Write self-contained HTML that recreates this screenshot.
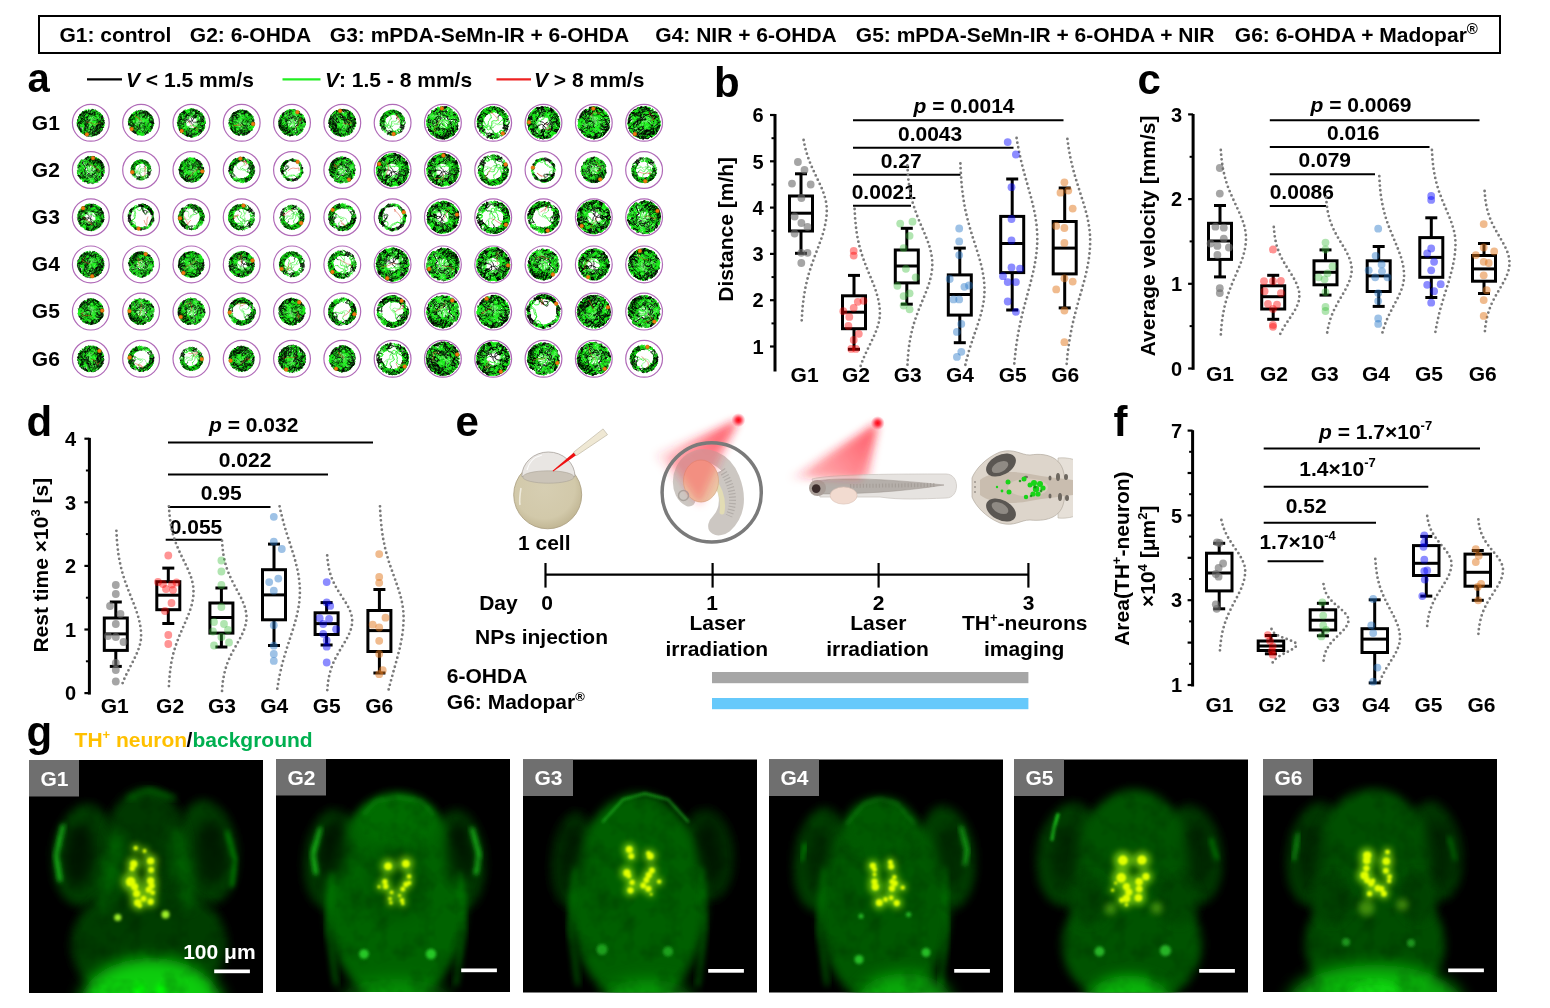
<!DOCTYPE html>
<html><head><meta charset="utf-8"><title>Figure</title>
<style>
html,body{margin:0;padding:0;background:#fff;}
body{width:1550px;height:1008px;overflow:hidden;}
svg{display:block;will-change:transform;font-family:"Liberation Sans",sans-serif;font-weight:bold;font-size:21px;}
</style></head><body>
<svg width="1550" height="1008" viewBox="0 0 1550 1008">
<rect x="39" y="16" width="1461" height="37" fill="none" stroke="#000" stroke-width="2"/>
<text x="59.4" y="42">G1: control</text>
<text x="189.8" y="42">G2: 6-OHDA</text>
<text x="329.8" y="42">G3: mPDA-SeMn-IR + 6-OHDA</text>
<text x="655.3" y="42">G4: NIR + 6-OHDA</text>
<text x="855.8" y="42">G5: mPDA-SeMn-IR + 6-OHDA + NIR</text>
<text x="1234.8" y="42">G6: 6-OHDA + Madopar<tspan font-size="15" dy="-8">&#174;</tspan></text>
<text x="27.4" y="92.3" font-size="40">a</text>
<line x1="87" y1="79.3" x2="122" y2="79.3" stroke="#000" stroke-width="2.2"/>
<text x="126" y="87"><tspan font-style="italic">V</tspan> &lt; 1.5 mm/s</text>
<line x1="282.5" y1="79.3" x2="320.5" y2="79.3" stroke="#22ee22" stroke-width="2.2"/>
<text x="325" y="87"><tspan font-style="italic">V</tspan>: 1.5 - 8 mm/s</text>
<line x1="496.5" y1="79.3" x2="531" y2="79.3" stroke="#ee2222" stroke-width="2.2"/>
<text x="534" y="87"><tspan font-style="italic">V</tspan> &gt; 8 mm/s</text>
<text x="31.8" y="129.5">G1</text>
<text x="31.8" y="176.7">G2</text>
<text x="31.8" y="223.9">G3</text>
<text x="31.8" y="271.1">G4</text>
<text x="31.8" y="318.3">G5</text>
<text x="31.8" y="365.5">G6</text>
<defs>
<g id="tF1" fill="none" stroke-linecap="round" stroke-linejoin="round" stroke-width="1.5" transform="scale(0.5)">
<path d="M10 5l2-2l3-2l1-3M16 -2l2-2l3-1l3 2l2 1l3 2l1 3l2 2M-11 7l1-3l0-3l1-3l3-2l1-3M0 -8l0 3l1 3l2 2l2 2M5 2l2 2l1 3l3 0l3 1l3-1l3 0l3 0l1-3l-2-3M-5 -14l0-3l1-3l1-3l1-2l-1-3l0-3l0 3l1 3l-3 2M6 5l2 3l1 2l2 2l3 0l1 3M-2 18l3 1l3-1l1-3M5 15l2-2l3-1l2-1l2-3M-9 -6l2 1l3 2l0 3l-3 1l-2 2l-3 0M-12 8l3 2l0 3l1 2l1 3" stroke="#7cf87c"/>
<path d="M-19 6l2-3l1-3l1-3l0-3l-2-2l-3-1l-2-3l-2-1M-22 -10l2 2l3 2l3 1l2 1l2 3l0 3l-1 3M-11 5l2 2l2 3l3 0l2 1l3-2l2-2l1-3l2-2l1 2M7 4l2 2l1 3l2 2l3 1l2 3l2 2M20 -7l-3 0l-3 0l-3 1l-3 0l-1-3l0-3l-2-2l0-3l-2-3M3 -20l-3 0l-2-3l-2-2M-4 -25l-2-1l-2-2l-2-3l3 0l1 3l2 2l1 3l-1 3M-4 -20l-2 2l-2 3l-3 0l-2 1l-3 0l-3-2l-2-1l-3 1M-24 -16l-1 3l-2 3l-2 1l-3 0l3 0l3 1l1-3l2-2M-5 -7l-1-3l2-2l0-3l2-2l3-1l2-2l1-3l3-2M17 -15l-3 2l-3 0l-2-2l-3-1l-2 1l-3 2l-2 2l1 3M22 1l-2-2l-2 2l-3 1l-1 3l-1 3l-3 2l-1 2M9 12l-2 2l-2 3l-3 1l0 3l-2 3l1 3l0 3M1 30l-2 2l-3 1l-3 0l-2-2l-1-3l-1-3l1-3l2-2M-8 20l1-3l1-3l3 1l2 2l3 0l3 1l2-1M7 17l3 1l2 2l2 2l2 2l2 3M14 -22l3 1l3 1l3-1l2-2M25 -23l-2-2l1 3l0 3l3 1l-2 1l-3 1l-3-1l-3 0M16 -17l-3 0l-2 2l-3-1l-3-1l-2 1l-1 3l-2 1l-3 2M-3 -10l-2 2l-3 0l-3 1l-2 3l-2-1M-16 -8l2 1l2 3l2 2l2 2M-8 17l-3 2l-3 0l-2 2l-3-1l-1-3M-20 -3l2-2l1-3l2-2l2-2l2-2l3 0l3 0M-5 -23l-3 0l-3 0l-3 0l-1-2l-3-2l-2 2l-3 1l2-2l0 3M-21 -23l0 3l0 3l1 3l2 1l3 1M-15 -12l3 1l3 0l2-2M-1 -13l2 2l1 3l1 3l0 3l2 2M-9 23l-3 1l-1 3l-3 1l-3 0l3 0l3 0M-13 28l3 0l3 0l3 0l3 1l3 0l2 1l3 0l3 0M1 10l-1-3l-2-2l0-3l1-3M-1 -1l1-3l2-2l2 2l1 3l1 3l0 3M15 15l1 3l1 2l1 3l1 3M19 26l-1 3l-2-3l-2-2M-2 2l-3 0l0 3l1 3l1 3l3 2l2 2l1 2l0 3M3 20l-3 0l-3 1l-2 1l-3-2l-3-1l-2 2l0 3M-19 24l2-2l2-3l2-2l3-1M-10 16l3 1l3-1l2 2M20 2l1-3l3-2l3 0M27 -3l3 0l2 2l-1-3l-1-3l-1-3M-9 -19l-3 2l-3 0l-3 1l-1 3M-19 -13l2 2l2 2l3 1l3 2M-12 3l-2 2l-3 2l-2 2l-3-1l-3 1M-25 9l-2-2l-2-1l-3-2M-32 4l0 3l1-3l1-3l-1-3l-2-2l3 1l2 1l2 3l1 3M-25 4l-1 2l-2 3l-2 2l2-1M-28 10l3 1l-2 3l-1 2l-2-3M-30 13l3 1l2 2l0 3l-2-2l-1-3l-1-3l1-3M-20 -13l2 3l0 3l0 3l-1 3M-19 -1l3 1l2 2l1 3l1 3M10 18l3 1l3-1l2-2l0-3l1-3l2-2l0-3l3-2l2-1M26 2l2-3l0-3l0-3l-2-2l-2-2l-2-2l0-3" stroke="#19f019"/>
<path d="M-24 -13l-3-1l-3-2l2-2l0 2l1 3l2 2l3 1M19 17l2 2l1 3l3 1l-3-2l-3 0l-2-1l-3-2M14 18l-1-3l-2-2l-1-2l-1-3l1-3M32 5l0 3l0-3l-1-2l-2-3l-2-2l-2-2l-3-2l-2-1M29 11l-3 1l-1 2l-2 3M23 17l-2 1l-3 0l-3 1l-3 1l-2 2l-3-1l-3 1l-3-1l-1-3M0 18l-3-1l-3 0l-2-2l-2-3l-1-2l0-3M7 -25l2-2l3-1l2 2l3 1l3 0l2 2M22 -23l2 2l-1-3l-2-2l2 2l1 3l-2 2l-2 2l-3 2M18 27l2-2l1-3l-2-2l-3-2M-15 -5l-3-1l-2-2l-1-3l0-3l-2-2M-23 -16l-3 1l-3 0l-2 2l2-2l3 2l1 2l3 2l3 0l3 1M-8 0l3 1l3 2l0 3l1 3l-2 2l-1 3l-1 3l-3 0M-20 17l0-3l-1-2l-1-3l0-3l0-3l1-3l1-3M-7 -13l1-3l3 1l2 2M-2 24l-2-2l-3 0l-2 1M10 30l3 0l-3 0l-2-1l-3-1l-3-1l-3-1M-1 26l-1-2l0-3l1-3l1-3l2-2l-1-3M14 24l-2-2l0-3l-1-3l-1-3l-1-2l-2-2M7 9l-2-2l-3-1l-3-1l-1-3M-13 24l0 3l-2 2l-2-3l-2-2M14 8l3-2l1-2l2-2M1 -22l-3 0l-2 2l-2 2l-3-1M-28 8l2-1l2-2l0-3M-24 2l1-3l0-3l0-3l0-3l-3-2l-2-1l2-1M-26 -14l2-3l2-2l0-3l1-3l-1 3l1 3l1 3l0 3M-7 18l2 2l3 0l3-1l3-1l3 0l3 0" stroke="#000"/>
<path d="M-12 -3l-1 2l-3 2l-2 2l-3-1M13 -4l2 2l3 1l3 1l2-2l0-3l1-3l3-1l3 1l2 2M-14 -4l0-3l-1-3l3 0l2-2M-10 -12l1-3l-3-1l-3-2l-2-1l-3 1M5 16l-3 1l-2 1l-3 1l-3 1l-3 1l-2-2l0-3l-2-3M-13 13l-2-2l-1-2l-2-3l0-3l-1-3M-2 17l-2-2l-3-1l-1-3l0-3l-1-2l-3-2M-12 4l-3 0l-2 1l0 3l1 3l-2 2l-2 3M18 2l-3-1l0-3l-2-3l2-2l2-2l0-3l-3-1l-3-2l0-3" stroke="#7cf87c"/>
<path d="M-21 2l-3-1l-1-3l-1-2l-3-2l-1-3l1-2l2-3l3-1M-24 -15l-1-3l-1-3l-2 3l-1 3l-1 2M-30 -13l-1 3l-1 3l2-2l1-3l2-2M-27 -14l3-1l3 0l1 3l2 1l3-1l2-2l1-3M-12 -17l0-3l1-3l1-3l3-1l1-3l2-2l-2 1l-1 3M-7 -28l0 3l2 3l-3 0l-3-1l-2-2l-2-2M-18 -16l2 0l3 2l-1 3l2 3M-12 -8l2 0l3 2l1 3l2 2l3 0l3-1l2-2l1-3M32 -6l1 3l0-3l-1-3l-3-1l-2-2M17 -24l-3 0l-1 3l-2 2l-1 3M10 -16l-2 1l-3 1l-3-1l-2-2l-3 1M16 18l-3 0l-2 1l-3 1l-3 2l-3 0l-3 0l-3 0M-4 22l-3-2l-3 0l-2-2l-2-1M-14 17l-3-1l-3 0l-3-1M-23 15l-1-3l0-3l1-3l2-2l2-2l3-1l2-2l0-3M-20 -18l-2 2l-2 2l-3 0l-3 2l-2 2l1-3l3 0l3 0M-25 -13l3-1l1-3l1-3l2 0l3 1l2 2M-18 -7l-2-2l0-3l0-3l-2-2l0-3l-1-3l-1 3l-1 2M-23 -17l1-3l-1-3l3 0l3 0l0 3l-2 2l-3 1M-23 -10l0 3l0 3l-2 2M-25 -2l-3 0l-2 2l-1 3l0 3l0 3l2-2l3 0l3-2l2-1M5 0l0 3l3 1l2 1l3-1l3 0l2 3l0 3l-2 3M16 13l-2 1l-3 1l-3 1l-3 0M-19 0l-2-2l-1-3l-1-3l1-3l3-2l0-3l2-2M-17 -18l2-3l2-1l3 1l2-2l3 1l3 1l2 2M0 -19l1 3l0 3l-2 3l-2 2l-3 0l-3 1M-16 1l-3 1l-3-2l-2-1l-2-3l-1-2l-3-1M-12 13l0-3l1-3l1-2l0-3l-1-3l-1-3l-2-2l-1-3M-20 -17l-2-2l0-3l1-3l1 3l1 3l3 0M-16 -19l2-2l2-2l-1-3l-1-3l-2 3l-1 3M-17 -23l-2-1l-3-1l0 3M29 -10l-2-1l-3-2l-2-2l-1-2l-2 2l-3-1l-2 3l-1 3l0 3M-20 16l-2 2l-2 2l3-1l2 2l1 2l1 3l1 3l1-2M-15 27l3-1l3 0l3 0l2-3l0-3l1-2M-3 18l1-3l2-2l3-1l3 0l3 1l3 0M24 19l-1-2l3-2l3 1l-3 2l-1 2l2-2M27 18l2-2l1-3l2-2l-3-1l-3-1l-2-2l-3 0l-2-3l-1-2M11 -18l-2-2l-1-3l0-3l-3-2M5 -28l-2-2l-2-2l3-1l3 2l2 2l3 1l2 1M22 -16l3-2l2-2l-2 2l0 3l-2 3l-1 2l-2 3l-1 3l-1 3M1 -1l-2-3l-1-2l-1-3l2-2l1-3l2-3l1-3l0-2l3-1M9 -15l-3 1l-3 1l-3 1M-11 -21l0-3l2-1l3-1l3-2l3 0l2-1M2 -29l3-1l3 1l1 3l3 1l3 1l3-1M18 -25l2 2l3-2l-3-2l-1 3l1 3l2 2l2 2l3 0l-1-2M13 -16l1 2l-2 3l-3 1l-3 0l-2-3M-13 -22l-2 2l-3 1l-3 0l-3 1l-3-1l2-1l1-3l-1 3" stroke="#19f019"/>
<path d="M-23 -13l2 2l1 3l3 2l2 1l3 2M-15 -27l-3 2l-2 2l0 3l-1 3l3 1M5 -7l2-2l3 0l2 2l1 3M27 -12l-2-3l-2-2l-1-2l-1-3l-1-3l-2-2l-1 3M-13 -17l0 3l-1 2l-1 3l-3 2M-25 -18l0 3l2 2l1 3l-3 0l-2 2l-3 0l-1 3l-3 2l3-2M-31 -5l2-2l2-2l1-3l2-2l1-3M-22 -17l-3 2l0 3l2 2M-21 4l3-2l3 1l0 3l2 2l0 3M-9 -7l-3 0l-2 2l-1 3l-1 3M-30 -7l-2 2l-1 3l3 0M-30 -2l2 1l1 3l2 2l2 3l1 2l2 3l0 3M-20 15l-1 3l1 2l3-1M-17 19l3 0l1-3l1-3M-15 -9l-2-3l0-3l-3-2M13 -7l-3 1l-3 1l-2 2l-1 2l-1 3l3 2l2 2l2 2l1 3M11 11l1 3l0 3l-3 1l-3 2l-3-1l-3-1l-2-1M12 13l2 2l2 2l3 0l3 1l2 1M18 -1l-2 2l-3 1l-1 2l-2 2l-3-1l-2-2l-2-2l-2-2M6 -23l3-2l3 0l3 0l3 0M18 -25l2-1l-2 1l-1 3l-1 3l-2 1l-3 1l-2 2M0 -12l-3-1l-3-2l-2-1l-3-2l0-3M26 -19l-2-3l-2-2l-1-2l-3-1l-2 3l0 3l-1 2l-2 3M4 -13l0-3l-2-1l-2-2M0 -19l-3-1l-1-3l1-3M-3 -26l1-3l0-3l-2-1l-3 1l-1 3l-2 2l-1 3l-2 2" stroke="#000"/>
<path d="M-11 9l-1 3l-3 1l-3 1l-3 1l-3-1l-2 2l0 3M-3 5l0-3l-2-2l-2-2l0-3M5 -17l0 3l-2 3l1 3l0 3M2 -8l-2-2l2-2l1-3l2-2l2-3" stroke="#7cf87c"/>
<path d="M-20 -8l-2 1l-2 3l2 2l2 2l1 3l3 1l2 3M-9 16l3 1l2 2l-1 3l-1 3l-1 3l-1 3M-8 31l3-1l3-2l1-2l2-3l1-3M2 20l1-3l2-2l2-1l3 2M12 29l3 0l0-3l-1-3l-2-3l-3-1M9 19l-2-2l-1-3l-1-3l-1-2l-2-3l-2-2l-1-3l-1-2M-13 5l2-3l0-3l3 0M16 -20l2-3l0-3l2 2l2 3l1 3l3 2l2 0l2 3M-13 11l0 3l0 3l-1 3l0 3l1 3l2 2M-11 28l3 1l2 2l2-2l-1-3l-1-3l3-1l2-2l3 1l1 3M3 24l1 3l-2 2l-3 1l-1 2M-4 22l-2-2l-1-3l-1-3l0-3M-8 11l1-3l2-2l3 0l2 2l2 1l3 1M5 10l3-1l3 2l1 2l2 3M14 16l2 1l2 2l3 1l3 1l-2 2l-1 3l-3-2l-2-2l0-3M25 7l2-2l1-3l3 0M31 2l-3-1l-2-1l-3-1l-3 2l-1 3M4 9l0 3l0 3l-1 3l-3 2l-1 2M-1 22l-3 0l-3 1l-3 2l-2 1l-3 1M-7 -5l3-2l2 1l2 3l-1 3l-1 2M-4 -15l3 1l2 2l0 3l0 3l-3-1l0-3l-1-3l-1-3l-1-2M-5 -18l1-3l0-3l0-3l-1-3l1-3M-4 -33l-3 1l-3 2l-2 2l-1 3l-2 2M-27 -16l-1 2l-1 3l2 2l3-1M-24 -10l2-1l3-2l3-1l1-2l3-2l1-3l1-3M-10 -24l0-3l-1-2l1-3l-3 0l3 1l3 1M9 -20l-3 1l-3-1l-2-2l-3-1l0-3l-1-3l1-3M-13 -14l-3 1l-2-1l-3 0l-2 2l-3 1l-3 1l-3-2M-32 -12l3 1l3 1l3-1l2-2l2-2M-6 -31l3 1l3 1l1 3l0 3l1 2l-1 3l-2 2M4 -5l0 3l-1 2l-1 3l-2 3l-2 2M-2 8l-2 2l-2 2l-1 3l1 3l2 2l-1 3l1 3M12 23l1-3l2-2l1-3l0-3l-2-2l-3 1l-3-1l-1 3M7 13l-1 3l-3 1l0 3l1 3l3 1l3 1l3 0l2 1M18 19l-1-3l-3-1l-2-1M13 23l1 3l3 0l3 0l1-3l2-3l-1-2l2-3l-2-2l0-3M22 10l-2-3l-2-1l-3-3l-1-2l-2-2l-3-2l-2-2l-3-1l-2-2M12 -26l3-1l3-1l-2-2l-2 3l-3 0l-3-2l-3 1M-3 -23l-3 0l-3-1l-3 1l-3 0l-1-3l-2-3l3 2M-25 -20l-1 3l-2 2l-3 1l-1 3l2 2l-1 3l0 3l0 3l1 3M-30 3l1 2l-1 3l0 3l2 2l3 0l1 2M-19 22l2-1l3-1l2-2l3 0l3 1l2-3M0 -1l3-1l3-1l3 1l0 3l1 3M10 4l-2 2l-1 3l-2 2l0 3l1 3l1 3l1 2M19 24l1 3l1-3l1-3l-2-2l-1-3M19 16l-2-2l-3 0l-3 1l-3 0l-1-3l1-3M8 9l0-3l-3-1l-3 0l-3-1l-2 2l-3 1l-2 2l-3 2M-11 11l-2 0l-3 1l-3 0l-3-1l-3-1M-25 10l-2-3l-2-2l-2 2l2 2l3 1l3 0l2-2M-21 8l0-3l0-3l0-3l0-3l-1-3M-22 -7l-1-3l-2-2l-3 1l-1 2l0 3l-2 3" stroke="#19f019"/>
<path d="M-3 -16l-3 0l-3 2l-2 2l-1 3l-2 2l-3 0l-3-1M-14 7l1 2l0 3l2 3l2 1M10 16l1 3l2 2l1 3l-2 3l-2 2l0 3l2-3M-2 -1l-3-2l-3 1l-1 3l1 3l-1 3l-2 2M-26 19l2 2l3 0l2 0l2-2l-2-3l0-3l0-3M-19 10l2-2l3-1l1-2M-8 -1l1-3l3-1l2-2M-2 -7l3-1l2-3l3 1l2-2l3-2l2-1l1-3l2-2M30 -13l0 3l0 3l3 2l-2 2l-3 0l-3 1M-2 32l2 2l3-1l-1-3l1-3l-1-3l-3-2l-3 0M16 19l2-2l2-2l-1-3l0-3l3-1l3-1M19 4l-2 2l-2-1l-3 0l-3 2l-2 2l-3 0M-15 27l-3 1l3 0l3-1l2-2M-10 25l2-2l1-3l3 1l3-1l3-1l-1-3M1 16l-1-2l-1-3l-1-3l-1-3M-22 -22l3 1l2-1l0-3l-3 0M-20 -25l3 0l3 0l2 3l3 0M-9 -22l2 2l1 3l2 2M-15 -23l-2 2l-3-1l-3 2l-2 2l-2 2M-7 -30l2-2l3 2l1 3l3 0l3 1l1-3M6 -29l3-1l3 0l-1 3l0 3l0 3l-2 1M-2 -32l-2 2l-1 3l0 3l-1 3l0 3l-2 2l-2 2l-3 0M-19 -15l2-3l0-3l1-3l3 1l2-1l1-3l1-3l3-1M14 -27l3 0l3 1l-2-1l-3-1l-3 2l-2 2l-1 3l-2 3l-2 1M-4 26l2 2l3 1l1 3l3 0l2-2l2 1l1-3l0-3l2-2M15 26l3 1l-1-3l0-3l1-2M12 14l-3 2l0 3l2 1l2 3M7 -20l1-3l2-2l2-1M5 -28l-1 3l-2 2l-3 2l-2-2M-24 15l1 3l1 3l0 3l3-2M-4 16l1-3l3-2l2 2l2 2l3 1l3-1l3-1M13 14l0-3l-1-3l-1-3l-2-1l-3-1l-3 1l-3-2l0-3M8 22l3 0l3 0l3 0l2 2" stroke="#000"/>
<path d="M14 -3l-3-1l-1-3l-2-2l-2-1l-3-2l-3-1l-3 0M-3 -13l-2-1l-1-3l-3 0l-3-1l0-3l2-3M6 12l1 2l2 3l1 3l-2 2l-3-1l-3-1l-1-2l1-3l-1-3M-8 10l-3-1l-3 0l-1-3l0-3l2-3M-15 10l2 3l3 0l3-1M-7 12l2-1l2-3l2-1l2 2l0 3l-1 3l-2 3l-1 2l0 3M-10 -11l1 3l-1 2l-3 2l-3 1l-3-1M10 -1l2-2l3 2l1-3l0-3l1-3l2-2M4 -1l-3-1l-2-3l-3-1l-1-2l-3-2l-3 1l-3-1l-2 1l-3 0M13 -9l2 3l0 3l-2 2l1 3l-1 3l2 2l-2 3l-2 1M-8 -2l-3-2l-2-2l-3-1l-2-2l-1-3l-3-1l-3 0" stroke="#7cf87c"/>
<path d="M25 -2l-3 0l-3 1l-3 0l-2-2M-10 -24l1-2l1-3l0-3l1 3l2 2M-5 -27l-3 2l-3 1l-2 2l-1 3l-3 1M-17 -18l0 3l2 3l2 2l0 3l0 3l2 1M-11 -3l1 3l0 3l0 3l1 3l1 3l3 0l2 2l1 3l2 2M0 19l2 2l2 3l3 0l2-2l3-1l2 2l2 2l2 3M11 22l0-3l1-2l3-2l3 1l2 1l3 2l2 2l-3 1l-3 1M19 23l-2 3l-2 2l-3 1l-3 0l-2 2M3 9l-3 0l0-3l0-2M0 4l2 1l2 3l2 1l3 2l-1 3l0 3l-1 3M7 20l-2 3l-1 3l0 2l0 3l-3-1l-1-3l-3-1M-3 26l-2 2l-3 1l-2 2M-20 -14l0 3l2 2l0 3l0 3l0 3l2 2l2 2l0 3l-1 3M13 23l3-1l3 1l2-1l2-2l2-2l2-3l-2-3M25 12l1-3l1-3l-1-2l-1-3l-3-1l-2 1l-3 2l-1 2l-2 3M10 20l1 3l3 1l2 1l3 1l1-3M17 26l1-3l-2-2l-2-2l1-3l0-3l-1-3l-3 1l-2 2l-2 3M-1 -16l-3 1l-3-2l-2 3l-1 3M-19 -4l-3-1l-2-2l-2-2M-19 -14l3-1l0-3l-1-3l-2-2l-2-2l2 2l3 0l3 1M-13 -22l2 1l3 1l3 0l3 0l2-2l2-2l1-3M16 -27l-3-1l-1-3l-2 2l-1 3l1 3l0 3M10 -20l0 3l2 2l3 1l3 0l2 3l3 0l3 0l3 0M28 -5l0 3l2 2l1 3l0 3l-1 2l-1 3M29 11l1 3l2-2l-1-3M31 -1l-2 2l-3 1l-3 0l-3 2l0 3M20 7l0 3l0 3l-1 3l-1 2M-15 -27l3-1l2-2l3 0l3 1l2 2l3 0l3 0M4 -27l3 2l2 1l3-1l3 0l3 0l3 1l-3 0l-3 1l-1 2M14 -21l1 3l0 3l0 3l2 3l1 2l3 1l3 1l1 3l1 3M32 10l0-3l-1-2l2-3l-3 2l-2 2M20 -12l1 2l-2 2l-2 3l-3 0l-3 2l-2 2l-3 1l-2-1M-19 -9l-2-2l-2-3l-2-2l0-3l0-3l2 2l0 3l-2 3M-25 1l3-1l2-1l2-3l0-3l1-2l0-3l0-3M-17 -15l-1-3l1-3l-1-3l1-3l1-3l2 3l3 0l3 1l3 1M-5 -25l2 2l2 2l3-1l1 3l2 2l2 2l1 3l3 2l2 1M11 11l-3 0l-3 0l-3-1l-3 1l-2-3l-2-2l0-3l-2-2l-1-3M-25 -13l-2 2l-3 1l-2 2l3 1l3 1l0 3l3 0l3-1l3-1M-17 -5l1-3l0-3l-1-2M-17 -13l-1-3l1-3l1-3l-1-3l3 0l3 0l3 0M-8 -25l3-1l3-1l2-2l3 0l3-1l2-2" stroke="#19f019"/>
<path d="M18 28l-3-1l-1-3l-3-2M7 31l1-3l2-2l0-3l1-3l0-3l0-3l-3-1l-2-2l-3-2M-2 2l2 3l1 3l2 2l3 2M1 12l-3 0l-3-1l-3-1M-13 0l0-3l0-3l0-3l0-3l2-2l-1-2l-3 0l-3 0l-2 2M-3 23l3 2l1 3l3 1l3 0l2-2l2-2l2-2M14 8l-1 3l-3 1l-2 2l0 3l2 3M20 23l2-2l3 0l-2-2l-3-1l-1 3l0 3l-2 2l-2 3l2-3M-26 -9l-1-3l0-3l0-3M-27 -18l1 3l-2-1l0-3l1 3l2 2l3 0l3 0M3 -27l3-1l1-3l3-1l2 2l1 3l3 2l3 1l3-1M22 -25l2 2l-1 3l-3 1l-2-3l-2-2l0-3M29 -11l3 1l-2 3l-2 2M31 9l-3-2l-2-2l-1-3M25 2l-1-2l0-3l3-1l3 0l3 1l-2 2M26 1l3 1l0 3l1 3l2 2l-1 3l1-3M28 6l-1 3l-2 2l-1 3l-2 3l1 3l3 0l-3-2l-1-2l-3 1M19 17l-2-1l-3 0l-2-2l-2-3l0-3l0-3l-1-3l1-3M19 -12l2-3l1-2l2-3l2-1l-2-1l-3 1l-1 3l1 3l-1 3M-25 -14l0 3l2 2l0 3l1 3l0 3M-31 -3l2 2l1 3l3-1M8 -32l-2-1l-3 2l-2-1l-3 1l-3 2l-2-2l2-1l3-1M-2 -33l2 3l-1 2l-2 2l-3 0M-6 -26l-3 0l-3 0l-3-1l-3 1l2 1l3 0l3-1M-10 -26l3-1l3 0l2-2l0-3" stroke="#000"/>
<path d="M-2 9l2-2l2-2l2-2l1-3l3-2l2-2l1-3l3-1l2-2M16 -10l1-2l3-1l2-3l0-3l-3 1l0-3l-2-3M-2 -10l-2 3l-3 0l-3 0M-10 -7l-3-1l-1-3l-3-1l-1 2l-2 3M-8 -3l-1 3l-3 0l-3 2M-10 2l1 2l3 1l3 0l2-2l3-2l1-3l1-3M5 -15l-1-3l0-3l0-3l0-3l2-1l3-2l2 2l1 3M-16 -5l-1 3l-1 3l0 3l1 3l0 2l-2 2l-2 3M4 -18l-2-2l-3-2l0-2l-2-3l-1-3l0-3l1 3" stroke="#7cf87c"/>
<path d="M-10 31l-1-3l0-3l-1-3l-2-2l-1-3l0-3M-13 3l0-3l1-3l2-2l3 1M-7 -4l0 3l0 3l0 3l-1 2l-2 2l-2 3M-9 24l2 2l-1 3l0 3l0-3l-1-3l0-3M-9 23l-2-2l-2-2l-1-3l-2-3l-1-3M-17 10l1-2l-1-3l-2-3M-5 20l1-3l-1-3l1-3l2-2M-20 -7l3 1l3-2l1-2l-2-3M-15 -13l1-3l2-3l1-2l2-3l2-2l1-2M-1 13l-2-2l-3-1l-1-3M-15 2l-3 1l-2 2l-3-1M4 -5l1-2l1-3l1-3l-2-2M12 -25l1 3l-2 2l-1 2l-1 3l2 3M11 -12l2 2l2 2l0 3l-2 3l-1 3l-1 3l-1 2l0 3l1 3M11 12l3 1l2 2l3-1l3 0l2 3l3 0l3-2l-2-2l-3-1M25 12l-2-3l-3 0l-2-3M18 6l0-3l3-2l2-1l1-3l3-1l3-1M18 18l-3 2l-3 1l-2 2l-2 2l-3 1l-3 1M0 23l2-2l2-3l2-2l2-1l3-1l3 1l3 0l3 1M27 9l-1-3l-1-3l0-3M25 0l1-2l0-3l0-3l1-3l2-2l-1-3M30 -6l-3 0l-2-1l-2-3l1-2l0-3l-2-3l-2-1l-3-1l-2 2M15 -18l-3 1l-2 2l-1 3l2 3l2 2l2 2l1 3M16 -2l3 2l2 1l3 1l2-3M26 -1l3-1l3 0l1-2l-1-3l-1-3l-2-2l-2-2l-2-2M6 -23l-3 1l-1-3l-2-3l-2-1l-3 0l-3-1l-3 1l-3 1M-26 -17l3-1l3-1l2 1l3 2l0 3l0 3l1 3l3 1M-20 9l-3 0l-3 1l-3 1l1 3l2 3M-25 1l1-3l2-1l3 0l3-1M-16 -4l3-2l2-2l2-2l1-3l-2-3l2-2l3-1M-5 -19l1-3l1-2l2-2M-1 -26l1-3l1-3l3-2l1 3l0 3l3 2l3 0l2 1l3 2M31 -12l-3-1l-2-2l-2-2l-1-3l-2-2l-2-2M-5 -21l-3 0l-3 0l-1 3l1 3l2 1l3 1M-6 -13l3 1l3 1l3 1l2-2l3 0M8 -20l-3 0l-3-1l-3-1l-3 0l-1-3l-2-2l0-3M-7 -30l-1-3l3 2l3 1l3 0l1-3M-13 23l0 3l3 2l1 2l2 3l3 0l2-2l3 0M14 24l1 2l-2 3l1-3l1-3l3-2l2-1l3-2l2-2l3-2M28 14l3 0l-3 0l-3-1l-2-2M23 11l-3-1l-3 1l-3-1l-2-2l-1-3M11 5l0-3l0-3l-1-3l0-3l-2-2l-2-1l-2-2l0-3l0-3M-3 -30l1 3l-1 2l-2 2l-2 2l-2 3l-3-1M-12 -19l-1-3l1-3l-2-2M-26 -21l-2 3l3-1l3 1l3-2" stroke="#19f019"/>
<path d="M-15 14l1-3l2-2l0-3l-1-3M-12 12l-2 2l0 3l1 3l1 2l3 2M-19 2l-3 1l-2 2l-2 3l1 3l1 2l-2 3l-1 2l3-1M-24 17l2 3l1 3l3 0l1-3l3 0l3 1l3-1l3 0M17 -24l-3 0l-3-1l0 3l-3 2l-3 1l-2 2l-2 2l-1 3l-2 2M7 16l-3 0l-2-2l-3-1M-7 7l2-2l1-3l2-2l2-3l-2-2l-3 1l-3 1M-23 4l-2 2l-3 1l-3 0l-2-1l3-1M-30 5l3-1l1-2l-1-3l0-3l-2-2l-3 0M-32 -6l2-1l3-1l3 1l3 2M-21 -5l2 1l3 0l3 1l3 2l0 3M30 -5l3-1l-1-3l-2-2l-3-2l0-3l1-2l-2 1l-3-1M2 27l-2 1l-3 0l-2-2l2-2l3-1M20 16l3 1l2 2l3-2l0-2l-1-3l0-3M28 -16l2 2l1 3l1 3l-2 2M25 -16l-2-3l0-3l-1-3l-3 0l-3 0l-3 1l-2 2l-3 2l-2-3M-14 -28l-1 2l-3 1l-3 1l-2 2l-2 2l-1 3l-2 2l2-2M-22 0l-1 3l0 3l1 3l0 3l0 3l1 2l-1 3M-22 20l1 3l2 3l2-3l0-3l1-3l1-3l0-3l-2-2l-3 0M-26 17l0 2l-2-1l0-3l1-3l-2-3l2-2l0-3l2-3M16 -23l3 0l2 2l3 2l2 2M26 -17l2 2l0 3l3 0M19 -24l-1-3l-3 1l-3-1l-3 0l-3 1l-3 2l-2 2l-3 1l-3 0M8 -12l2-3l0-3l-2-2M-2 -32l-1 3l-2 2l-3 1l-3 0M-11 -26l-2 2l-2 2l-1 3l2 3l0 3l1 3l-1 3l-2 2M-21 14l-3 0l-3 1l-3 0l0-3l-2-3M-32 9l2 0l3-1l3 1l2 2l2 3l3 1l2 2l1 3l1 3M1 31l3 2l0-3l3-2l3-1l1-3l3 0M-14 -27l-3 1l-2-2l2 2l0 3l-3 1l-3 0l-3 1" stroke="#000"/>
<path d="M3 -3l-2 2l-3-2l-3-1l-3-1l-3 0l-2 2l-2 2l-2 3l-2 2M9 -15l0-3l0-3l2-2l3 0l2-3l0-3l2 2l1 3l1 3M7 -17l-3-2l0-3l-1-2l-2-2l-1-3M-11 -6l2 2l3 0l2-2l3 1l3 0l3 1l3 1l2 2l0 3M1 -1l-2-2l1-2l1-3l1-3l2-2l3 0M2 14l0 3l-3 2l-2 2l-2 2l-3-2l-1-3l-2-2l-2-3l-1-3M-18 3l2-2l3-1l2-2l3 1l3 1l3 1l1 2l-1 3M-2 6l1 3l1 3l-2 3l-1 2l-3 1" stroke="#7cf87c"/>
<path d="M-5 -22l-1 2l-1 3l2 3l2 2l2 2M-1 -10l2 2l3 1l3 0l3-1l2 1l3 2l2 2l3 2l2 2M22 1l0 3l-2 2l1 3l-1 3l-1 2l-1 3l-3 0l-3 0M12 17l-1-3l0-3l-1-3l0-3l1-3l1-3l-3-1l-3-1l-3 0M-19 4l-2 2l-1 3l1 3l0 3l1 2l1 3M-19 20l2 2l3 1l3 2l3-1l1 3M-7 27l1 3l1 2l2 2l2-3l-1-3l-2-2l-3-1l-3 2l-1 2M-11 29l-2-3l-2-1l1-3l1-3l1-3l1-3M0 2l3 1l3 1l3 0l2-2M11 2l2-3l0-3l-1-3l-1-3l-2-2l0-3M20 -21l1 2M0 -29l1-3l-2 2l-1 3l-2 2l-2 2M-6 -23l-3 1l-2 2l-3 2l-3 0l-1 2M-18 -16l-1 3l1 3l3 2l0 3l-2 1l-3 2M-14 -24l3 2l0 3l-3 1l-1 3M-27 -14l-2-1l3 0l3 0l2-1M12 -21l-2 2l-3-1l-3 1l-1-2M3 -21l-3 0l-3-1l-2 3M-5 -19l-1 3l-3 0l-1 3M-10 -13l-1 3M17 -10l-3 1l-1 3l-2 1l-2 3l-1 3l1 3l3 0M12 4l3-1l3 0l3 0l2 2l2 3l-3 2M22 10l-2 1l-3-1l-3 1l-2 2l0 3l0 3l0 3M12 22l-1 3l-3 2l-3 0l-2 1l-3 2l-3 1M-3 31l-2 1l-3-2l-1-2l-3-2l-3-1l-1-3l-1-3l1-2M-5 5l2 1l2 3l-2 2l2 3l3 0M-20 -3l1-3l2-1l3-1l3-1l3-1l2 2M-1 -17l-2 2l-3 1l-3 0l-3 1l-2 3l-1 2l-3 1l-1 3M-23 3l-1 2l0 3l2 3l2 2l0 3l0 3M-17 17l1-2l0-3l0-3l-1-3l-3-1l-2 2l-3 2M-21 10l2-2l3-1l1-3l3-2M-12 2l3 1l2-1l3 1l3-2l2 1l2 2l0 3l0 3l-2 3M10 31l3-1l1-3l3-1l3 0l2-2M26 -13l-3 1l-2 1l-3 1l-3-2l-3-1M12 -13l-1-2l-2-3l-2-2l-2-2M-19 -20l2-2l2-2l0-3l1-2l2 1l3 2l2 1M-7 -25l2 3l2 1l2 2l3 1l2 2M4 -16l3 2l1 2l3 0l3 0l3 2l0 3l-2 3l3 1l3 1M27 -7l3-1l3 2l-1 2l1 3M13 14l-2 2l-2 2l-2 2l-2 2l-3 2M2 24l-3 1l-1 3l-3 1l-1 3l3 1l-2-3l-3-1l-3 1M-11 30l-3-1l-2-1l1 2l1-3l0-3l0-3l-1-2l-2-3l0-3M-6 18l-2 2l-2-3l-3 0l-2 2l0 3l-2 1M-17 23l-2 2l2-1l2-2l3-2l3 1l2 1" stroke="#19f019"/>
<path d="M-6 -28l1-3l0 3l0 3l0 3M-11 13l1-2l3-2l0-3l2-3l2-1l3 0M23 -18l-1 3l-2 3l-1 3l-2 1l-3 0l-1-3l-1-3M12 -14l3-2l1-2l3-2l0-2l0-3l-2 2l0 3M17 -20l0 3l-3 1l-2 2l-3-1l-2-2M-20 -2l-3 1l-3 0l-2-1l-3-2l-2-2M-33 -6l1-3l1-3l3-2l2-1l1-3l0-3l3-2l2-2M-20 -25l2-2l2 2l2 1M-15 -15l-3 0l-3 1l-3-1l-3 1M-21 -16l3-1l3-1l3 0l3-2l2-2l3-1l2-1l3-1M1 -25l3-1l3 1l3 1l3 0l2-2M15 -26l3 0l-3 0l-2 2l-1 3M10 2l-2 2l-3-1l-2-2l-2-2M7 -13l3 1l3-1l2-1l3-2M18 -16l-1-3l3-1l2-2l3 1l-1 2l-3 2l0 3l-2 2l-2 2M-16 17l3-2l3-1l3 0l1 2l1-2l-1-3l0-3l1-3M-14 10l0-3l-2-2l-1-3l-2-2l-1-3M2 -33l1 3l0 3l0 3M3 -24l0 3l-2 2l-2 2M-19 -4l0 3l-1 3l-3 1M-20 19l-3 1l-1 3l1-2l3-2l3-2M-25 9l-3 0l-2 1l3 0l3 0l3 0M1 13l2 3l1 2l0 3l0 3l2 3l3 1l1 3M22 24l0-3l2-2l1-3M25 16l2-2l2-3l0-2l3-2l-1 2l0 3l-1-2l-1-3M29 7l1-3l2-2l1-3M33 -1l-2-3l-2-2l-3-1l-1-2l1-3l3 0l-3-1M21 -2l3 1l1 3l-1 2l2 3l2 2l3-1l-3-1l-3-1M25 6l-2-2l0-3l1-3l1-3l2-2M33 -1l0 3l0 3l-3 0l-3 0M27 5l-3 1l-3-1l-2 2l-2 2l-2 3l-2 2M-17 13l-2-2l-1-3l-1-3l3-2" stroke="#000"/>
</g>
<g id="tF2" fill="none" stroke-linecap="round" stroke-linejoin="round" stroke-width="1.5" transform="scale(0.5)">
<path d="M-15 -10l-1 3l1 3l2 2l1 3M-2 9l0-3l-1-3l2-3M-8 4l-1 2l3 2l3 0l1-3l2-2M0 3l3 0l2-2l3 1l3-2l1-3l3 1l3-1l3-1l3 1M-7 0l-3-1l-2-2l-3 0l-3 1l-3 0l-3 0M-2 10l3 0l1-3l1-3l-1-3l-2-2l-2-1l-3-1M-5 -3l-3 0l-3-1l-3 0l-2 3M-3 4l0 3l-2 2l-2 2l-2 2l-2 2l-3 0l-3-1l-3 1l-3 1M12 -4l2-3l1-2l2-2l2-2l2-3l1-3M0 18l0-3l2-2l0-3l1-3l1-3l2-2l3-1l2-2l2-2M17 6l0-3l0-3l2-2l3-1l2 3l2 2M-14 6l3-1l3-1l2-1l3 0l1-3l3 2M1 2l3 0l0 3l1 2l0 3M7 14l-1 2l-1 3l-1 3l-2 1l-3 1l-3 1l-3 1M-14 -8l3 0l3 2l2 1l3 2l2 2l-2 2l-1 3l0 3M-4 7l0 3l3 1l3 0l2-2l2-1l3 0l3 0" stroke="#7cf87c"/>
<path d="M14 -10l1-3l3-2l2-1l3-2l2-1l0-3l-2 1M23 -21l-3-2l-2-1l-2-3l-3-1l-2 2l-2 1M9 -25l-2 2l-3 1l-3 1M1 -21l-3 1l-3-1l-2 2l-3 2l-1 2l-2 3l-2 2M-5 23l1 2l2 3l3 1l1 3l3-1l3-1l2-1l2 2M12 31l-1-2l-1-3l-1-3l2-2M11 21l2-3l3 1l1 2M17 21l1 3l1 3l-3 2l-3-1M-1 0l-2-3l-1-2l1-3l1-3M-2 -11l-1-3l1-3l-2-3l-3 0l-2 2l-3 0l-3 0l-2 2l-2 3M19 -19l-2-3l1-3l0-3l-2-1M11 -20l1 3l0 3l-2 2l-2 3l-1 2l-2 3l-3 1l-2 2M0 -1l-2 2l-3 2l-3 1M24 -3l1 3l1 3l0 3l-3 2l-2 2l-3 1l-2 2l-3 1l-2 2M-26 -7l3-2l1-2l1-3l-1-3l0-3l1-2l3-2M-7 -27l3-1l3-1l3 0l3 0l2 2l-1 3M5 -8l0-3l0-3l-3-1M2 -15l-2-2l-3 0l-3 0l-3 2l-3 1l-3 0l-2-1M-17 -15l-3-1l-3-2l-2-1M-25 -19l1 2l-2 3l-3 0l3-1l3 1l3-1M-20 -15l2 3l3 1l0 3l-1 2M-16 -6l-1 3l-2 2l-2 3l0 3l-3 1l-2 2l-3 1M-16 -1l0 3l2 1l3 1l3 0l3-2l2 2M-23 16l-2 1l-3 0l3 0l1 3l0 3l-2-2l3 1l2 1l3-1M8 12l2-2l0-3l2-3l-1-2l0-3l1-3M-4 31l0 3l0-3l0-3l2-3l2-2l1-3l-1-2M13 -3l3 1l2 2l1 3l-1 3l1 3l-2 2M17 11l-2 2l-3 0l-2 2l-3 2l-1 3l-2 2l-1 3l0 3l0 3M3 31l1 3l-3-1l-2-2l-1-3l2-2l2-2M2 24l3-2l2-2l2-2M9 18l1-3l1-3l2-2l2-2l2-2M31 2l-2 2l-2 2l-2 3l-1 2l1 3l2 2M27 16l-3 0l-3-2l-2-1l-3 0M16 13l-3 1l0 3l1 3M12 28l-3-1l-2-2l-2-2l-2-3l-2-1l-2-2M-1 17l-3-1l-2-2l-3-1l-3-2l-1-2l-1-3M5 10l3 0l3 1l3 0l3-1M17 10l3 2l3 1l0 3l0 3l-2 2l-1 3l0 3M9 -14l3 0l3-2l2-1l3-2l2-3l-1-3l-2-1l-3-1M14 -17l-1 2l-1 3l-2 2l-1 3l0 3l-2 3l1 3l-2 3M6 5l1 3l1 3l-1 3M-17 25l-1-3l-1-3l-3 0l-3-1l-3-2l-2-2l2-2l2-2M-26 10l-2-2l0-3l-1-3M12 8l1-3l-1-3l-3-1M9 1l2-2l-1-3l0-3l0-3l2-3" stroke="#19f019"/>
<path d="M21 -1l-2 2l-2-1l-3-1l-3-1l-1-3l2-2l2-3M-12 1l1 2l1 3l1 3l0 3l0 3l1 2l2 3l1 3M13 28l-2 1l-2 3l0-3l2-3M11 26l0-3l1-3l2-1l3-1l2 3l3 0l3 1M25 22l-3 1l-3 0l-3 1l-2 2l-3 1l-3 0l-2-2l-3 0M3 25l-3 0l-3 1l0-3l-1-3M-4 20l0-3l1-3l1-2l0-3M16 -29l-3-2l-1 3l-2 2l0 3l1 3M11 16l-3 0l-2-3l0-2l-1-3l-2-3l-2-2l-2-2l-3-1l-3 0M-24 -2l-3 1l-3 0l-3 0M-33 -1l-1-3l2-2l3-1l3 0M-18 -24l2-2l3 0l3-1l3 0M6 -24l1 3l3 1l3 1M13 -19l2 1l3 2l2 2l0 3l2 2l2 2l3 2M27 -5l1 2l1 3l1 3l1 3l2 2l-3-1l-2-2M28 5l2-3l2-2l0 3M-29 9l-3 1l2 2l2 3l2 2l3 0l3-2l3 1l3-2M-14 14l3 2l2-2l2-2l2-2l3 0M-18 22l3-1l3 1l3 0M-9 22l3 0l1-3l3 0l3-2l3-1l2-1l2-3M22 -19l2 1l3 0l-2-1l-3 0l-3 2l-2 2l-3 1l-3 1M26 2l3-1l2-3l1-2l0 3l-1 3M14 20l1 3l1 3l2 2l-3-1l-3 1M1 -15l3 1l3 1l2-1M16 -27l-3-1l-2-2l3-1l-3-1l-1 3l1 3l1 3l1 3l1 3M-7 26l-3 1l-2 1l-3 2l0-3l-2-2M-29 2l-1-3l0-3l0-3l2-2l3 0l3-1l3 0l2 1l3 1M12 -13l1-2l0-3l2-3l2-2l-2-3l-2-2l-3-1l-1-3M9 -32l3 1l0 3l2 2l2 2l3 0l3 0l-1 3l0 3l-1 3" stroke="#000"/>
<path d="M8 -5l3 0l3 0l2 1l3-2l3 1l2 1l3 1M6 -1l-2 3l-1 3l-1 2M12 15l-3-2l-3-1l-2-2M4 10l-1-3l-1-2l-2-3l-3 0l-2 2l-3 0M0 8l1-3l1-3l-2-2l-3-2l-1-3l0-3M-4 -8l-2-2l-2-2l-3 0l0 3l-1 2l1 3l3 1l2 1l2 3M-4 1l2 2l0 3l0 3l3-1l2 2l3 0l2 3M4 -2l2-2l3 0l2-2l2-3l3-1l3-1l2 2l0 3" stroke="#7cf87c"/>
<path d="M-19 -13l1 3l1 2l3 2l1 3M-13 -3l2 1l3 1l3 2l3 0l2-1l3-2l2-2l3-1M27 -3l1 3l1 3l3 2l-3-2l0-3M14 13l2-2l2-3l2-2l3 1M23 7l2 2l-1 3l1 3l3 1M28 16l0 3l-3 1l-2-2l-3 0l-3-1l-3-1l-2-1M-8 4l-3-1l-2-2l-3-1l-3 2l-3-1M-18 20l2 2l2 2l3 0l2-1l2-3l2-2l2-2M-3 16l2-3l1-2l-1-3l-3-1M-4 7l-2 2l-3 0l-3 1l-2 1l-2 3l0 3M32 3l-1 3l-2-1l-3-1l-3 1M18 8l-3-1l-3-1l-2-1l-3 0l-3 1l-1-2l-3 1l-3 1l-2 3M-18 1l-1-3l-3-1l0-3l1-3l0-3l3-1l0-3l1-3M-17 -19l-3-1l-3-1l-3-1l1 3l1 3M-24 -16l-1 2l-1 3l-2 3M-19 -4l3 1l3 2l2 1l3 0l3-1l3 1l3 0M1 0l3-1l3 0l3 0l3-1l3 0l3 1M11 17l-3-1l-2-2l-3-2l-2-1l-1-3M3 2l1 3l0 3l0 3l-1 3l-2 2l-2 2M-1 19l3 0l2 2l3 0l0-3l0-3l2-1l2-3l3-1l3-1M17 9l3 1l2 1l3 1l2-2l3-1l1-3l2-2l0-3l-1-3M26 -14l-2-2l-3 0l-3 0M18 -16l-1-2l-2-3l1-3M16 -24l-2-3l-1-3l-3 0l-2 2l-2 3l-1 2l-1 3M4 -20l1 3l2 2l2 3l-1 3l-1 3l0 3M7 -3l-2 2l0 3l1 3l0 3l1 3l1 2l0 3l-1 3l-3-1M16 24l3-1l2-2l2-2l3 0l3-2l-3 2M20 27l1-3l3-1l-3 0M21 23l-3 0l-2 2l-1 2M15 27l-3 1l-1 3l-3 1l3 0l-3 0l3 0l0-3l0-3l-2-2M-20 19l-3 0l-3-1l-3 0l3 0l3-1l1-3l3 0l3 1l3 1M-7 29l-3-2l-2-2l-2-1l-2 2l-1 3l0-3l-1-3l1-3M-26 -3l1-2l0-3l1-3l0-3l0-3M-24 -17l-1-3l2 2l0 3l0 3l-2 3M-33 2l2-2l3-1l2-2M-26 -3l2-3l3 0l2-2M-8 -10l3 1l3-2l2 1l1 3l0 3l3 2M20 -15l-3 1l-3 1l-1-3l-1-3l1-3l2-3l0-3l-3 2l-3 1M-18 -20l-2 3l-1 3l1 3l-1 3l-2 2M-23 -6l-3 1l0 3l0 3l0 3l0 3l-2 3l-1 2M0 21l2 2l3 2l2 0l3 2M10 27l2 2l-3-1l-2-1l-3-2l-3 1M1 26l-3-2l-3 0l-3 1l-2 1l-2 2l-3 1l-2-2l-1-3l1-3M-17 21l2-2l2-2l1-3M-12 14l-1-2l-3-2l0-3l1-2l3-2l3 0M-9 3l3 0l3 2l3 0l2-2l2-2M4 1l1-3l-1-2l-3-3M1 -7l-3 1l-3 0l-2-2l-1-3l-3 0M-11 -11l-2-2l-2-3l3-1l3 0l3-2l2-2M-9 -29l-1-3l3 1l3-1l3-1l2-1" stroke="#19f019"/>
<path d="M29 0l-1-3l-1-3l-3 0l-3-1M21 -7l-3 0l-3 0l-3 1l-3 1l-2 2l-1 2M2 7l1 3l2 2l2 2l3 1l3 1l1-3M-22 1l-2 2l-3 1l-3 1l-3 0l3-1l2 2l2 2l0 3l1 3M-25 14l2 2l2 2l3 2M23 5l1 3l-3 1l-3-1M-5 9l-3 0l-3 0l-3-1l-2-2l-1-3l-1-2M-28 -8l-1 3l-1 2l-3 1l2-2M-31 -4l3 0l3 1l3 0l3-1M19 -1l3 0l2 1l0 3l0 3l0 3l-2 2l0 3l1 2l0 3M23 19l-1 3l-2-1l-3 1l-2-3l-1-3l-3 1M11 -13l-3-1l-3 1l-2 1l-1 3l1 3l0 3l1 3l-1 2M-1 18l-2 3l-2 2l-1 3M-6 26l-2 2l-2 2l2 3l-1-3l0-3l1-3l2-2l2-2l3-1M32 -2l0-3l-3-2l-1 3M28 -4l-3-1l-1-3l1-3l1-3M4 18l-1 2l-2 3l1 3l3 2M5 28l2-2l3-1l3-1l3 0M9 24l-3-1l-3 0l-2-1l-3-1l-3-1M-5 20l-3 1l-3-1l-3-1l-3 0l-3 0M-13 16l1 2l1 3l1 3l1 3l1 3l2 1l-1-2M-17 20l-2-2l-3-2l-2-2l-2-2l-3-1l-2-1l-1-3M-32 7l2-3l0-3l1-2l3-2M-25 -9l-3 0l-3 1l1 3l1 3l-2 2l-2 2M-19 -8l3-1l2-2l3 0l3 1M9 -25l-1 3l-3 0l-3-1M2 -23l-2-2l-3-1l-3 0l-3 0l-3-2l-2 2M-14 -26l-3 2l1 3l-2 1M-29 12l0 3l3 2l3 1l2 2l2 2M-19 22l3 1l2 1l3 1l3-1l3-2l2-1l3 0M-4 -21l1-3l0-3l-3-2l-3 0" stroke="#000"/>
<path d="M-2 1l2 2l-1 3l-3 1l-2 2l-3 0l-3-1l-1-3l-1-3M10 9l3-2l2-1l3-2l2-1M17 3l-1 3l1 3l3-1M4 7l-2-1l-3-2l-3-1l-2-2l-1-3l-2-2l-3-1l-3 1M-4 2l3-1l1-3l1-3l0-3l-2-2l3-2M12 -4l3-1l3 1l2 1l3 2l3-1l2-1l3-2l2-2M-12 13l3 1l3 0l2-2l3-1l2-2l1-3M6 -8l1-3l0-3l-1-3M6 -17l-1-3l-1-2l-2-3l-1-3l3 1" stroke="#7cf87c"/>
<path d="M-16 17l-3 1l-1 3l2 2l3-1l3 0l2 2M-22 -17l1 3l0 3l2 2l0 3l0 3M-19 -3l0 3l-2 3l-3 0l-3 1l-2-1M-29 3l-3-2l-1-2l2-2l3-1l1-3l2-3l0-3l1-2l2-3M-22 -18l3 0l2 1l3 2l3 1l2 2l1 2l2 3M-6 -7l1 3l1 2l2 3M-14 2l-3-2l-2 2l-3 2M-22 4l-2 2l-2 2l-3-2l-2-2l1 3l3 0l2-1l1-3l2-3M-13 18l-3 1l-3 1l-3 1l-3 0M-25 21l-1-2l-3-2l-1-3l3 0l3 0l3 0l3-1l2-2M-15 -12l1-2l2-3l1-2l2-3l3-1l3 0M16 -19l3 0l3 0l2-1l3 1l-2-2l-2-2M23 -23l-2-2l-3 0l-3 1l-3 0l-3 0l-3 0l-3 2M3 -22l-2-1l-3 2l-2 1l-3 1l-3 0l-3-1M-13 -20l-3 0l-3 1l-1 3l-1 2l-1 3l2 2M-20 -9l-2 3l0 3l-2 2l-3 1M-12 -13l1 3l1 2l2 2l3 0l3 0M21 16l-3-1l-3 0l-3 0l-2 2M10 17l-3-1l0-3l-3-2M4 11l-1-3l-2-1l0-3l2-2l3 0M24 12l3-1l2-1l3-1M15 10l1-2l2-2l3-2l3-1l3-1l2 1M16 24l0 3l-2 3l3-1l2-2l-3-1l-3 0l-2 2l-3 1M8 29l-2 0l-2-3l2-3l2-2l0-3M8 18l1-3l0-3l1-3M25 6l-2-1l-3-1l-3-1M20 8l3 1l3-2l0-3l0-3l0-3l0-3l-3-1l-1-3M21 -6l0 3l-2 3l-1 3l0 3l0 3l-1 2M-15 -4l-2 2l-1 3l2 2l3 2l2 1M-11 6l1 3l-1 3l1 3l-1 3l-3-1l-2 2M-16 19l-1 3l-2 3l-1 3l2-3l3-1M-15 24l1-3l-1-3l1-3l-3-2l-1-3l-3 2M-14 2l2 1l3 1l3 0l2-2M-9 -21l2 3l2 2l2 2l3 2M0 -12l2 2l-1 3l-2 2l-2 1l-2-3l2-2l3-1M0 -10l2 2l2 2l2 2l3 0l3 0M1 -34l-2 1l-3 0l-3 1l-3 2l-2 2l0 3l-3 1l-3 1l-3 1M-21 -22l-3 1l-1 2l-1 3l0 3l2 3l-1 3l-1 3l-2 2l-1 3M-29 1l-1 2l-1 3l-2 3l1-3M-32 6l2-3l1-3l1-2l3-2l3 0l3 1M-19 -3l2 1l0 3l0 3l-2 3l-3 1l-3-1l-2-2M-27 5l1-3l0-3l1-3M-25 -4l2-2l3-1l2 2l0 3l-2 2M-20 0l-2 3l1 2l3 2l2 2l3 2l1 2M2 6l1-3l1-3l1-2l1-3l0-3M7 -17l3-1l3-2l2-1l2-2M10 -31l-3 0l-3 1l-3 0l-3-1l-3 0l3 1M-2 -30l2 2l0 3l-3 2l-2 1l-3 1M-8 -21l-3 2l-2 2l-1 2l-3 2l-3-1" stroke="#19f019"/>
<path d="M-10 24l3 2l2 1l3-1l2-2l2-2l3-1M5 21l3 1l2 2l2 1l3 2l3 1l-3-2l-3 0l-2-2l-2-2M8 22l-2-2l1-3l0-3M7 14l1-3l-1-3l-2-2l-2-2l-3-1l-1-3l-1-3l-2-1M-4 -4l-2-3l-1-3l1-3l-1-2l-2-3l-3-1l-2 2l-3 0l-3-1M-20 -18l-3 1l-3-2l1-3l-2 3l3 0l2 2M8 13l2 2l2 3l2 1l3 0l3 2l0 3l-2 2l-1 3M17 29l-2-1l-3 0l-3 1M9 29l-3-2l-3-1l-3 0l-3 0l-1-3l-1-3l-2-2l-3-1l-3 1M-16 11l1-2l1-3l0-3l-1-3l2-3l-1-3l-1-3l0-3M-3 -23l3 0l2 2l1 3l-1 3M2 -15l0 3l3 0l3-1l3 0l3-2l-1-3l3-1M-27 0l-3 1l-3 1l3-2l1-3l2-2M-27 -5l2-2l2-2l3-1l2-3l3-1l3 1M26 19l-2 2l-1 2l1-2l2-2l3-2l-3 0l-3 1l-2-2M6 2l2 2l3 2l2 2l2 1l3 1l3 1l3 1M32 9l-1 2l-2 3l0 2M29 16l-2-1l-3 0l-3 0l-3 0l-3-2l0-3M29 3l2 3l2 2l-3 1M30 9l-3-2l-3 0l-2 3l-1 2l0 3M21 15l0 3l3 2l-1 3l2-2l-1-2M24 19l-2-3l-2 2l-3 1l0 3l-1 2M20 3l3 0l3 1l2 2l3 2l-3 0l-3-2M17 11l-3 2l-3-1l-3 0l-2-2l-2-3M-21 12l-3 0l-1-3l0-3l0-3l2-2l3-1l3 1l3 1M2 -12l0-3l0-3l2-3l-1-2l-2-3l-2-1M-1 -27l-3-1l-3 0l-3 2l0 3l1 2M4 -27l1 3l-2 2l-3 0l-2 3l1 2l3 2l3 0l2-2M17 -23l-1-3l3-2l-3 1l-3 1l-2-2l-1-3" stroke="#000"/>
<path d="M2 2l-2 1l-2 2l-3 0l-3 1M-8 6l-3-1l-3 1l-3-1l-2 1l-3-1l-3 1l0-3l3-1l3-1M5 -11l-1-2l2-3l1-2l1-3l2-2l3-1l1-3M-2 -6l3 2l0 2l0 3l0 3l-1 3M0 7l-2 3l-2 1l-2 3l-2 2l-3 2l-2 1l-1-3l-3-2l-2-2M-17 -5l-1-3l-3-2l0-3l3-1l2-2M-17 -8l-2 2l-1 2l-3 2l-3-1M-9 -12l-2 2l-3 1l-2 1l-3 1l-3 0l-3-1M-8 11l2 2l2 1l1 3l1 3l-1 3l-1 2l-3 2M10 -14l0 3l2 2l2 1l2 3l2 2l0 3M18 0l0 3l-1 3l1 3l1 3l-1 3l-3 1l-3-2l-3 0l-2-2M7 12l-3 0l-3 0l-3-1l-3-1M-12 2l-3 1l-3-1l-1-3l-3-2l-1-2l-3-2" stroke="#7cf87c"/>
<path d="M-22 0l-1-2l1-3l-1-3l-3-2l-2-1l-3-1l0 3l1 2M-30 -7l0 3l0 3l2 1l3 0l1-3l-2-3M6 -22l3 0l3 1l3 1l2 3l1 2l0 3l1 3l-2 3M-19 1l2 1l3 0l3 0l3-2l2 1l2 3l3 1l2 1M11 16l3 0l1-2l-1-3l1-2l1-3l0-3l2-3l-1-2M14 -27l1-2l1 2l1 3l-1 3l0 3l-2 3l-1 3l-3 0l-2 2M4 -28l3 0l2 2l3-1l1-2l-3 1l-3 1l-2-2l-3-2M2 -31l-2-2l-3 2l-1 2l-3 1l-3 1l-3 1M-7 -17l2-2l3 1l3 0l0-3l1-3l-1-3M-23 13l2 2l3 1l3 0l3 1l2 2l3 1l3 1M22 -9l-3-2l-2-2l-2-2l-3-1l-3-1l-3 0l-3 0l-2-2M1 -19l-3 1l-2 2l-3 2l-2 2M-25 -8l-1-3l1-3l1-3l2-2l1-2M-22 -16l-2 2l-1 3l0 3l1 2l3 2M-23 -10l0-2l3 0l3 0l3-1l3 0l3-1l2-3M25 4l-3 1l-2 2l-3 0M17 7l-2 2l2 3l3 0l2 0l2 3M24 15l3 1l-2-2l0-3l-1-2M24 9l-3-2l-1-3l1-3l-2-2M-5 10l-2-2l1-3l-1-3l2-3l-1-3l-3-1l-2-1l-1-3M-19 -7l-1 3l-2 2l-3 2l-2-1l-3-1M-26 1l1 3l1 3l3 0l3 1l2 1l3 2l2 2M-11 13l3 0l3 1l3-2l1-2M-1 10l-1-3l-2-2l-2-2l-3 0l-3-1M-20 -14l-3 0l-1 3l-3 1l-2-1l-2-3l3-1l1-2M-23 -10l-2 3l-1 2l-1 3M-30 15l1 2l2-2l3-1l1-3l1-3M-22 8l-1-3l-1-3l0-3l1-2l-1-3l-1-3M-25 -9l1-3l-1-3l2-3l2-2l1-3M-15 -11l-2 3l-3 1l-2 2l-3 1l-2 2l-3 1l-1 3l0 2M-31 4l1 3l0 3l2 3M-33 2l3-1l2-2l3-1l2-2l2-2l2-2M-19 -8l0-3l2-2l2-2l3-1l3 0M-9 -16l2 1l3 1l3 1l3 2l1 3l-2 2l-3 1l-2 2l-3 1M-7 -2l-3 1l-3 0l-3 2l-1 2l-1 3M-18 6l1 3l0 3l-1 3" stroke="#19f019"/>
<path d="M-26 -6l-2-2l-2-2l3 0l2-2l2-3l2-2l2-2M-19 -19l3-2l2-2l3-1l1 3M-10 -21l2 2l3 1l2 2l3 0l1-2l3-2l2-2M17 -6l-1 2l-3 1l-3 1l-3 0l-2 2l-3 2M1 6l2 2l3 1l3 1l1 3l1 3M17 -2l-2-3l-2-1l-2-3l-3 0l-3-2M-19 12l-2-2l-1-3l2-2l3-2l2-1l1-3l-3-1l0-3M-16 -16l3 0l3-1l2 1l3-2l0-3l1-3l3-1l2-3l3 0M-13 -26l-3 1l-2 2l0 3l2 2l3-1l3 0l3 2M1 -27l-1-2l-3-1l-2 2l-2 2l-3 1M-10 -25l-2 2l-1 3l-2 2l-2 3l2 2l1 3l-3 2M-26 -3l-3 1l-3 1l1 2l2 3l1 3l1 3l1 2l3 1M-4 21l3 0l3 1l3 1l3 0M-21 -21l2-3l0-3l0 3l-2 2l-1 3l0 3M-21 -4l0 3l2 1l0 3l0 3l2 3l3 0l3 0l3 2M-7 27l-2 2l-2 2l3 0l2-2l3 0l3-1l1-3l1-3M2 22l3-1l3 0l3 1l2 2M13 24l3 0l3 0l3 0l3-1l-3-1M22 22l-3 0l-3 0l-3 0l-3-1l-3 0M7 21l-2 0l-3 0l-3-1l-3 0l-3 2l-2 2l-3 1l-2 1l-3-1M-17 25l-3 0l0-3l-2-3l-2-2l-2-2l-3-1M-29 14l-2-1l1-3l2-2M-28 8l2-2l2-2l2-3l1-2l1-3l-1-3l-2-3M33 -7l1 3l-2 2l-3-1l-1 3l0 3l-3 1M19 -1l-2-2l0-3l-1-3l-1-3l-1-3l-2-2l-2 3M-12 -9l-2-2l-3-1l-1 3l-1 2M-30 -2l-3-1l3 0l3 2l1 2M-26 -7l-3 1l-3-2l3 1l3 1l2-3l3 0l1-3l-1-3M-21 -15l-3 2l-3 0l-2 2l-1 3l2 2l2 3l1 2M-27 -17l1-3l2 2l1 2l0 3l0 3M-27 -2l-2 2l-3 2l0 3l2 2l1 2l1 3l-2 3M-20 -23l-2-2l3 1l3 2l-1 3l1 2l1 3l0 3M-28 13l3 1l2-2l2-3l3 0l2-2l0-3l-2-1l-3 0l-3 0M-24 3l-3 1l-3-1l-3-1" stroke="#000"/>
<path d="M-9 -13l1 2l-1 3l-2 2l-3 1l-3 0l-2-3l2-3l1-2M-3 -10l3 0l3 1l2 2l0 3l0 3l-2 2l-2 2l-3 0l-2-2M15 -2l1-3l2-2l2-2l2-2l3-1l3-1l1-3M-2 5l0 3l-1 2l-1 3l1 3l3 2l2 1l3 0l3-2M-6 -17l-1-2l-1-3l-1-3l2-2l2-2l3-1l3-2l2 1l3 0M5 -13l3-1l3 0l3 1l2 2l2 2M14 11l-1 3l-1 2l-3 2l-2 2l-2 2l-2 3l-2 2l-3-1M6 14l0-3l-1-3l3-2l3 1l3 1l1 3l2 2l3 1l2 2M3 -5l-3 0l-3 0l-3 0l-3-2" stroke="#7cf87c"/>
<path d="M8 -10l-3 2l0 3l-3 1l-2 3l-3 0l-2-2l-1-3M-6 -6l-1-3l-2-2l-2-2l-1-3l-2-2M-14 -18l-2-3l-2-2l-1-3l1-2l3-1l3 0l1-3l-1 3l-3 2M-15 -27l1 3l2 2l1 3l1 3l1 3M-16 -13l-2-3l-2-2l-3-2M-25 -22l2 2l3 1l3 0l3 1l1 2l3-1l2 3l2 2l3 2M-4 1l-3 0l-3 2l0 3l2 2l2 2l3 2M-3 12l0 2l1 3l-1 3l-3-1M-6 19l-3 0l-3-2l-1-3l0-3l-3-1l-3-1l-3-1M-22 8l-3 0l0 3l-1 3l0 3l3 0l3-1l3-1l3 1M8 23l0-3l0-3l1-2l1-3l1-3l2-2l1-3l1-3l0-3M30 -10l-1-3l-2-3l-3-1l-2 2l-2 3l-1 2l-1 3l-1 3M17 -4l-2 2l-3 1l-3 1l-2-3l-3 1l-3 2l-2 2l-1 3M8 31l0-3l-2-2l-2-2l1-3l0-3l-2-2l-2-2l-1-3l1-3M6 -31l2 2l0 3l-1 3l-2 2l-2 2M-13 5l2 2l-2 3l1 3l1 3l0 3l0 3l0 3l0 3l3 2M-21 13l1-3l1-2l2-3l0-3l0-3l2-2l3-1l0-3M6 -15l-2 2l0 3l2 3l1 3l-3 1l-3 2l0 3l-2 2l-3 2M-19 6l-3-2l-2-2l-2-2l-3 0l-2-2l-1-3l-1-3l2-3l1-2M-15 -13l3-1l3-1l3 1l2-1l3 1l3 1l3 0M18 -9l2 3l0 3l0 3l0 3l0 3M20 6l-1 2l-3 1l-2 2M-2 26l-2 2l-3 0l-3-2l0-3l2-3l1-3M20 3l1-2l2-2l2-3l1-3l3-1l3 0l-1-3l-1-3M30 -14l-2-2l-2-3l-2-1l-1-3M-12 -31l-3 1l2 2l-1 3M-18 15l0 3l1 2l1 3l0 3l2 2M-14 28l3 2l2 2l2-2l3 0M-4 30l2-2l2-3l-1-3l1-2l2-2l3-2l1-2M23 18l-1-3l-3 0l-2-1l-2-3l-1-3l3-2l1-2M18 4l0-3l-2-2l-3 0l-3 0l-3 0l-2-2l-2-2M-9 -7l-1-2l1-3l0-3l0-3M-4 -27l3-1l3 1l3-2l3 0l3 0l2-1l-3-1l-2-1M-2 -10l3-1l2-2l3 0l3 0l2-3M11 -16l2-2l1-3l0-3l1-3l1-2l1 3l-1 2" stroke="#19f019"/>
<path d="M-23 -20l-2-2l3-2l-3 2M-14 16l2 2l0 3l1 3M-11 24l-3 1l-2 2l2 3M-14 30l3-2l1-3l-2-2l-1-3l2-2l0-3l-3-1M-14 14l-2-2l-1-2l0-3l-2-3l-3-1l-2-3M29 -16l-2-2l-2-3l1 3l1 3l3 1l1 3l1 3l-2-2M8 17l2-2l1-3l-2-2l-1-3l0-3l1-3l3 0M12 1l2-2l2-1l3 1l3 0l3 2l3 0l2 2l2 2l0 3M32 8l0 3l-3 1l-3 0l-3 0l-3-1M20 11l-3-1l-2 2l-1 3l-3 2l0 3l-1 2l-1 3l-1 3l0 3M1 8l2-2l2-2l2-2l2-3M9 -1l2-1l1-3l2-3l1-2l0-3l1-3l-2-3l-3-1M3 -19l-3 2l-2 1l-2 2l-3 1l-3 1l-3 2l-1 2M-14 -8l-3 1l-2 2l1 3l0 3l2 2l3 2M-8 30l0 3l3-1l2-2l2-2l1-3l1-3l-2-2l-3 0M-4 20l-3-1l-3 0l-2 1M-12 20l-3 0l-3 0l-3 2l-1 2l-2-2l-2-2l2-2l3-2l0-3M-12 -7l-2-2l0-3l-1-3l2-3l2-2l2-2M-9 -22l3-1l3 2l1 2l3 2l3 1l2 1M-4 6l-3 0l-3-1l-3 0l-3 1l-3 0M-25 -1l3 2l2 1l3-2M-17 0l1-3l-1-3l-3-1l-2-2l-2-2M-24 -11l-3-2l-2-1l2 1l3-1l3-1l3 1l3 1M-7 17l3-1l3 1l2-2l3 0l3-1l3 0l3-1l3-1l3-1M19 11l0-2l2-3l-1-3M23 -23l-3 0l-3 0l-3-1l-3-1l-2-1l-3-2M6 -28l-3 1l-2 2l-3-1l-2-2l-3 0l-2-3l-3 0M-14 -25l0 3l-1 3l-3 2l-2 2l-1 2l-3 1l-2-2M22 16l3 0l2 2l2-3l-1-3l-2-2l-1-3l-3-1l-2 2M20 8l-2 3l2 2l1 3l2 2l2 2l-2-2M-9 -18l0-3l1-3l2-3l2 0M8 -32l-3-1l-3 0l-3 1l-3 1l-3 0M-7 -31l-2 2l-2 3l-2 0l-3-1l-3-1M-19 -28l1 3l3 2l0 3l1 3l2 2l2 2l2 2l3 1l3 0" stroke="#000"/>
<path d="M-12 -12l3 0l2-2l2-3l2-2l1-3l3 1l2 2l3 1M1 -2l3 1l0 3l-3 1l-2 2M-1 5l-3 0l-2 3l-2 2l-3-2l-3 0l-3 1l-2 1l-2 3M12 4l2 2l2 2l0 3" stroke="#7cf87c"/>
<path d="M-25 -14l0-3l0-3l2 0l2-2M-17 1l3 2l1 3l-1 3l-1 3l-2 0M-17 12l-2-2l0-3l-1-3l2-2l1-3l-2-2l-3-1l-3 0M6 -18l3 0l2-2l2-2l1-3l2-2M16 16l-3 0l-3 1l-3 1l-1 3l-1 3l-2 2l-1 3M15 2l-2 3l3 2l2 1M18 8l2 3l2 1l3-1l2-2M27 9l2-2l3-2l0-3l1-3l-2-1l-3 1l-3 0M25 -1l-3 2l-1 2l0 3l-3 2l-1 3M17 11l-2 2l-3-2l-2-1l-3 1l-3 1l-2 2M2 14l-1 3l0 3l3 1l2-2l3 0l3-1l1-3l3-2M16 13l2-2l2-2l0-3l1-3l-1-3l-1-3l-1-2l-1-3l0-3M17 -11l1-3l3-1l1-3l-1-3l-2-1l-3-1l-3-1l-3-1l-3 0M-3 -8l-3 0l-2 1l-3 0l-3 1l-2 3M-16 -3l1 3l1 2l3 2l2-1l3-1l1-3l2-2l0-3M-2 -23l-3 2l-1 2l-2 2M-30 -13l2 2l-3 2l-2 1l2-2l2-2l3-1l2-2l2-2M-26 -7l1-3l0-3l1-3l0-3l1-2l3-1l3 0l3 0l3-2M-11 -24l1-3l3 0l3 1l3 0l2 1l3 2l3 0M15 -26l2-2l-3 0l-2 2l1 3l3 0l2 2l3-1l3-2l2 3M17 19l-2 2l-2 3l-3-1l-2-1l-3 2l-3 1l-3 1M-1 26l-3-1l-1 2l-2 3l-2 0l-3 0l-3 0l3-1l3 0l3 0M-22 -10l2 3l2 2l2 2l3 0l3-2M-10 -5l2 1l3 1l3 0l3 1M-21 13l0 3l0 3l0 3l-2 2l3 0l3 0l2-3l0-3l2-2M-13 16l2-2l3 1l3 1l1 3M6 23l1-2l3 0l2-3l3-1l2-1l3 1l3 0M23 17l3-1l3 2l-2-3l-1-2l0-3l0-3l-2-2M30 -9l-1 3l0 3l2 2l3 2M16 -24l0 3l1 3l0 3l0 3l1 3l-1 3M17 -6l1 3l2 3l0 3M20 3l1 3l2 2l2 2l3 0l3-1M31 9l0-3l3-1l-1-3l1-3l-3-1l-3-1l-2-2M26 -5l-3 2l-3 0l-3 1l-2 1l-3 2l0 3M16 11l2 2l1 3l3 1l3 2M25 19l2-2l-3 1l-3-1M21 17l-3 0l-2-1l-2-2M14 14l-2-3l1-3l0-3l0-3l2-2l2-3l2-2l2-2l3 0M24 -7l2-2l3 0l3 1l-3 1l-1 2l0 3l-1 3M27 1l-1 3l1 3l0 3l2 2l-2 2l-2 2M25 16l-3 1l0 3l-2 2l-3 1M14 -15l-3-1l-3 0l-3 1l-2 2l-3-2l-3 1" stroke="#19f019"/>
<path d="M-24 0l-1-3l2-2l-1-3l-1-3l0-3M-21 -22l2-3l1-3l2-1l2 2l1 3l1 3l-1 3M-13 -18l2 2l-1 3l-3 1l-2 2l0 3l-2 3l0 3l2 2M-25 -4l-3 0l-3-1l3-1l3-2l3 1M-22 -7l2-1l3-1l3-1l2-2M16 -27l3-1l-2 3l1 2M18 -23l0 3l-1 3l-1 3l-3 2l-3 0l-2 2l-1 2l-1 3M6 -5l2 3l0 3l2 2l2 2M12 5l2 2l2 3l3 1l2 1l3 2l1 2l0 3M25 19l0 3l-1-2l-3-2l-2-1l-3-1M2 29l0 3l1-3l2-2M11 -20l-2 2l-1 3l2 3l0 3l1 2l2 2l3 1l-1 3l0 3M7 -25l-3 1l0 2l-1 3l-1 3l-1 3l-1 3l-3 2M-3 -6l-1-3l-1-3l0-3M-5 -15l2-3l0-2l0-3l1-3l1-3l-1-3M-2 -32l-3 1l-3 0l2 2l2 1l2 2l0 3M-22 -17l1-3l3-2l2-2l1-3l1-3l2 0M-12 -30l3 1l3 2l0 2l-1 3l-1 3l-1 3M-9 -16l0 3l-2 1l-2 3l-2 2l-3 1l-3 1l-3 0l-2-2M7 -23l3 0l2-1l3-2M26 -21l-2 2l2 3l2 2l1 3l0 3l-1 3l0 3l-2 3M26 1l-2-2l-2 3l-2 1l-2 2l-3 2l-1 3l1 3l0 3l2 3M-6 29l2 2l2-2l1-3l1-3M0 23l3 0M-26 -14l-3-1l-2 2l3-1M-28 -14l3 0l2 2l1 2M-4 19l1 3l3 0l3 1l3 0M24 5l-3-1l-3 0l-3 1l-2 2l2 2l3 0l3-2M21 7l2-2l2-2l2-1l3 0M30 2l3-2l0-3l-1-3l-2-2l-2-2l-3-1l0-3M25 -14l1-3l-1-3l2 2l-1 3M26 -15l0 3l3 0l1 3M34 1l-3 2l-3 1l-2 0l-2 3l-1 2l-2 3M21 12l-3 0l-2 3l-1 2l-1 3M17 23l-3 1l-1 3l-1 2l-3-1l-2-1l-3-2l-3-1l1-3l1-2M3 19l3-2l1-3l0-3l1-2l2-2l2-3l0-3M12 1l1-3l1-3l-2-2l3-2l2-2l0-3l-3-1" stroke="#000"/>
</g>
<g id="tR1" fill="none" stroke-linecap="round" stroke-linejoin="round" stroke-width="1.5" transform="scale(0.5)">
<path d="M13 -11l-3 1l3-1l2 2l0 3l2 3l1 2l2 3M11 -11l0-3l-2-2l-1-3l0-3l2-2M-15 0l1-3l1-3l1-2l0-3M-6 -5l2 2l3 1l3 1l2 2l3 0l3 2M-14 -6l0-3l-2-3l-1-3l-2-2l-3-1l-2 1l-3-2M8 -9l3 1l2 1l3 2l0 3l-3 2l-3 1l-2 1M16 -2l-3 1l0-3l-2-2l0-3M15 -11l0 3l1 3l1 3l3 1l2 2l3 1l2-2l3-1l3 0" stroke="#7cf87c"/>
<path d="M-9 17l3-2l3-1l3 1l1 3l3-1l3-1l2 3l3 0M27 4l0-3l-3-1l-2-3l-2-2l-2-2l-1-3l1-3l3-1l2-2M20 2l2 2l2 2l2 2l3 2l1 2l-3 0M15 27l1 2l0-3l-1-2l1-3l-1-3l0-3l0-3M15 12l0-3l-2-3l2-2l1-3l0-3l1-3l-1-3l-3-2l-2-1M10 -24l2-3l1-2l2 2l2 2l3 2l3-1l-3 0l-3 1l-3 1M-22 -18l-2 2l0 3l0 3M-24 -10l-1 2l2 3l1 2l-1 3l1 3M-12 -11l-1-3l0-3l-3-2l-2-2M18 19l-2 2l0 3l1 3l-2 3l-2 1l-2-2l0-3l0-3l3 0M23 3l2-2l2-2l3 0l3 2l-1 3l-1 2l-1 3M30 9l0 3l-2 3l-1 3M-23 -6l2 2l3-1l3-2M-3 -23l-2 2l-1 3l-2 2l-3 0l-3 0l-3 0l-3 0M-20 -16l-2 2l-2 2l1 3l1 3M-22 -6l1 3l3 1l2 1l2-2l0-3M-27 -19l2 3l0 3l3 1l3-1M-19 -13l3 1l3 1l2 2l1-3l1-3l1-3M8 -10l0-3l0-3l1-3l3-1l2 3l0 3M21 -20l3-2l0 3l0 3l-2 3l1 2l3 1l3 2l3 0M11 -16l-3-1l-1-3l-3-1l-3-1l-3 1l-2-1l-3-2l0-3M-2 -20l-1 3l-3 1l-3 2l-1 2l1 3l2 2l3 0l3-2M20 9l2-1l3-2l2-2l0-3l0-3l-1-2l1-3l2-2l3-1M0 -28l-2-1l-2-3l-3-1l3 1l3 1l3 1l1 2l2 3M5 -25l2 2l2 2l2 2l1 3l2 3l1 2M20 10l0-3l1-3l3-1l2-2l2-2l3 0l3 1l-3 0l-3 0M28 0l-3 2l1 3l2 1l3 2l-1-3l-1-3" stroke="#19f019"/>
<path d="M12 19l3-1l3 0l3-1l1-3l1-3l1-2l1-3l2-2M23 -16l3-1l3 0l-3 1l-2 2l-3 1l-3-1l-3 1l-2 2M27 12l-2 1l-3 0l-3 1l-2 2l-2 2l-1 3l-3 2l1 3l3 1M-22 3l3 2l3 1l3 1l2 1l0-3l-3-2l-1-3M-18 -21l-2-2l-2-2l-2 3l2 2l3 1l2 2M-17 -17l2 2l3 1l3 1l3 1l3-1l3 1l-3 0l-3 0M-6 -12l-3 1l-2 2l2 3l3 1M10 3l2 1l3 1l2 2l1 3l-1 3l2 3l-1 3M14 23l3-2l2-2l2-3l0-2l2-3l-2-3l0-3l2-2M27 18l0-3l0-3l1-3l1-3l-2-2M-15 16l2 2l3-1l2-2l3-2M-5 13l0 3l-2 2l-3-1l-2-2M-12 15l-3-2l-2-1l-3 1l-3 0l-3-1l-2-2M-28 10l-2-3l-2-2l1-3l2-2l1-3l2-2l3-1M-15 -7l1-2l1-3l1-3l2-2l1-3l0-3l1-3l3 0l2 3M-8 -18l0-3l-1-3l-2-2l-2-3l-1 3l-3 1l0 3M-17 -22l0 3l-2 3l-2 2l-2 2M-23 -12l-1 3l0 3l0 3l0 3l-2 2M-26 2l-2 2l-3 1l0-3l3-2M25 21l-3 0l-3-1l-3 1l-3 0l-2-2l0-3l1-3l2-2M14 11l0-3l0-3l-1-3l1-3l0-3l-2-2l-2-2l-2-2M14 -14l-1 2l-3 1l-3 0M7 -11l1-3l2-2l3-1l3-1l3-2l2 0M32 -8l-3 1l-3 2l-3 0l-2-1l-3-1l-2-3l0-3l-3-2l-2-1M-7 -27l2-2l1-3l3-1l3-1l-1 3l-1 3l0 3l-1 3l-1 2M-1 -9l2-2l1-3l3-1l1 3l2 3M24 23l2-3l-3 0l-2-2l-2-2l-1-3l-1-3l3-1M32 -10l-1 2l-2 3l-3 1l-3 2l-2-2l-3-1l-2 3M11 -9l-3-2l-3-1l2-2l1-3l-1-3l0-3l-1-2l-3-2l-3-1M33 -1l-2 2l-1 2l-1 3l-1 3M28 9l0 3l3 2l-2 2l-3-1l-3-1l-2-2l-1-2" stroke="#000"/>
<path d="M13 -6l1-2l3 0l2 3l3 1l3 1l2 2l1 2M-8 13l-2 2l-3 2l-2 2l0 3l1 3l3 0l2-2l2-2l3 0M-12 -6l-3-1l-2-2l-3 1l-3 1l-3 0l-2 2M8 2l-3 1l-3 1l-2 2l-3 1l-2-2l-3 0M-10 13l3 0l3-1l-3 0l-2 3l-1 2l-3 2l-2-3l-2-2M-5 16l2 1l3 1l3 1l2 2l0 3l1 3l2 2l3 1l3 0" stroke="#7cf87c"/>
<path d="M14 -22l1 3l0 3l-1 3l1 3M15 -10l0 3l0 3l1 3l2 2M18 1l1 3l2 3l0 3l0 3l-1 2M20 15l-1 3l-3 1l-3 0l-2-2l-3-1l-3-1l-2-3l-3 0M-24 9l2-2l2-2l2-2l2-3l1-3M-28 -17l0 3l0 3l-2 3l2 2l0 3M-23 4l2-1l2-2l3 0l2 3l3 0l3 1l2 2l2 2M-4 9l2 2l3 2l3-1l3-1l3 0l3 0l2-1l3-2l3-1M5 -8l-3 2l-3 1l-2 2M-3 -3l-2 2l-2 2l-1 3l1 3l-3 1l-2 2l-2 2l-1 3l1 2M-14 17l0 3l2 3l1 2l-2 3l-1 3l2-2l3 0M2 27l2-1l2-3l0-3l0-3l1-3l2-2l-1-3l3 1M11 10l0 3l0 3l0 3l-2 1l-3 2l-3 1l-3 0l-2 2M-2 25l-3 1l-2 1l-3 0M-32 -5l2-3l3 1l2 2l2 2M-23 -3l2 3l1 2l2 3l3 0l3 0l2 3l2 2l0 3M-10 27l0-3l2-2l3-1l-1-3l-2-3l-1-2l-1-3M-28 -5l-1 2l-1 3l-2 3l2 1l3 1l0 3l1 2l-2 2l-2 3M-30 15l3 0l3 0l3 1l3-1l2 3l0 3l-1 3l-1 2l-2-1M-20 25l-2-3l0-3l1-3l2-2l1-3M-18 11l-3-2l-2-2l-2-2M-25 5l-3-2l-3 0l-3-1M-34 2l2 3l-2-3l2-2l2-2l3 0M-8 5l-3-1l-2 2l-3 0l-3 1l-3 0l-2 1l-2 3l2 3l3 1M-21 15l1-3l1-3l3-1l3 0l2 2l2 2M-9 12l2 2l2 2l3 2l1 3l2 2l1 2l2 3l1 2l3 2M-8 29l-3 0l-3 0l-1-3l0-3l-1-2l0-3l2-3l1-2l3 0M-19 0l-3 1l-3 1l0 3l1 3l2 1l3 0l3 1M14 30l3-1l-3 0l-3 1l-3-2l-3 1l-2 2l2-2M17 9l-2 2l-2 2l-3 1l-1-3M9 11l-2-2l2-3l2-2l3-1l2 2l2 2l2 2M28 -1l-1-3l-1-3l1-3l3 0l-3 0l0 3l-1 3l-2 2l-2 3M20 9l3 2l0 3l1 3l0 3l0 3l1-3l-2-2l-3-1l-3 0M17 17l-2 1l-3-1l-3 0l-3-2l-2-2l-2-2l-2-2l-3 0M-2 29l-3-1l1-3l-2-3M-6 22l0-3l2-2l2-2l2-2l1-3M1 10l2-2l2-2l3-2l2-2l3 0l2-3l2-1l-1-3" stroke="#19f019"/>
<path d="M0 12l-3 1l-3-1l-1-3l1-3l-1-2l-2-2l-3-1M-12 1l-3 1l-2 2l-2 2l-3 2l-2 2M-24 10l-1 3l-3 0l-2 3l2-3l2-2l2-2M-15 -3l3-1l-2-2l-3-2l-3 1l-3 1l-2-2l-2-2l-2-2l-1-3M-30 -15l-1 2l-1 3l3-1l1-3l0-3M-28 -3l1 3l-2 2l-1 3l-3 1l2 2l3 0l2-2l3-2M27 4l0-3l-1-3l-3-2l-3-1l-2-2l-3-1l-2 2M28 1l2 3l0 3l2 2l1-3l0-3M33 3l-3 0l-3 1l-3 0l-2-2l-3 0l-2-2M17 0l-3-2l-1-2l-1-3l-2-3l-3 1l-2 1M-9 29l3 1l3 0l2-2l3-1M-10 27l-3 0l-3-1l-3 1l3 0l3-1l2 2l3 1l2 2l3 0M-28 0l1-3l-2-2l-3 0M-4 21l1 3l0 3l-1 3l-2 2l-2-2l-2-3M-10 10l-1-3l1-2l-1-3l1-3l0-3l-2-2M8 32l-2-2l-2-2l-3 0l-3 0l-3 0l-3 1M-17 14l-2-2l-2-2l1-3l1-3l3-1l3-1l-3-1l-3-1M-16 10l3 2l3 1l2 1l3 2M29 2l-3 0l-3 1l-2 3l-3 0l-1 3M20 9l3 1l3-1l3 0l2 2l-3-1l-1-3l0-3l2-2l-1-3M22 1l0 3l-1 2l-1 3M-3 9l-3 1l-2 2l-2 2l-2 2l3 2l3 0l0 3l1 3l-2 3M-7 27l1 3l-1 2l3 0l3 0l2 2l-2-3l-1-2" stroke="#000"/>
<path d="M8 -14l-2 3l-3 1l-3 0l-3 1l-1 3l-1 3l0 3l-1 3l-1 2M-7 5l-3 1l-3 0l-2 2M16 -5l-1-3l0-3l1-2l2-3l2-2l3 0l3 0M-11 -5l-3 1l-2 2l-2 2l-3 2l-1 3M7 17l3-1l3 0l2 0l3-2l3 0l2-1l3-1l1-3l1-3" stroke="#7cf87c"/>
<path d="M21 7l1-2l0-3l-1-3l-2-2M19 -3l1-3l0-3l-1-3l-1-3l-2-2l-2-2l-3-1l-3-1M-1 -22l-1 2l-1 3l-3-1l-3 0l-3 0M-12 -18l-1 3l-2 2l-1 3l-2 2l-2 2l-2 3l-3 2l-2-2M-30 -16l2 3l0 3l-1 3l-2 2l1 3l1 3l2 2l2 2M-25 5l2 2l0 3l-1 3l1 3l1 3l-1 3l0 3M-24 21l-1-3l0-3l2-2M-23 13l3-2l2-1l3 0l3 2l1-3l0-3M-11 6l-2-2l-2-3l0-3l1-3l0-3l0-3l0-3l0-3M-10 28l-3 1l-2-2l-2-2M-17 25l-3 1l2-2l3-2l3 0l1 2l2 2M-9 26l3 2l3 1l1 3l-1-3M-27 4l-1-2l-1-3l-2-2l0-3l-2-3l3-1l3 0l2-2M-25 -12l3 1l3 0l3-2M2 -33l2 2l3 2l3 0M18 -26l3 2l3 1l-1 3l-1 3l2 2l2 3l2 1l3 0l0 3M-27 -2l3-1l3 0l3 0l3-2l3-1l2 3l2 2l3-1l1 2M5 1l2-2l2-2l2-2l-1-3l-3-1l-3-1l-2-2M2 -12l-3 0l-2-2l-2-2l-2-2l-1-3l-3-2l0-3l1-3M3 -32l3 0l2 3l2 2l3 0l2-2l-1 3l0 3l1 3M17 -12l3-2l3-1l3 0M15 -13l-2 2l-3 0l-3 1l3-1l3 0M13 -11l2 2l1 3l0 3l0 3l0 3l1 3l1 3l3 0l2 2M5 29l1-3l2-2l3 1l2 1l3 2M24 11l1-3l0-3l-1-2l1-3l2-2l3-2l1-2M31 -6l2 2l0 3l1 2l-3-1l-2-2l-3 0M26 -2l-3-1l-2-1l-2-3l-1-3M18 -10l0-3l-1-2l-1-3l-3-1l-3 0l-2 2l0 3M-15 8l-2 2l-3 1l-2 2M-26 16l2-2l-1-3l0-3l-3-2l0-3l-1-3l-1-3M-30 -16l2-3l0 3l-1 3l-1 3l1 3l-1 3l-2 2l-1 3M-33 1l1 2l2 2l3-1l2-3l0-3l0-3l2-1l2-2l2-3M26 -18l1 3l2 3l-1 3l2 2M30 -7l2 2l0-3l-1-3l-3 0l-3 0l-2-1l-3-2M10 -17l-2-3l1-3l-1-3l-2-2l-2-2l1-3M-8 -26l0 3l-3 2l-1 3l-1 3l1 2l2 2l0 3l-1 3M-22 5l-1 2l-2 3l0 3l1 3l3 2l2 1M-19 19l3-1l3 1l3 1l3 0M-7 20l3 1l2 2l3-1l2-1l1-3l3-1M28 6l-2-2l-3 0l-1-3l-1-3l3-1" stroke="#19f019"/>
<path d="M8 -21l-1-3l0-3l-2-2l1-3l-3-1l0 3l-1 2l-2 3l-1 3M-27 -3l-2-2l-1-3l2-3l0-3l-2-2M-23 25l2 1l3 1l3 0l3 2l0 3M-12 32l0-3l-2-2l-3-2l-2-1l-3-1l-2-2M-3 31l3 1l3 0l-1-3l-1-3M1 26l-2-1l-3-2l-3 1l-1 3l-2 1M-3 29l-2-2l-2-2l-3-2l-3 1l-3 0l-3-1l-3 0M-22 23l-2-2l-1-3l-2-2l-1-3l0-3l1-3l0-3M-16 -13l1-2l0-3l0-3l1-3M-14 -24l0-3l1-3l3 2l3 0l2-2l1-3l3 0l3 0M10 -29l2 1l3 1l3 1M31 -8l0 3l-2 2l-1 3l-3 1l-3-1l-3-1l-2 2M17 1l-3 0l-2 2l-1 3l1-2l2-3M-4 0l3 2l3 0l3-1M-10 -29l-2-2l3-1l3 0l3 1l3-1l3 0M15 -20l2 3l2 2l2 2l0 3M21 -10l-3 1l-3 0l-3 0l-3 1l3-2l3-1l2-1M26 -15l3 0l-3 0l-3 0l-3-1l-3 1l-2 2M23 11l1 3l3 2l-3 2l-2 2l-3 0l-2-2l-2-2l0-3l-2-3M16 28l3 0l2-3l1-2l1-3l1-3l1-3l-1-3M-22 13l-3 0l-3 2l0 3l2-2M-30 -3l1-3l-3-2l2-2l-1-3l1-3M20 -14l-3 1l-3 0l-2-2l-2-2M5 -33l-2 2l-3 1l-2 2l-3 1l-3 1M24 -3l3 1l1 2l3 0l2 2l-3 0l-3 0l-3 0l-2 2" stroke="#000"/>
<path d="M6 -14l3 0l3 0l3 1l2 2l0 3l-1 3M-2 3l-2 2l-2 2l-2 2M-8 9l1 3l1 3l1 3l1 3l1 3M6 17l-1-3l1-3l1-2l1-3l3-2l2 0l3-2M14 1l0-3l0-3l1-3M1 14l3 0l2 2l2 2l3 1l3-1M13 -6l-3 0l-3 1l-2 2M5 -3l-3 0l-3 0l-3 1l-3 0l-3 1l-3 0l-3 0l-2-2M-18 -3l-2-2l-3-1l-2-2l-3-2l-2-1M12 -8l3 0l3 1l3 0l2-2l3 0l3 1l3 1l-2 2M18 2l3 0l3-1l2-1l3-1l3-1l-3-1M14 -9l-2 2l3 1l1 3l3 1l3 1l2-1l3-1l3 0l2-2M6 -12l2 2l2 2l2-1l3-2l0-3l1-3l1-2l1-3l2-2" stroke="#7cf87c"/>
<path d="M-14 -17l2-2l1-3l0-3M16 -5l-2 2l-3 1l-2-1l-3 2l-3 1l-2 2l-3 1M-3 24l-2 2l1 3l3 1l3 0l3-2l2-2M7 26l0-3l-1-3l0-3M16 2l3 1l2 1l1 2l1 3l1 3l0 3M24 15l1 3l3 1l-3 0M15 -8l-1-3l-2-2l0-3l3-2l3-1l3 0l3 0l2 2l3 1M15 -25l2-2l2 1l2 3l1 2M22 -21l3 0l0 3l-1 3l-2 2M22 -13l-1 3l-1 3l-1 3l-1 2l-1 3l-1 3l-2 2l-2 2l-3 2M9 10l-2 1l-3 1l3 1l1 3l1 3M9 19l1 3l-1 3l1 2l3 2l3 1M16 30l1-3l-1-3l-3 0l-3 0l-3 0l-1-3l-1-3l-1-3l-3-1M14 18l3 0l3 1l2 2l2 2l-2 2l0-3l0-3M22 19l1-3l1-3l-1-3l1-2l0-3l-2-3M22 2l-2-2l-3-1l-3-1M14 -2l-1-2l-2-3l0-3l-1-2M13 10l-1-3l1-2l3 0l2 2l3 1M21 8l2 2l3-1l2-2l3-1l0-3l-1-3l-2-2M24 -11l-3 2l-3 0l-2 2l-3 1M-26 -5l1 3l0 3l-1 3l0 3l2 2l3-1M-21 8l1-3l1-3l1-3l-2-2l0-3l2-2l1-3M-17 -11l0-3l-1-3l-2-2M-27 -20l0 3l2 2l1 3l-2 2l-1 3l2 2l3 1M-22 -4l3 0l3-1l3 0l2-2l-3 1l-3 0l0 3M-9 -25l1-2l-2-3l2-2M-8 -32l3 2l2 2l3 2l2 2l1 2l0 3l0 3l3 2l2 1M4 -20l3-3l-2-2l-1 3l-1 3l2 2l1 3l2 3l2 2l2 1M32 -5l-1 2l1 3l-1 3M22 4l-2 2l2 2l2 2M24 10l1 3l-1 3l-2 2l-1 3l-3 1M18 22l-3 0l-2-2l0-3l2-3l0-2l0-3l1-3l2-2M24 -5l2-3l2-2l1-2M29 -12l1-3l-2 2l-1 3l-1 3l2 2l1 3l3 2l1 2M33 2l-2 0l-3 0l-3-1l-3-2l-2-2l-1-3l-1-3l-2-2l2-3M18 -14l1-3l1-2l0-3l1-3M21 -18l1 3l-1 2l1 3" stroke="#19f019"/>
<path d="M-11 -25l1-3l1-3l-3 2l-2 2M-14 -27l-2-2l3 1l3 0l3-1l3 0l2 2l2 2l-1 3l-1 3M-2 -19l-2 3l1 2l1-2l3-1l3 1l2 2M25 19l-3-1l-2-1l-3-1M17 16l-2-2l-3 0l-3 0l-1-3l-2 2l-3-1l3-1l3-1l3 0M29 -16l-3 0l-3-1l-3-2l-2-1l-3 0l-1-2l1-3M28 -2l-1-3l1-2l0-3l-1-3l2-3l2 3l-2 3l-3-1l-2 0M-30 -11l3 0l1 3l0 3M-20 -19l-1-3l-3 0l-3 2M-17 -3l-2 2l-3-1l-2-2l-3-1l-3-1l-3-1l3-2l2-2M-19 -11l2-1l2-2l1-3l3-2l1-3l1-3M8 -13l0 3l-2-2l0-3l-2-2l0-3M30 -5l-2 2l-2 2l-3 2l-2 1l-3-1l-3-1l-3 0l3 1l3 1M29 -3l-3 0l-3-1l-2-2l-3-1l-1-3l-3-2l0 3M31 3l1 3l0 3l-1 3l-2 2l0 3l-2 3M18 4l0-3l-2-3l-3 1l3-1l3-1l2-2l3 0M21 -25l0 3l-1 3l-1 2l-2 3l-3-1l-3 0l-2 2l-3 1M20 -24l-1-3l-1 3l2 2l3 2l3 1l-1-3l-2 1l-2 3M22 -10l-1 3l-3 1l-3 1l-2-2l-2-2l1-3l3-1l0-3" stroke="#000"/>
<path d="M14 0l1-3l1-3l3-1l2-1l3 0l3 0l3 2l2-3l-1-2M3 14l0 3l1 3l2 3l1 2l1 3l3 1M3 14l-3 2l-3 1l-3 0l-3-1l0-3l-2-3M-15 7l-2 2l0 3l-3 2l0 3l-3 2l-2 2l2 1l3 2M9 -16l3-1l2-2l0-3l0-3M15 2l0 3l3 1l2 1l3 1l3 1l3 1l2 3" stroke="#7cf87c"/>
<path d="M-24 7l-3-2l-3 1l-1 3l1 3l0 3l3 0M-27 15l2 2l3 2l2 1l1 3l2 3l1 2l2 2l3 2l3 0M-8 32l3 0l2 1l3-2l2-2l3 0l3 0M17 -23l3-1l3 0l-2-2M10 -12l-3 0l-3 0l-3-2l-2-2l-3-1l-2-2l0-3l1-3l0-2M-5 -27l-1-3l1-3l3 0l3 1l3 1l3 1l1 3l2 2l1 3M11 -22l1 2l3 1l3 2l3 0l2 2M23 -15l3 0l3 0l-2 2l-3 2l-3 0l-2 2l0 3l2 3l1 2M22 -1l3 2l3-1l2-2l3-1l-3 0M24 6l-3 0l-3 0l-2 2l-1 3l-1 3l1 3M15 17l-2 3l0 3l-1 3l-2-2M10 24l-2-3l0-3l0-3l-3 0l-2-3l1 3l0 3M4 18l-2 3l0 3l-2 1l-3-1l-3-1l-3-1l-2-2M-11 20l-3 1l-3-1l-2 2l-1 3M-20 25l2 2l2 2l2 1M-14 30l-2-1l-2-2l1-3l3-1l2-2M-28 -11l2-2l3 1l-1 3l-1 3l-3 2l-3 0l-3 0l3-1M-31 -5l3 1l3 0l3 0l3 1l1 3l2 2M-11 10l-1 3l-3 2l-2 1l-3 2l-3 0l-2-3l-1-3M-29 8l3 0l3 0l2-2l3 0l3 1M-20 24l3-1l2-1l2-3l0-3l-3-1l-1-2l-3-1l-2-3l0-3M19 18l-2-1l-1-3l1-3l1-3l-2-2l-3-2l2-2M15 2l0-3l0-3l2-3l-1-3l-3 0l-1 2M12 -8l0-2l-2-3l1-3l2-2l2-2l3 0l2 1l2 3l1 3M23 -13l-1 3l-1 2l1 3l-2 2l-2 2l0 3l3 1l3 0M18 10l-1-3l1-3l2-2l2-2l1-3l2-2l3-1l0-3M28 -9l0-3l0-3l-2-2M19 10l1 3l1 3l0 3l-2 2l1 3l-1 3l-3-1M14 -25l1-3l-3 2l-2 2M10 -24l-2 2l0 3l-3 2l-2 2l-2 2l-2 2M-1 -11l-2 3l-1 2l-2 2l1 3l0 3M-5 2l0 3l3 2l0 3l2-1l3-1l3 0l3 0l3-1M12 7l2-2l1-3l1-3l3-1l3 0l3-1l2-1l1-3l0-3M28 -10l1-3l0 3l1 3l-2 3l0 3l0 3l3 2l2 1M31 13l-2 2l-2 2l-3 1l-3 0l-2 1l-2 3l-2 2" stroke="#19f019"/>
<path d="M12 10l1 3l-1 3l-3 1l-2 2l-3 2l-3 0l-3 1l-2-2l0-3M-4 17l0-3l-1-3l-3 0l-3 2l-2-2l-2-2M-15 9l-1-3l-3 0l-2 1l-3 0M8 29l3-1l0-3l2-2l3-2l3 0M19 21l3-1l3 1l-2-3l2-2l1-3M26 13l1-3l0-3l0-3l-2-2l-3 1l-3 1l-3 0l-3-1l1-3M31 -11l0-3l-2-3l-3 1M26 -16l-3 0l-3 1l-2-2l0-3l-1-3M21 -26l-3 0l-2-1l-2-2l0 3l1 2l0 3M30 -3l-3 0l-1 3l-2 3l0 3M-12 21l3-1l2 1l3 0l3-1l2-2l0-3l3 2l2-1l3 1M-16 2l1 3l3 1l2 3l2 1l3 1l3 2l3 0l2 1M11 29l-1 3l0-3l-1-3l1-3l-1-3M9 20l1-3l-1-3l-1-2l-3 1l-2 1M-26 12l-2-2l-1-3l-2-2l2 3M-22 6l-1-3l0-3l-1-3l1-3l1-2l1-3l1-3l3-2M27 20l-2-2l-3-1l-3 1M24 3l3-1l3-1l3 0l-1 3l-2 2l-1 3l-1 3M28 12l0 3l-2-3l-2-1l-3-2l-3 1M26 -17l0-3l-2 2l0 3l1 3l1 3M26 -9l-1 3l-2 2l-1 3l-2 2l-1 3l-1 3l1 3M16 26l-3 0l-2 2l-1 3l-3 2l-3-1l-3 0l-2 1M15 -16l2-3l1-3l2-1l2-3l-3-1l-3 1l-3 1M13 -25l-2 2l-2 1l-3 1l-3 1l-1 3l-1 3l3-1l3-2l2 1M33 5l-1-3l-1-3l2-2l-3-1M30 -4l-3-1l-2-2l-2-2l-3 1l-2 2l-2 3l0 3l-1 2" stroke="#000"/>
<path d="M1 8l-3-2l-2-1l-1-3l2-3l1-2M-2 -3l2-3l0-3l0-2l-1-3l1-3l3-1l2-2l3-1M-18 0l2 2l-2 3l1 3l-1 3l1 3l2 1M15 -2l-1 2l1 3l2 2l0 3l-1 3l0 3l-2 2l-3-1l-2-2" stroke="#7cf87c"/>
<path d="M15 -21l0 3l1 3l2 2l2 2M28 9l-3 2l-2 1l-3 2l-2 2l-3 1l-2 2l-2 3l-3 1M8 23l-3 0l0-3l-2-2l0-3l2-3l1-2l-3-1l-2-1M8 -21l2-2l3 1l3 1l3 1l0 3l-2 3l0 3l-1 3M6 27l2-2l3-1l2-3M13 21l2-2l1-3l0-3l-1-3M9 17l2 2l0 3l2 2l2 2l3 1l-1-3l-1-2l-3-2M12 3l2-2l2-2l2-3l3-1l2-2l3-1l3 0M27 -2l-2 3l-1 2l0 3l0 3l-3-1l0-3l0-3l0-3l-1-3M22 -15l3-2l2-2l-2-2l-3 1l-3-1l-3-1l-1 3l0 3M14 -9l-2 2l1-2l3 1l3-1l2-3l-1-2M16 -15l-3 2l1 3l-1 3l-1 2l-2 2l-3 1M7 -2l-3 0l-3 1l0 3l0 3M-17 -16l2-2l-2-3l-3 0l-3 1l-2-1l2-2l2-2M-21 -25l3 1l3 1l1 2l3 2l0 3l-3 2M-14 -14l-3 0l-2-2l-2-2l-2-2l-1-3l-3 2l3 2l3 1M-21 -18l2 1l3 2l3 0l3-1l3 1l2-2l0-3M-5 -20l0-3l2-3l1-3l3-1l2-2l2-2l-2 2l-3 2l-3 1M-3 -29l-3 0l0 3l-2 2l-3 2l-1 2l0 3l2 3M-25 -5l-3 1l-1-3l0-3M-15 15l3 2l3 0l3-1l2-2l3-1M-1 33l-3 1l-3-1l1-3M-6 30l1-3l1-2l2-3l2-2l2-2l3-1l3 0l2 2l3 1M13 20l1 3l3 1l2-2l2-2M30 5l0-3l0-3l0-3l1-3l1-2l-1 3l0 3M20 1l-2-2l1-3l-1-3l-3 0l-3 0l1 3l3 0M29 -9l1-2l-1-3l-3-2M12 -20l-3-1l-3-1l-3 1l-2-1l-3 0l-3 1l-3 0M-8 -21l-3-1l-2-2l-3 0l-3-1l2-2l2-2l3-1l2-2M-10 -32l-3 1l0 3l0 3l-1 3M-14 -22l-3 0l-2 2l-1 3l1 3M15 24l-3-1l1-3l-3-2l-2-1M12 11l3-2l3 0l3 0l3 0l2 0M32 3l-1-3l0-3l-1-3M30 -6l0-3l0-3l0-3l-3 0l-3 2l-1 2l-3 2l0 3M20 -6l-1 3l0 3l1 3M20 3l1 2l-1 3l0 3l1 3l1 3l3 0l2-1M22 10l0-3l-1-3l0-3l1-3l-1-3M15 5l1 2l3 1l1 3l1 3l3 1l3 0l2-2l-2-2M21 4l-1-3l-2-2l-2-2l-3-1l2 2M9 13l-3 0" stroke="#19f019"/>
<path d="M20 -11l3 1l2 3l2 2l2 2l0 3l0 3l0 3l-1 3M16 -8l1 3l2 2l3 1l2 1l3 1l2 2l0 3l1 3l2 2M32 10l-2 2l-3 1l-2 2l-2 2l-2 3l-1 3l-1 2l-3 0M16 25l-3-2l-2 3l-2 2l-2 2l-1 3l1-3l-1-3M13 20l-2-2l-1-3l0-3l1-3l0-3l1-3M29 -8l2 2l-1 3l-3 1M20 -4l0-3l0-3l1-3l1-2M15 -16l-1 2l3 0l1-2l3-1l3 0l3 2l2-1l1 3M30 -13l-3 1l-1 2l-3 0l-3 0l-3 0l-3 1M20 -14l0-3l-3-1l-1 3M1 5l1 3l3 1M-10 -14l0 3l-2 1l-2 3l0 3l-3-1l-3 0l-2-1l-3 1M-29 -10l1-3l-2-3l1 3l0 3l0 3l1 3M-28 -4l2 2l2 3l3-1l3 0M-1 13l2-1M21 20l0-3l2-3l3 0l3 0l1-3l1-3l-1-3M31 -3l2 1l-2 3l-2 1l-3-1l-3 0l-3 0M16 -4l3-2l3 1l2-1l3 0l2-3M26 -16l-3 0l-3 0l-3-1l-2-1l-3-2M-19 -14l-2 2l-3-1M8 17l0-3l-2-3l3 0l3 0M26 9l3 0l3-1l2-3l-2-2M27 16l-1-2l-3-1l-1-3M21 -5l-3 0l-3 1l-1 3l0 3l1 3M27 11l-2-3l-1-2l-3-2" stroke="#000"/>
</g>
<g id="tR2" fill="none" stroke-linecap="round" stroke-linejoin="round" stroke-width="1.5" transform="scale(0.5)">
<path d="M-8 -15l-2-2l-3 1l-2 1l-3 2l-1 3l-1 3M-4 13l3 2l2 1l2 3l3 1l3 1l2 2l1 3M-4 -17l-2 3l-2 2l3-1l3-1l2-2M0 -16l1-3l1-2l-1-3l1-3l2-2l3-1l2 2l3 1M7 12l0 3l3 2l1 3M8 11l3 0l3 0l3 1l2-2l3 0M14 -10l-3 0l0-3l-3-1l-1-2l-1-3l2-2l3-2" stroke="#7cf87c"/>
<path d="M19 -27l-3-1l-2-1l-3 1l-3-2l-3-1M15 -28l-2-1l-3 1l-2-2l-2 2M-20 -7l-2 2l-2 2l0 3l0 3l2 2l3 2l3 0M-16 7l2 1l3 1l2 2l1 3l2 2l-1 3l0 3l-1 3M-8 25l-1 3l2 2l2 2l3 2l-1-3l-1-3l1-3l-2-2M-5 23l-3-1l-3-1l-2-2l1-3l0-3l0-3l3 1l2 2l3 0M1 -20l3 1l2 1l1 3l3 2l3 1M13 -12l2-2l3 1l3 2M27 5l-1 3l-3 1l-3 0l-3 0l-2-2l0-3l1-3M11 -13l0-3l-1-3l0-3l-2-2l-1-3M7 -27l-2-2l-3-2l-2-2l1 3l2 2l2 3l3 0l3-1M5 -27l-3 1l-2 2l-2 3l0 3l-2 1M12 -27l2 1l3 2l3 1l2 1M5 22l1-2l2-3l3-1l2 1M23 14l2 1l3 2l-3 0l-2 3l2 2M25 22l-2 2l-2-3l1-3l3-2l2-2l-1-3M20 -8l-3-2l1-3l1-3l1-3l2-2l1-3l-2-2l-3-1M18 -27l-2-2l-2-2l-3 0l-3 1l-2 2l-3 1l-2-2l-1-3M0 -32l-3-1l-3 1l-3-1l-2 2l-2 2M-13 -29l-3 2l-2 2l0 3l-3 2M-28 -12l1 3l0 3l-2 3l-2 2l-3 0M12 -27l2-2l-1 3l1 3l0 3l-3 2l-1 3l-1 2l1 3l1 3M11 -7l3 1l2 3l-1 2l-2 3l-2 2l-1 3l-2 2l-1 3M11 20l3 2l1 2l3 2l-3-2l-2-1l-2-2l-1-3M10 18l2-3l-2-3l-2-1M22 10l3-1l2-2l1-3l-2-2l-2-3l-2 2M15 5l3 0l2 1l3-1l3 2l3 0l3 1l-1-3l-2-3l-2-1M11 -23l3-1l1-3l0-3l-2 2l-3 1M-10 -28l-2-3l0 3l-2 3M6 28l1-3l2-3l2-2l-1-3l1-3l1-2l3-1l3 2M18 13l2-2l3 1l-1 3l-2 2l-2 1l-3 2M8 28l-3 0l-2 0l-3 1l-1 3l1-3l-3-1l-2-2M-5 26l-3 1l-3 0l-2 3l-2-3l-1-3M-16 24l-1-2l0-3l3-2M-14 17l1-2l-3-1l-3 0l-1 3l1 3l-1 3l-1 2M6 20l1-2l0-3l-1 3l-1 2l-2 3l-1 2M-8 29l-3-1l-3 1l-3-1l-2-2l-3 0" stroke="#19f019"/>
<path d="M23 -19l-2-3l-2-2l-3 0l-3 0l-1 2l-2 3l-1 3l-2 1M7 -15l1-3l1-2l0-3l2-3l2-2l3 1l3 0M5 -31l-2-2l2 2l3 0l3 0l1 2l3 1l3 1l-3-1M6 -28l-2 3l-1 2l0 3l-2 3l-3 1l-3 1l-3 0M21 -11l2 1l3 2l2 2l1 3l1 3l3 1l-1 3l-3-1l-2 2M16 1l0-3l-2-3l-1-2l0-3l-2-3M11 -26l1-3l-3-2l-2 2l-2 2M22 -22l-2 2l-3 1l-1 3l-1 3l-1 3l2 2M16 -8l1 3l0 3l2 2l2 2l1 3l1 3l2 2l2 2l1 3M28 15l-3 1l-3 0l-3 0l-2 1l-3 0l-3-2M13 17l3-2l0-3l1-3l2-2l2-2l3 0l1-3l3-1l3 0M31 1l-1 3l-3 0l-3 1l1 3l-1 3l-1 3M26 11l-2-1l-3 0l-3 0l-3-2l-1-3l1-3l0-3l1-3l-2-2M14 -6l-2-2l2-3l3-1l3-1l3 0l2 1l1 3l-3 1l-3 0M-21 -20l-2 1l-3 2l-1 3l-1 2M-34 -1l3 0l3 0l3 2l1 2l3 1l2 3l0 3l-2 2l-3 2M22 1l-2 2l-3 0l-2 2M27 1l-3 0l-3-1l0-3l-1-3l-1-3l-2-1l-3 0M10 -27l-3 1l-3 0l-3 1l-3 1l-2-2l-3-1l-3-1M-14 -25l-1 3l-3 0l-2-1l-3-2l1 3l1 3l-1 3l-2 2l-3 1M-12 24l2-1l2 2l3 1l2 2l3 2l2 1l2 2l1-2l1-3M15 20l0 3l-1 3l-3 2l-3 0M-21 25l-2-2l3 0l3 2l2-1l3-1l3 0l3 0l3 0l3 2M0 25l3 0l3-1l3 1l2 2l2-1l3-2l2 2l3 1M21 27l-3 0l-3-1l-2-2l-2-2l-3 0l-2-2M2 25l-2 3l-3 1l-3 1l-2-1" stroke="#000"/>
<path d="M13 10l2 1l3 2l2 1l3-1l0-3l0-3l2-2M-4 -14l2 2l3 1l3 0l3 1M7 -10l3 1l3 1l3 0l3 1l3 0l3 0l3 0l2 1l2-3M10 11l2 2l-1 3l-1 3l-1 3l-1 3l-3 1" stroke="#7cf87c"/>
<path d="M12 26l2 2l-2 3l1-3M13 28l-2-3l-3-1l-3 0M5 24l-3 0l-2 1l-1 3l-3 1l-3 0l-3 0l-3 0l-3 0l-2-3M-18 26l-3-1l-2-1l1-3M-22 21l1-3l0-3l0-3l-1-3l-1-2l-2-3l2-2M-23 2l0-3l1-3l0-3l2-3l0-3l-1-3M-21 -16l-1-3l-1-2l-3 1l1 3l1 3l1 2l3 2M-20 -10l-1 3l-1 3l-2 2l-2 2M-26 0l-3 2l-3 1l0 3l2-1l3-2l3 0l3 0l2-2M-19 1l3-2l2-2l0-3l2-3l1-2l0-3l-1-3M-27 -12l-2 2l-1 3l0 3l-1 3l0 3l0 3l2 2M11 15l-3 1l-2-3l1 3l0 3l-1 3l0 3l1 2l1 3l-2-2M-3 23l2 3l2 1l2 3l1 3M19 25l2-2l2-2l3-2l0-3M26 16l1-2l0-3l-2-3M25 8l0-3l0-3l1-3l0-3l0-3M26 -7l-2-2l-2-3l0-3l-1-3l2-2l2-2l-1 3M24 -19l2 2l2 3l-1 3l1 3l-2 2M26 -6l-1 3l0 3l-1 3l2 2l2 2M16 26l-1-3l-1-3l0-3M-24 14l-2 1l-1 3l3 1l3 1l1 3l3-1l3 1l2 3M-12 26l2 2l1 2l-2 1l0-3l1-3l2-2M-8 23l2-2l2-2l3 0l3 0M27 6l-3-2l-3-1l-2 1l-3 1l-3 0l2 2l0 3l2 2M17 12l2 2l3 2l3-1l2-2l2-2l2-2l1-3l1-3l1-2M22 0l-3-1l-2-2l-1-3l-1-3M15 -9l-1-3l0-3l0-2l-3-2M-27 -13l-2 1l3 1l2 2l2 1l2 3l-1 2M-21 -3l-1 3l1 3l0 3l2 2l1 3l1 3l-1 3l-2 2M-24 13l-3-2l-2 1l1 3l0 3l2 3M-19 4l-2-2l0-3l2-3l1-2l3-1l1-2M-14 -9l2-3l0-2l3-1l3-1l2 2M32 -9l-1-3l-3 0l-3-1l-3 0l-3 1M19 -12l-3 0l-2 0l-3 2l-2 2l-1 3l-3 0M-19 -6l-1-3l3-1l3 1l3-1l-1-2l-2-3l-3-1l-1-3l1-3M-6 -27l3-1l3 0l2-2l-1-3l3 2M9 -22l-1 3l-3 2l0 3l1 2l1 3l-1 3l0 3l2 3l-1 3M7 3l1 2l1 3l1 3M5 26l-1 3l-2 2l3-1l2 0l3-1l3-1l2 2l3-2M28 15l-2-2l-3 1l-3 1l-2 1l-3 0l-2-2" stroke="#19f019"/>
<path d="M-12 -17l-3-1l-2 3l-3-1l-2 1l-3 0l0-3l-1-3M-26 -21l0 3l0 3l-1 3M-29 7l0 3l2 3l1 3l-2 2l2 2l3-1l3 0l3-1l3 1M6 28l-1-3l-2-2l-1-3l-2-2l-3-1l0 3l0 3M4 33l1-3l-2-3l1-3l3-1l3 1l2 2l3 1l3 1l1-3M28 7l2 2l2 3l-3-2l-2-3l-1-2l-3-1l-3-1l-1 3l1 3M20 9l-1 3l0 3l1 3l-1 3l-1 2l-1 3l-1 3l0-3M2 19l3 0l1-3l2-2l3-2l2-2M25 5l0-3l2-2l3 0l3 0l-1 3l-2 2l-3 1M34 1l-3-2l-3 0l-3 1l-3 0M11 -19l-3 1l-3 0l-3-1l-3 0l-2-1l-3 0l-3-2l-3 0M-12 -22l-3 1l-3 0l-2 2l-1 3l-2 2l-3 2l-2 2l-3 0l-1 3M-20 19l-2 2l-3 1l1-3l0-3l0-3M-26 21l2 2l-2-3l1-2l1-3l2-2l2-3l0-3l1-3M5 -5l-2 3l-2 2l-3 1l-2 2l-2 3l-3 0l-3 1l-3-1l-2-2M-22 26l-1-3l-1-3l1-3l2-2M-21 15l2-2l1-3l-1-3l1-3l-1-2l-1-3l-1-3l2-2M-17 -22l-1-2l-2-3l3 2l3-1l3 1l2-1l3-1M4 -31l2 2l2 1l0 3l1 3M18 28l2-2l-1-3l-1-3l2-3l3 1M23 18l2 2l3-2l0-3M13 14l-2-3l-2 2l-3 1l-1 3l-2 1l-2 3l-2 2l-3 0" stroke="#000"/>
<path d="M15 10l-3 1l-2-2l3 0l3 0M15 -4l3 0l1 3l2 3M13 8l-3 1l-1 3l-1 3l-2 2M-17 -1l-3-1l-1-2l1-3l3-2M-16 4l0 3l2 2l2 2l1 3l-1 3l-1 2l-2 2l-3 0l-3-1M-13 7l-2 1l-3 2l-3 1l-2 2l-1 3M-1 15l3 0l3 0l3-1l3 1l3 1" stroke="#7cf87c"/>
<path d="M-5 19l1 3l3 0l2-1M1 21l3 0l3 0l3 1l2 2l-1 3l-2 2l-3 1M6 30l-2 2l2-2l1-3l0-3l3-2l1-3l2-2l1-3l1-2M15 12l3 0l2 3l2 2l2 3l0 3l0-3l1-3l1-3l2-2M28 2l-3 1l-3 0l-2 0M20 3l-3 2l-1 2l-3 1l2 2l2 2l-1 3l-2 2M14 17l-2 3l0 3l-1 3l-2 2l0 3l3-1M16 9l3-1l3 0l1-3M25 7l-2 3l3 2l1 3l2 1l-2-1l-2-3l-2-2l0-3l2-2M27 0l0-3l-1-3l-2-2l0-3l-3-2l-1-3M21 2l-3 2l-3-1l-2 2l0 3M6 17l-3 1l-2-1l-3 1l-3 2l-2 1l-3-1l-3-1l-2-2M-15 17l0-3l0-3l0-3l2-2l-2-3M-15 3l-2-1l-2-2l-3-1l-2-3l-2-2l-1-3l-3 1l-1 3M-17 -9l1-2l-1-3l-1-2M-18 -16l0-3l-1-3l1-3l0 3l0 3l-2 2l-2 3l-1 2M-18 9l-2 2l-2 2l-2 2M-20 14l3-1l2-1l2 2l1 3l0 3M-12 20l-3 1l-1 3l-2 2l1 3l1-3l3 0l3 2l0 3l3-2M-7 29l2-2l1-2l2-2l3-2M1 21l3 1l0 3l0 3l-1 3l-3 1l-2-2l-3-2l-1-2M-6 26l-2-3l-2-2l-2-2l-3-1M-17 4l-3 0l-2 2l-3 1l-3 1l-2 1l-2-2l3 0l3 0l2-3M-24 4l2-2l2-2l3-1l2 1l3 2M-12 2l1 3l1 3l-2 2l-2 2l-1 3l-3 1M-22 17l-3-2l-1-3l1-2l0-3l1-3l1-3M-31 4l2 3l2 1l2-2l2-2l3-2l3 0l2-1l0-3M-2 -20l2 1l-1 3l0-3l1-3l1-3l2-2l2-2l-2-2l-2-2M-12 -25l-3-1l-3-1l-3 1l3 1M-18 -25l3-1l2-3l1-2l-2 2l-2 1M-24 23l0-3l-1-3l-3-1l3 1l2 2l0 3M-30 16l-1-3l2-2l3-2l3 0M-23 9l2-3l2-1l3-1M-11 20l3 0l3-1l3-1l1-3M14 16l3 0l2-2l1-3l3-1l3 2l3 1l0-3l-3-1l-2-2" stroke="#19f019"/>
<path d="M-14 19l3 0l3 0l3 0M28 12l1-3l2-2l2-2l0-3l0-3l-3 1l-2 2M12 30l1-2l3-1l2-2l1-3l1-3l1-3l-1-2l-2-2l-3-2M23 5l3-1l3-1l3-1l-3 2l-1 2l-3 1M14 17l0-3l3-2l3 0l3 0l3 0l3 0l0-3M29 9l0-3l-1-3l-1-3M20 -16l0-3l1-2l3-1l3 2l1 2l2 3M30 -15l-2 2l-2 2l-2 2l-2 2l-1 3l-3 1l-3-1l-1-3l1 3M-31 -5l0 3l-1 3l2 1l1 3l0 3l-1 3l0 3M-30 14l2 2l2 2l3-1l3 0l3 0l3 1l3-1l2-1l3-2M-6 14l3-1l3 1l1 2l2 3l0 3M-32 -7l3 1l3 1l3 1l3 0l3 1l3 0l-3 2M-23 -12l2 3l2 2l3 1l3 1l-2 2l-2 3l0 3l0 3l-1 3M-24 15l1 3l0 3l-2-2l-3-1l-1-3l3-1l3 0l3 0M-15 18l-3 0l-1-3l-3 1l-3 1l0 3l2-3l3-1l0-3l3-2M-18 16l-3 1l-2 2l-1 3l2-2l0-3M-23 1l-2-2l-3 0l-1 2l-3 0l1 3M-15 -2l1-3l1-3l0-3l1-3l-2-2l0-3M-14 -19l0-3l1-3l-1-3l3 0l2 2l2 2l2 2l3 2M1 -33l-2 2l0 3l-2 3l-1 2l-3 0l-3-1l-2-1M-16 -28l-2 3l0 3l-1 3l-2 2M-4 23l-3 2l-3-1l-2 0l-3 0l-3 0l-3 0l-3-1M-23 22l1-3l1-3l-1-2l-3-1l-2 1l-3 2M-21 20l-3-2l1-3l0-3l1-2l3-2l2-2l2-1l2 2M-24 16l1 3l2 2l-1 3l1-3l1-3l2-2l3 0l2 2l2 2M24 7l-3-2l-2-2l-1-3l1-2" stroke="#000"/>
<path d="M-5 -16l-2-2l-3-1l-2-2l-2-2l-3-1l-2-2M-13 -10l1-3l3-1l3 0l2-1l3-1l2-2l3-1l1-3M1 -10l0 3l2 2l3-1l3 1l2-2l3 0l2 1l3 2M-13 -7l-1 3l-2 3l-2 1l-2 3M-5 16l-1 3l0 3l-1 2l0 3M-13 -11l3 0l-2 2l-3 1M-15 -8l1 3l-2 2l-1 3l1 3l3 1l-2 3l-2 2l2 3l3-1" stroke="#7cf87c"/>
<path d="M25 5l1-3l2-2l1-3l-1-2l-2-2l0-3l-3-2M15 -12l-3-1l-2-2l-3-1l-2-2l0-3l1-3M6 -24l-1-3l-2-2l-2-1l-2-3M-1 -33l3 0l-3 0l-2 2l-3 2l-3 1l-3 0l-3 0M2 -30l-1 3l-2 2l-2 2l-2 3M-5 -20l1 3l3-1l1 2M-8 -18l-2 1l-3-1l-3 1l-3 0l-2-2M-7 -25l2-2l3-1l3-1l3-1l1 3l0 3M3 22l3 2l2 2l3 1l2-2l3-1l2-2l1-3M8 24l-3 1l-2 3l0 3l-2 1l3 1l3-1l2-1M9 31l-2 2l2-2l1-3l2-2l3-2l-1-2l-2-2M12 20l-3 0l-3-1l-3-2M5 31l2-2l0-3l-3-1l-2 1l-3 1l-2 3M-3 30l2 2l3 1l1-3l-1-3l1-3l2-2l2-2l3-2M10 18l2-2l3 2l2 1l3 3M-25 10l0-3l-1-2l-3 0l-3-1l-2-2l1-3l2-2M-28 -17l3-1l2 2l2 3l1 3l2 2l-2 2l-3 1M-23 -5l-2-2l-3-2l-3 0M-31 -9l-2 2l2-2l3-1l3 0l3 0l3 0l3 0l3 0M5 -22l-1-3l-2-2l-3 1l0 3l-2 3l-1 3M-4 -17l2 2l1 3l2 2M19 -4l2 2l0 3l1 3l-2 2l-1 3l0 3l-2 2l-3 2M14 16l2 3l-1 2l1 3l3 2l-3-1l-3 0l-3-1l-3-1l-3 0M-24 -14l2 2l1 3l2 2l3 1l3-1M-20 3l-1 3l0 3l1 2l2 2l3 0l1-3l2-2l3 1M-7 27l-1 3l1 3l-3-1l-3-1l-1-3l-3-1M-17 27l0-3l0-3l1-3M-21 -5l-1-3l-3 1l-3-1l-2-1l0-3M19 -2l1-3l1-3l1-3l2-2l3-2l2 1l-1-2l1 3l0-3M-8 -31l-3 1l-2 1l-3 2l-2 1l-2 2l-3 2l0 3l-2 2l-2 3M-24 -20l1-3l2-2l3-2l1-2l3 1l2 1l2 3M-10 -24l1 3l3 0l3 1M8 -19l3 1l2 2l3 1l3 1l2 2l3 1l2 2l3 2M29 -7l1 2l1 3l-3 1l0 3l1 3l1 3l2 2l-3-1l-3 1M14 -3l2-1l3-2l3 0l2 2l1 3" stroke="#19f019"/>
<path d="M23 -12l0-3l2-2l1-3M26 -20l-2 2l-2 2l-3 1l-1 3l-3 0M-15 -28l3 0l3 0l3 2l-1 3M-7 -23l2 3l1 2l2 3l-3-1M-19 -26l3 1l3 1l2-1M-11 -25l1-3l3 2l2-2l3 0l2-3l2-2l0 3M0 -16l-3 1l-2-3l-3 0M-21 -19l-1-3l3-1l3 0l3-1l3-1l3 0M19 19l1-3l2-1l3 0M25 15l3-2l3 0l-3 1l-2 2M26 16l-1 3l0 3l-3 0l-3-1l-3 1l-3 0l-3 0l-2 2M3 17l0-3l3 0l-1 3l2 2l1 3l2 2l3 0l3 2l1 2M17 28l-3-1l-2-1l-3 1l-2 2l-2 2M20 22l1 2l-3 1l-3-1l-3 0l-3-1l-1-3M8 20l0-3l-2-2l-3-1l-3 0l-3 1l-3 0l-3-1M-17 11l3 0l3 1l3 1M-8 13l-3 0l-3-1l-3 1l-3-1l-3 1l-3 1l-2 1l0-3l3-2M-31 -3l1-3l0-3l1-3l-1-3l2-2M-21 -17l-1 3l-2 1l-2 3l-1 2M-27 -8l-2 2l-3-2l3 1l0 3l0 3l-2 2l-2-2l0-3l2-2M-31 -6l2-2l2-2l3-2l2-1l0-3M-22 -16l-1-3l-3 0l1 2l1 3M-9 9l2-1l2 2l-1 3l1 3M-16 18l0-3l-1-3l-1-3l0-3l-1-3l0-3l-1-3l-1-2M-30 -12l3 0l3 0l3 2l2-1l3-1l3 1M29 -16l-2-3l-3 0l-2-2l-1-3l-2-2l-3 0l-3 0l-3-1M10 -27l-1 2l-3 2l-1 3l-3-1M2 -21l-2-1l-1-3l-2-3l-2-1l-3-2M-27 -14l-2-2l2-2l3-2M-3 -20l2 0l2 3l0 3l2-2l3-1l2-2M26 10l-1 3l-3 0l-1-3l-2-2l-3-1l-3-1l1-3l-1-3l1-3" stroke="#000"/>
<path d="M-12 -12l3-1l3-1l3 1l3 1l3 0M3 -12l2 2l3 1l3 0l3-1M-9 14l-3 1l-2 2l0 3M13 -7l1 3l0 3l2 3l2 2l0 3l1 3l3-1l3 1M-12 11l3 2l3 0l2 2l3 1l3 0l3 0l3-1l3 2l1-3" stroke="#7cf87c"/>
<path d="M5 -24l-3 2l-3-1l-3-1l-3 0l-2 2l-3 0l-1-3l-2-2l-3 0M-18 -27l-2 2l-2 3l-1 2l0 3l1 3M14 -10l1 3l3 2l3 1M21 -4l3 0l3 0l3 0l2-1l-2-3l1-3M31 -11l-2-3l-1-2l-1-3l-3 1M-1 -24l3 1l3 0l1 3l2 2l2 1l2 3l2 2M14 -12l3 0l3 1l3 2l2 2l1 3l2 2l3 1l3 0l-2 3M32 2l-1 3l-1 3l-2 2l-1 3l-2 2l-2 1l-3 1l-2 2M-14 20l-2 3l-1 2l-2 3l3 1M-16 29l-3-1l-2-3l-1-2l1-3l2-3l2-2l2 3l3 0l2-1M-6 15l-2 2l0 3l-2 3l-2 1l-2 3l-3-1l-3-1l-2-2l-2-2M-19 12l1 3l-2-1l-3-2l-2-2M-25 10l-3 0l-3 0l1-3l2-2l0-3l-2-2l-1-3l-1-3M-32 -6l2 3l-1 2l0 3l0 3l2 3l0 3l-3 2l3-1l3-1M-26 11l3 0l1-3l-1-3l-1-2l-3-2M-27 1l-3-1l-2-2l-1-2l0 2l1 3M-32 1l1 3l0 3l1 3l2 2l-3 0l1 2M-30 14l2-1l1-3l1-3l2-3l1-2M-23 2l3-2l1-3l2-2l3 0l2-2l1-2M-8 29l-3-2l-3-1l-2-2l-1-3M-17 21l0-3l-2-2l-2-3l-2-1l-2-3l-1-2M-26 7l-3-2l1-3l1-3l1-3M-22 -1l2-2l3-1l2-2l1-3l-1-3l2-2l2-1M-11 -15l2-3l2-3l3 0l2-1l3 1l3 0l3 1l3-1l2-1M17 -16l0 3l2 2l0 3l1 3l-1 3l-2 2l-3 2l3 2l2-1M12 14l2-3l1-2l-1-3l3-1M17 5l3 0l2-1l2-3l3-1M27 0l3-1l2-2l1-3l-2 3l-2 1l-3 1l1 3M27 2l2 2l1 3l2 3l-1-3l-2-2l-1-3l0-3M28 -1l0-3l0-3l0-3l2-2l-3-1l-3 0M24 -13l-3 1l-3 1l-2-2l0-3l0-3l3-1l2-2M19 -8l3-1l3-1l3 0l2 2l3 2l1 3l0 3M34 0l-1-3l0 3l-2 2l-2 2M17 16l-3 1l-3 2l0 3l-2 2l-2 2M25 -1l-1 2l0 3l-3 2l-2 2M22 0l0-3l-3 0l-3 2l-1-3M15 -4l-2-3l3-1l-1-3M15 -11l0-3l0-3l0-3l-2-2l1-3l1-3l-2 2l0 3M10 -15l2 3l1 3l0 3l1 3l0 3M14 0l3-1l3 1l3 0l3 0l2-1M28 -1l3 0l2-3l0-3l-1-2l-2-2l-3-1l-3 1l-1 3l1 2" stroke="#19f019"/>
<path d="M-22 -14l2 2l3 2l3 1l3 0l-1-3M24 -18l-3-1l-3 0l-1-3l-3-2l-1-2l-2 2l-3 2M8 -22l-2 2l-2-2l-3-1l-2-2l-2-3l-2-2M-5 -30l-3 2l-3-1l-3-1l3 0l2 2l3 2l2 2l3 0M-10 17l0-3l1-3l2 1l1 3M-24 21l-2-2l-2-2l1-3l2-2l2-2l3 0l1 2M4 23l-3 0l-3 1l-1 2l-3 2l-2 1M-26 -4l-3-2l-3 1l0 3l1 3l3 0l3-1l3-1M12 -22l3-2l3 0l3 0l2 2l-2 2l-3 1l-1 3M19 3l0-3l-2-2l-1-3l-1-2l-2-3l0 3M25 10l3 0l3 1l-3-1l-2-2l-2-2l-3-2l-2-2l-2-2l-3 1M21 -22l3 0l-2-2l-2 2l-2 2l-3 2l-2 2l0 3l-3 2M10 -11l2 2l2 3l2-1l3-1M29 4l-3 2l-2 1l-2 3l-2 2l-1 3l-2 1M19 8l-3 2l-3 0l-2-2l2-2l2-2l3 1l2-3l2-2M13 -23l-1 3l0 3l-2 2M24 -6l3 1l3 0l1 3l2 3l1 2M34 3l-3-1l-3-1l-2-2l-1-3l1-3l-1-3l1-3M26 -13l-2-2l-2-2l-3-2l-1-2l0-3l0-3l1 3l3 1M22 -23l0 3l2 3l1 3l1 2l3 2l0 3M29 -7l1 3l0 3l0 3l-1 3l-2 2l0 3l0 3l2 2l1-2" stroke="#000"/>
<path d="M-6 15l2 2l3 2l2 2l1 3l3 1l2 2l2 2M-11 -9l0-3l3-2l0-3l0-3l-2-2l-2-2M-17 -6l-3-1l-3-1l-1 3l1 3M14 1l3 1l2 2l3 1l3 0l3 1l1-3l1-3l2-2M-12 -12l-2-2l-1-3l2-3l-1-3l2-2l2-2l-2-3" stroke="#7cf87c"/>
<path d="M18 19l-3 2l-2 2l-3 1l-3 1l-3 1l0 3M4 29l-2 2l3-1l3-1M11 24l-2-2l-3-1l-2 3l-1 2l-3 1M9 29l1 3l0-3l3-1M15 16l0-3l0-3l-2-2l-2 1l-2 3l-2 2l-3 1l-2 0M2 15l-3 2l-2 2l-2 2l-3-1l-3 1l-2 2l0 3l1 3M-4 16l-3 1l-2 2l-2 2M-13 -22l2-3l2-2l2-2l-1-3l3 0l3 0l3 0l0 3M-4 -22l-1 3l-1 3l-3 1l-3 0l-2-2l-3-1l1 3l1 3M-11 17l1 2l-1 3l-1 3M-12 25l-1 3l-1 3l-2-2l-3-1l-2-3l-2-2M-23 23l-1-2l2-3l1-2M32 -2l-2-2l-2-3l-1-3l-2-2l-3 0M22 -12l-2-3l-3 2l-3 0l-2 0l-3 0l-3 0l-2-2l-3-2M1 -17l-2-2l1-2l-1-3l2-3l1-3l0-3l0 3l2 3l3 2M23 -20l3 1l-1 3l-1 3l2 2l0 3l2 3l2 2l3 1M26 -11l-3-1l-3-1l-3-1l-2-1l-3-2l-1-3l0-3M11 -23l1-3l-2-3l1-3l2 3l3 0l3 1l0 3l-2 2l-3 0M14 -23l-1-2l0-3l2-2l1 3M16 -27l2 1l2 3M2 21l-3 0l-3-2l-3 0M-7 19l-1 3l-2 1l-3 2l1 3l1 3l2-1M-9 30l3-1l2 3l-3-1l-2-2M-10 23l3 0l3 1l0 3l2 3l0 3l3-1M-8 17l3-1l2-1l3-1l3 1l3 0l3-1M9 14l2-1l-1-2l2 1l2 3l2 2l0 3l2 3l2 1l1-2M21 22l2-3l2-2l3-1l-3 0l-3 0l-3 0l-3-1M16 15l-3-1l-2-1l-1 2l-3 1l-1 3l-2 2M4 21l1 3l1 3l2 2l3-1l3 0l3 1M18 8l-1 3l-2 2l-3-1l-3 0l-2 2l-3-1l-3-1l-2-2l-2-3M-21 -13l3 2l2 2l2 2l-1 3l-3 1l-3 1l-2-1M-23 -3l-2-3l-2-2l0-3M-16 -15l0-3l-2-3l-1-3l0-3l2 3l1 3M-16 -21l-1 2l-2 2l-3 1l-3 2l-3-1M-28 -15l3-1l2-3l1-3l2-2l1-2l3 1l2 2" stroke="#19f019"/>
<path d="M8 29l3 0l2-1l3-1l3 0l-3 0l-3-2l-2-1M0 27l-3 0l-3 1l-3-2l0-3l2-2l0-3l1-3M13 28l2-1l2-2l-1-3l0-3l-1-3M-12 29l-3 1l-2-2l2-2l2-2M-13 24l3 1l3 1l3 1l1 3l1 3l3-2M1 31l0-3l0-3l0-3l-2-2l0-3l-1-3l-2 2M-12 -24l-1-3l1-3l3 2l2 2l3 1l2 2l1 3l-1 3l1 3M-1 -14l0 3l0 3l0 3l-2 2l-3 1M-6 -2l-3 1l-3 0l-1-3l2-2l-1-3l-1-3l-3 0M-16 -12l-3 0l-3 0l0-3M-22 -15l1-3l3-1l3-1l2-2M1 -29l-2 2l-1 3l-2 2M-15 -12l0 3l-2 3l3 1l-3-1M-23 -2l0 3l0 3l1 2M-22 6l2 3l2 1l3 2l2 2l2 3M7 -25l2 1l3-1l2-2l0-3l0 3l2 3l2 0l3 2l2 2M33 -2l1 3l-2 2l-2 2l0 3l1-2l0-3l-2-3M29 0l-1-3l0-3l0-2l-2-3M7 26l-1 3l-2 3l0-3l1-3l-1-3l-2-2M-9 29l-3-2l-2-1l-3-1l-2 2l-3-1M-22 26l3-2l3-1l3 0l3 0M1 32l-3 1l-1-2l-3 0l-2-2l-1-3M-9 26l0-3l0-3l1-3M17 29l-3 1l2-3l2-2l-1-3l1-3M30 13l2-3l-1-2l1-3l-2-2l-3-1l-3-1l-2 2l-1 3l-3 2M-3 7l1-2l-2-3l0-3l-1-2l-3-2l-3-1l-1-3l0-3M-12 -30l-2 2l-3 2l-2 1l-1 3l-3 2l-1 2l1 3l2 2M-27 -11l-3-2l3 0l3 1l3 1l2 2l3 1l2-2l-1-3l-1-2M-14 -23l3 0l3 1" stroke="#000"/>
</g>
<g id="tS1" fill="none" stroke-linecap="round" stroke-linejoin="round" stroke-width="1.5" transform="scale(0.5)">
<path d="" stroke="#7cf87c"/>
<path d="M25 14l2-2l2-2l-1-3l-2-2l-3 0l1 3l3 1M27 9l3 1l2-2l-3 0l-2-3l-2-2M25 3l-3-1l0 3l2 3l3 1l3 1l3-1l0-3M33 6l-2-3l-3-1l-2 1M26 3l0 3l0 3l0 3l-1 3l-2 2M15 24l-2 2l0 3l0-3l-3 0l-3 0l-3-1l-3 0l-3 1M-2 26l-3 0l-3-1l-3 0l-2 2l-2 2l2-2l2-2l3-2l2-2M13 19l2-2l2-2l0 3l3-1l3 0M23 17l3 0l-1 3l-2 2l-2-3l2-2l-1-3l-1-3l1-3l2-2M24 6l1-2l0-3l1-3l-2-3l-3-1l1-3l-1-2M21 -11l-3-2l-1-3l-3-1l-2-2l-3 0l1-3M1 -31l0-3l2 3l2 2l1 3l3 1l2-2l3-2l3 1M17 -28l2 0l1 3l2 2l3 2l2 1l-1 3l0 3M-10 -21l2-2l2-2l2-3l1-3l0-3l1 3M-2 -31l2 1l3 1l3-2l3-1M20 -25l2 1l3 2l-3 1l-2 2l-1 3l2 2l3 1M24 -16l2-2l-1 3l-3 0l-3 0l-2-2M-3 -26l-1 3l-1-3l1-3l-1-3M-5 -32l-2 2l-3 0l-2 2l-2 2M-14 -26l-3 1l-2 2l-3 1l-3 2l1 3l-1 2l-2 3l-2 2l-1 3M-30 -7l-1 2l-2 3l3 0l2 2l3 0l3 2l-3-1l-2-3l-1-2M-28 -4l-3-1l-2 3l0 3l1 3l0 3l2-2l0-3l0-3M-24 4l2 2l-1-3l-2-2l0-3l1-3l1-2M29 -11l-1-2l-1-3l0-3l-2 1l-1 3l1 3l3 1l2 3l3 1M26 -13l0 3l0 3l-1 2l-3 1M22 -4l3 0l2-2l2-2l3-1l-1-3l-2 2l-3 1M26 -9l-3-2l-2-2l-2-2l-2-2l2-2M19 -19l3 1l2 0l1-3" stroke="#19f019"/>
<path d="M8 27l0-3l2-3l2-1l2-3l3-1M17 16l3 0l2-2l3 0M23 17l0 3l-2 3l-3 0l-3 1M10 -22l0-3l0-3l2-2l-2 1l-3-1l-3 0l-3-1M26 -14l-2 2l-3 0l-3-1M-15 -27l-2-2l3 1l2 2l0 3l2 2M9 -32l3 1l3 1l0 3M15 -27l2 2l0 3l1 3l1 3l-1 3l0-3l0-3l1-3l1-3M24 -13l3 1l3-2l-3 2l-3 1l-3 0l-2 1M19 -10l3-1l3 1l2-1l3 1l-2-1l-3-2l-1-3M2 -33l-1 2l-2 3l-2 2M-30 -1l-2-3l-1 3l3 1l3-1l3 0l2 1l-3 2l-3 0l-3 0M-31 2l-2 1l3 1l3 0l3 0M33 -7l-3 0l-3 0l-3-1l-3-2l-2-2l2-2M21 -14l1-3l0-3l3-2l1 3l0 3l0 3M25 -21l1 2l3 2l-3-1l-3 0l-3 0l-3 1l-3-1M14 -18l-2-2l0-3l0-3l-1-3" stroke="#000"/>
<path d="M-9 -7l1 3l3 0l2 2l3 2l-1 3l-2 3l-2 1l-1 3l0 3M-6 13l0 3l0 3l2 2l3 1l2 3l1 2" stroke="#7cf87c"/>
<path d="M-6 21l2 2l3-1l3 1l3-1l1 3l0 3M8 29l3 0l3 1l-1-3l-2-2l0-3l2-2l3 1l2 2l1 3M19 26l3-2l2-2l2-2l2-2M18 -13l-3-1l3 1l3 2l3 0l3-1l2 1l1 3l1 3l1 3M32 -2l-1 2l-2 3l-1 3l-2 2l-2 2l-1 3l2 2l1 3M26 18l1 3l-3 1l-3 0l-3 0l-2-3l0-3l3 0l2 2M21 18l2 2l1 3l-3-1M18 13l-2 1l-1 3l-1 3l-2 2l0 3l1 3l3 2l-2-3M17 -17l-2-3l3-2l0-3l-2-2l-1-3l-3 1l-3 1l-3 1M6 -27l-2 2l-2 2l2-2l3-1M7 -26l3 1l3 0l3 0l2-2l-3 1l-3-1M12 -27l-3 1l-3 1l-1-3l-2-2l-1-3l3 0l3 2l2 2M10 -29l2-1l1 3l1 3l3 1M17 -23l2 2l2 2l2 3M23 -16l3 1l2 1l2 3l-1 3l0 3M-23 -7l3-2l1-3l-2-2l-3-1l-3 0l-1 2l1 3l0 3M-27 -7l1 3l2 2l2 2l-2-2l0-3l2-3l-1 3M14 24l3-1l3-1l3 0M11 -29l-3-2l-3 1l-1 3l3 2M17 -25l3-1l2 2l0 2l-3 2l0 3l1 3l1 3M21 -11l2 1l3 0l3 1l3 0l-2-1l-3 1l-3 0l-3 0M21 -9l1 2l0 3l0 3l-1 3l2 2l2 3l3 1M28 8l3-1l0-3l-2-2l-2-2l-1-3l-2-1l-3-2" stroke="#19f019"/>
<path d="M6 28l1 2l3 0l1-3l1-3l3 0l3 0l2 1M20 25l-2-1l-3 1l-3 1l1 3l-3 1l-1 3l-3-1l-1-2M5 30l-2-3l-2-2l-2-2l-2-2l2 2l3 0l3 1l2 2l1 3M28 18l-2-2l-3-1l-3 0l-3-2l3 2l3-1l3 2M21 22l-2-2l-2-1l-3-2l3 1l1 3l2 2l2 2M22 25l2-2l-1-2l0-3l0-3l-2-3l-3 1M29 -5l0 3l2 1l3 2l-2-2M32 -1l-3-2l-2-2l0-3M27 -8l0-3l2-2l-2 1l-3 1l-3-1M-23 -5l3 2l3 0l2-2l3-2l3 0M2 27l2 2l3 0l2-2l2-2l3-1M23 22l3-1l-3 1l-3 1l-3 1l-1 2l-2 3l-3 0M7 -25l2 1l3 2l3-1l2-2M21 -6l3-1l2-2l2-3l0-3M28 -15l1-2l1 2l-1 3l-2 2l-3 1M24 -9l-2 2l1-2l0-3l1-3l3-2l-3 2l-1 3l1 2" stroke="#000"/>
<path d="M-3 12l-1-3l0-3l-1-2l-2-2l-2-3" stroke="#7cf87c"/>
<path d="M20 13l2 2l3 0l3 0M29 5l3-1l0 3l0 3l-2 3l0 3l-3 1l-2 2M10 12l-3 0l-2-1l-2-2l0-3l1-3l0-3l-1-2M3 -2l-3-1l-3-1l-3 0l0-3l1-3l-1-3l-1-3M2 31l0-3l0-3l1-3l0-3l-2-2l-2-3l-2-2M-9 -1l-1-3l-1-3l-1-3l-1-2l2-3l3 0l2 1l3 1l2 2M-1 -11l3 1l3 1l2 3l3 1l1 3M11 -2l3 0l3 0l2-2l3 0l2-3l0-3M24 -10l2-2l1-3l2-3l-2-2l1 3l2 2M21 -12l-3-1l1-2l1-3l0-3l2-2M22 -23l2 2l1 3l1 3l3 0l-2 2M27 -13l-3 0l-3 2l-3-1l-1-3l-1-3M16 -18l-3 0l2-3l1-2l2-2l3 1l1 3l3 1l0 3l-1 2M24 23l-3 1l-3 0l-3 1l-2-1l-2-3l3 0M14 21l1-3l2-2l2-2l3-1l2-2l2-2l2-3l2-2l2-2M11 29l-2 3l0-3l2-2l-2-3l-2-2l-2 2l-1 3M4 27l-1 3l-2 2l-3 2l-2-1M-4 33l1-3l3-1l2-2l3 1l3 1M8 29l3 1l3 0l-2-2l-3-2l-3 0l-2-2l-2 2M2 26l-2-1l-3-2l-2-1M-14 19l-3 0l-2 2l-3-2l-3-1M-32 5l-2-3l1-2l2-3l2-2l1-3l0-3M21 14l-2 2l-3 0l-3 2l-1 3M12 21l-1 2l-1 3l1 3l-1-2l-3-1l-3 1l-3 0M1 27l-1-3l-2-2l-1 3l1 3M14 21l3-1l3 1l1 3l-3 0l-2 2l-3-1" stroke="#19f019"/>
<path d="M26 16l3-1l2-2l-2 2l-1 3l-3-2l-2 2l-1 3l-1 2M21 23l3 1l-2-2l-1-3l-1-3l0-3M28 15l2-2l-1-2l-2-3l2-3M25 19l-3 1l-3 1l-1 2l-3-1l-1-2l-1-3l0-3l-3-2M14 27l-3 0l-3 1l-3 1l-3 2l1 2l-1-2M30 -15l-2 2l1 3l-1 3l0 3l0 3l1 2M24 -15l1 3l3 1l2 2l2 1l-1 3l0 3l2 2l-2 3M31 3l1 3l1 3l-3 1l-2 2l0 3l-2 3l-2 2l0 3M-5 22l-3-1l-3 0l-3-2M-25 18l-1 3l1 2l-1-3l-1-3l-2-2l-1-2l1-3l-1-3l-2-2M24 -10l2 3l3 0l1 3M30 -4l0 3l0 3l3 1l-3 0l-2 3l-1 2M27 8l-1 3l-2 2l-3 1M-2 28l1 3l3 1l-1-3l2-1l2-3l0-3l3 1l3-1l3-1M13 25l-3 1l-3 1l-1 3l-1 2l2-1" stroke="#000"/>
<path d="M-17 -3l3-1l0-3l3-2l3 0l2 1l3-2l0-3M-3 -13l0-3l-1-3l-1-3" stroke="#7cf87c"/>
<path d="M-7 -16l0-3l-2-2l-3 0l-3-1M-15 -22l-3 1l-3-1l-2-2l3 1M-20 -23l3 0l3 0l2 2l2-2l2-3l3 0l1 3l1-3l1-2M-2 -28l-3-2l0-3l3-1l3 1l3 1l3 1l2 2l3-1M12 -30l3 1l3 0l-3 0l-3 0M3 -22l-3-1l3-1l1 3l-1-3l0-3l0-2l1-3M29 1l2 2l3 2l0-3l-3 0l-3 0l-2 2l-3-1l2-2l2-2M27 -1l3 0l3 1l-2-3l0-3l0-3l0-3M31 -12l-2 2l-2 2l-2 2M25 -6l-3 2l2-3l3 0l1 3l3 1l0-3l-3 1l-3 1M25 -4l-3 0l2-3l3-1l-1-2M23 -13l-1-3l-2-2l-3 0l-2-2l-3-2l-3 1l-2-2M7 -23l-2-2l0-3l-1-3l-1-2l-1 2l1 3l2 3l2 1l0 3M25 -17l-2 2l-1 2l-2 3M20 -10l3-2l3 0l2-1l3 1l-1 3l-1 3l3 2M32 -4l-3-1l-2-3l0-3l1-3l3 2l-3 0l-3-1l-3-2M18 -18l1-3l3-2l-3 2l-1 3l-2 2l3 0M19 -16l2-2l3-1l3-1l-1 3l0 3M26 -14l-1 3l-2 2l-3 2l2-3l3-1l3 1l2-1l1 3l0 3M-28 -11l1-3l-1-3l0 3M-28 -14l2 3l1 3l0 3l3 0l3 1l2 1M-5 -22l2-2l3 0l3 0l2-1l3-1l3-2M11 -28l2-2l-1 3l0 3l0 3l-1 3l3-1l3 1l3 0l3 1M23 -17l2 1l1 3l-2 3l1 3l1 3l2 2M28 -2l3-1l0-3l-1-3l2-3l-1 3l-3 1M28 -8l0 3l2 0l3 1l-3 1M7 31l2-2l2-3l-1-2l-1-3M9 21l-2 2l-1 3l1 3l1 3l-3-1M5 31l0-3l2-2l1-3l1-3l3-1l3 1l1 3M19 27l2-2l2-2l2-2l-1-3l1-3M28 0l1-3l0-3l-2-2l-3 0l-2 2l-2-2M20 -8l2-3l1-2l2-3l3 0l-3 0l-2 1" stroke="#19f019"/>
<path d="M12 -29l-3 2l-2 2l-1 3l-3 0M4 -32l-3 0l-3-1l-1 2l-2 3l-1 3l0 3M26 -10l-2-3l1-2l0-3l1-3l-1 3l0 3l-2 2M32 2l0-3l-1-3l-3-1l0-3l-1-3l-1-3l1-3l0-3l-2 3M22 -15l-3 0l-3-1l2-2M16 23l2 2l3 1l-2 1M25 15l3-2l0-3l2-2l0-3l-2-2l0-3M23 -15l-3 2l-1 3l1-3l2-3l0-3l0-3M22 -22l-2-2l-1-2l-2 2l-1 3l1 3l0 3" stroke="#000"/>
<path d="" stroke="#7cf87c"/>
<path d="M-6 -22l2-3l2 1l3 2l3 0l3 0l2 1l3 2M12 -19l2 2l3 1l2 2M19 -14l3 0l3 0l1 3l1 3l1 3M30 -9l1 3l-1 3l-3 0M28 -18l0 3l-1 3l2 2M29 -10l0 3l3 1l0 3l1 3l0 3l-2 2M7 -21l2-2l2-2l1-3M15 -27l2-2l-3 1l-1 2l-2 3l-1 3M10 -20l3 0l3 1l3 1l3 0l2-1l3 0l-1 2l-1 3l-2 2M23 -12l-2 2l0 3l0 3l3 0l3-1l3 1l3-1M33 -5l-3 1l-2 2l-3 2l-2 1l3 0l2-2M21 14l-2 3l-2 1l-3 2l-2 1l-3 2l-3 0l-3 0l-2-2M1 21l-3 1l-3 0l-2 2l-2 2l0 3l2 2l2 2M-21 21l-3 0l-1-3l-2-1l2 1l3-1l3-2l1-3l-3 0l-3 0M-24 12l-3 1l-2 1l3 0l2-2l2-2l3 0l-3 0l-2 1M30 -3l-2-2l-3 0l-3 0l0-3l2-2l1-3l-2-2M20 -9l3-1l3-1l2-1M20 -23l-1 3l-2 2l-3-1l-3 0l1-3l1-3l0-3M13 -28l3 0l-3 0l-2 2l-2 2M9 -24l-3 0l-3 0l-3 0l-3-1l-3 0M17 -15l-2-2l-3-2l-2-2M10 -21l-3 2l-3 0l-2 1l-3 2l-2 1l-2-2l0-3M-5 -20l-1-3l-1-3l0-3l0-3l-2 2l-3 1l-2-1l2 2l0 3M-12 -25l1 3l2 2l-3 0l-3 1l-3 0l-3 1M-21 -8l-3 1l-3-1l-2-2l-2-3l0 3l-2 3" stroke="#19f019"/>
<path d="M28 -5l-1 3l-3 1l-3 0l3 2l2 2M26 3l3 0l3 0l-2-1l-3-1l-3-1M24 0l1-3l1-2l2-2l2-2M27 -3l-2 1l-3 0l1-3l0-3l-3-1l2-3l2-2l3-2l1-2M12 -28l-1-3l3 1l-3 0l-3-1l-3 0l-2-2l1 3l2 1M6 -29l2 3l3 2l-3 2l-2 2l3-1l3 0l3 0l0-3l0-3M31 -5l2 2l1 3l-2 3l-1 3M31 6l-2 2l-1 3l-3 0l-3 0l-1 3M-5 33l-3-1l-2-3l-2-1l-2-3l-1-2l-3-1l-3-1M23 -15l0-3l-3-1l-2 2l-2 3l3 2l1 3M28 -12l1-3l-2 2l-3 1l-2 2l0-3l2-2l0-3l-2-3l-2-2M20 -23l0-3l-2-2l-3 0l-2-2l1 3l2 1l3 0l1 3M-21 -18l-2 2l-1 2l-2 3l-2 2l-3-1l1-2l3 2M-27 -10l2 2l3 1l-2-3l-1-2l-1-3l-3-2M-29 -17l2 3l1 3l2 2l3 1" stroke="#000"/>
<path d="M2 -17l-3 0l-1-2l-2-3l-2-2" stroke="#7cf87c"/>
<path d="M25 10l-3 0l-3-1l3-2l1-2l2-3l-2-2M23 0l-1-3l-1-3l2-2l1-3l1-3l2-2l-2-2M25 -18l-3 0l-3 2l-3 0l-3-1l-2-1l-3-1l-3 1l-3 1M4 -28l2-2l1-3l3 1l-1 2M28 -1l3 0l2 2l1 3l-3-1l-3-2M28 1l-3 1l-3-2l1 3l1 3l1 3l1 3l1 3l1 3M20 12l0 3l0 3l0 3l0 3l-1 2l2-2l1-2l1-3M23 19l2-2l2-3l3-1l-1-3l0-3l2-2l-3 1M28 6l-3-1l-2-2l-1-2l0-3l-1-3l1-3l0-3l3-2l3-1M28 -14l2-1l-1 3l-3 1M-8 31l0-3l-2-2l-3 0M-7 22l3 1l-2 1l-3-1l-2-2l3 1M6 22l3-1M-13 -25l-1-3l-3 1l-2 1l2 2l3-2l3 1M-11 -25l1 2l2 3l2-2l1-3l1-3l1-3M-24 -3l-2 2l0 3l-1 3l0 3l-1 3l-2 2M-30 13l3 1l2 2l1 2l3 1l3 2l2 1M-30 -5l0 3l3 1l3 1l3-1M-21 -1l-2 3l-2 2l-1 3l-3-1l-3 1l2-2l0-3l2-3l2-2M-27 -13l-2 3l-2 1l2 3l1 2l2 3l2 2l1 3M-23 4l0 3l1 3l2 2l2 2l-2 3l1 3l2 1M-17 23l3 1" stroke="#19f019"/>
<path d="M31 5l0 3l-3 1l-3 1M-6 -24l-2-1l0-3l-2-2l-3-1l3 1l3 1l1 3M-6 -26l2 3l2 2l1-3l2-2l3-2M9 -30l-1 3l-1 3l0 3l-1-3l-3-1M28 18l-3 1l-1 3l-3 1l0 3l0-3l1-3l-1-3l-1-2l0-3M-24 11l-2 2l-2 3l0 3l1 2l2-3M-25 18l3 0l2 2l1 3l1 3l2 2l3 0l2-2M-11 26l1-3l0-3l1 3l-1 3l-2 3l-2 1l2-1l3 0l1 2M-13 26l-3 1l-3 1l2-2M-17 26l2-3l0-3l1-3l-1 3l2 2l3 0l3 0M-8 22l3-1l3 2l2 1l3 0l3-2M-6 -25l-2 2l-3 1l0 3l-1-3l-1-3M-3 -31l1-3l2 2l-3 0l-2 1l-2 2l-2 3l-2 1M-11 -25l-3 0l-1 3l-3 2l-1 3l-1 3l0 3l-2 2l-1 3l-1 3M-16 22l3 1l3 1M-33 -7l3-1l-1-3l0 3l1 3M-26 -3l2-1l0-3l0-3l0-3l-1-3l-2-3l0 3l0 3M-17 21l1 3l-2 3l-2-1l-3-2l3 0l3-1" stroke="#000"/>
</g>
<g id="tS2" fill="none" stroke-linecap="round" stroke-linejoin="round" stroke-width="1.5" transform="scale(0.5)">
<path d="M2 2l-1-3l1-2l3-2l2-2l3 0l3 1l3-1l3 1" stroke="#7cf87c"/>
<path d="M-27 16l-1-2l-3-2l-1-3l0-3M-32 6l1-3l-2-2l1 3l2 2l3 0l2-1l-1 3l-2 2l-3 0M-31 10l2 1l3 0l3 1M-24 18l0 3l2 2l2 3l2 1l-3 0l-2-3M-16 13l2-3l2-1l3-1l3-1l3 0l2-2l3 0l0-3M-8 -31l0 3l-1 2l-3 0l-3 1l0 3M-17 -25l1-3l3 2l1 2l0 3l3 0M-9 -21l0-3l-1-3l-2-2l3 1M-9 -28l2-1l3-2l3-1l2 3l2 1M16 -27l2 2l3 2l0 3l-3 0l-3-2M-25 22l3 0l2-2l2-1l2-3l2-3l2-2M-2 24l1 3l2 1l2 3l2 2l-2-2M23 4l-1-3l-2-3l0-3l-1-3l1-2l-1-3l1-3M20 -16l2-2l2-3l0-3l2 3l2 2l1 3l-1 3M27 20l-2-2l-2-2l0-3l2-3l0-3l3-1l3-1M31 5l-3-1l1-3l0-3l1-2l0-3M3 32l0-3l2-3l3 0l3 1l0 3l-3 2l3-1l0-3l0-3M26 16l2 2l-2-1l1-3l2-3l2-2l-3 1l-3 0l-2-2M34 -5l-3 1l-3 1l-3 0l-3-1l1-3l0-3l-1-3l-1-3l-3-1" stroke="#19f019"/>
<path d="M-23 12l3 1l-2 3l-2 2M-23 24l-1-3l3-1l1-3l2-2l2-2M19 -6l2-1l3 0l3-2l1-2l3-2l1 3l0 3M-15 -22l0 3l-2-3l0-3M3 -28l3 1l2 3l1-3l3-2l2-2l3 2M17 -29l0 3l0 3l0 3l-1 2l0-3l-2-3l-2-2l-2-2M10 -28l-2-2l-2-2l3 0l3 1l2 2l2 2M15 -22l-3 0l3 2l2 1l2 3l0 3l-1-3M-18 27l1-3l1-3l-2-3l-3 2l-3 0l-1 2M-12 11l2 2l3 1l2 3M-5 17l-2 2l2 2l2 2l0 3l0 3l-2 2M-5 31l-3 1l-1-2l-3-2l-3 1l-1-3M-16 26l2-2l2-1l2-3l2 2l3 2l3 0M3 31l-3-2l-3 1l-2 2l-3 0l-3-1l-1-3l-1-3l2-2l2 2M-9 25l0 3l0 3l2 2l-3-1l-3-1l3-2M28 -13l1 3l0 3l0 3l-1 2M28 -2l-1 3l-1 3l0 3l-3 2l-1 3l-3 1l-2 2l3 0l3 0M23 15l1-3l0-3l-2-2M22 7l3-1l3-1l3 0l-1 3l1 3l0 3l-3 1l-2 2l1 3M2 25l-2 3l1 3l0 3l2-2M11 25l2-1l2-3l1-3l1-2l3-1l3 1l3 0M23 8l0-3l-1-3l3 1l3-2l2-2l1-2l3-2M18 -17l-2-2l-2-3l0-3l2-2l1 3l2 2M19 -22l1 3l0 3l1 2l2 3l-2 3l3 0" stroke="#000"/>
<path d="" stroke="#7cf87c"/>
<path d="M31 -1l2 3l-1 3l-1 3l-1 2l-1 3M29 13l-2 3l-2 1l-3 2l-1 2l-2 2l-2 3l-1 2M-3 24l-3-1l-3 0l-3 1l-2 1l-3-1l-3-1M9 -26l-3 0l-2 1l-3 2l-2-2l-2-2l-2-2l-3-1l-3-1l-3 1M-21 -19l-1 3l-2 2l-2 2l-1 3M-27 -9l0 3l0 3l-2 2l-3 0M-32 -1l2 2l2 3l2 1l3 0l-3 0M-26 5l-3-1l-2 2l1 3l2 2l1 3l0 3l3-1l2-2M-22 14l2-2l1 3l3 1l0 3l1 3l1 2l2 3M30 -7l0-3l0-3l-2-3l-1-3l-1-3l-3 1l-2 1l-2 2M19 -18l-3 0l1 3l2 2l3-2l1-3l1-2l0 3M25 -5l1-3l3-2l2-1l-1-3l-1-3l1 3M30 -14l0 3l2 2l0 3l-2 2l-2 2l-2 3l0 3M26 4l-1 3l2 1l3 1l1-3M31 6l-1-2l-3-2l-3 2l0-3l1-3l0-3l-3-2l3-1l1-3M15 -25l-2-2l-2-2l-3 1l-1 3l-3-1l-1-3M3 -29l-3-2l-2-2l3 1M-6 -31l-3 0l-3-1l2 2l3-1M12 -21l2 2l3 1l2 2l3 1l3-1" stroke="#19f019"/>
<path d="M32 -7l-2 2l-1 3l2 1M16 28l-2 2l-3 1l-3 2l-3 0l0-3l-3-1l-3-2l-3 1l-3 0M-7 28l-3 0l-3-1l-2-2l-3 0l-1-3l0-3l1-3l-1 3M-19 19l1 3l2 2l2 2l1 3l3 0l3-1l2-2l2-2M-20 23l-2 1l-2-2l-2-2l-1-3l1-2l0-3M18 -16l0-3l-2-3l-1-2l-3-1l-3-1M-14 -30l-2 2l-3 1l3-1l0 3l-2 1l-1 3l-2 2M-10 29l1-3l1-3l-3-2l-2-2l2 2l2 3l2 2l3-1l3 0M-1 25l3 1l2 1l2 3l1 3M7 33l3-2l0-2l0-3M10 26l2-3l3 0l2-2l2 1l3 1l3-2M25 21l0-3l-3-2l-1-3l0-2l0 2l1 3l3-1l3-1l2-2M30 12l-2 2l-3-2l-2 1l-3-1l3 1M23 13l2 1l2 3l0 3M27 20l-3-1l-1-3l0-3M23 13l-2-1l1-3l1-3l0-3l0 3l1 3l2 2l0 3l0 3M24 -17l-2 2l-1 3l3-1l3 0l2 2M29 -11l2 3l1 2l1 3M33 -3l1 3l0 3l-3-1l-3 0l-3-2l-3 0l1-3l2-2M24 -8l3-2l2-2l0-3M29 -15l-2-1l-3-1l-2-3l-2-2l-3-1l-2-2M1 -32l3 0l-3 0l-2 1l-3 2l-2-2M-7 -31l3-1l3 0l2 2l3 0l2 3l1 3l2 2l3 1M25 -16l1 3l3 2l2 2l-1-3l0 3" stroke="#000"/>
<path d="M10 14l-2-3l-1-3l1-3l0-3l-2-2M6 0l-3-1l-3 2l-2 1l-2 3l0 3l-1 3l-1 3" stroke="#7cf87c"/>
<path d="M-26 12l1-3l-2-3l-2-2l-1-3l-1-2M-24 15l2 1l3 1l3 0l2 2l3-1l3 0M3 33l-3-1l-2-1l-2-3l2-3l1-2l2 0M1 23l3 2l3 1l3 0l3-1l2-1l3 0l2-3l1-2M-12 27l0 3l-3 0l3 0l2-2l3-1l2-2l3-1M-2 24l3 2l2 2l1 2l2 3l-3 0l-2-2l-3 0l-3 0M-5 31l-2 1l-2-3l-3-1l-2-2M-12 25l-2 2l-1 3l0-3l1-3l3-1l0-3l-3 0l-3 1l-2 0M26 17l0 3l-3-1l-2-2l-3-1M18 16l-3-1l-3 0l-2-1M-6 14l2 2l1 3l0 3l2 2l-1 3M-3 25l2-2l-1 3l0 3l2 2l-3-1M29 -12l-3 1l-2 2l-3 2l1 2l3 2l3 2l2 1M30 0l1 2l1 3l0 3l-2 2l-2 3l-1 2l-2 2l-1 3M5 28l3-2l3 0l3-1l3 0l2-2l1-3l0-3M30 -9l1 3l2 2l1 3M31 5l-2-2l-2-1l-3-2l1-3l2-2l3 2l3 0l-1 3l1 3M33 3l-3 1l-3-1l-3-1l1-2M19 -15l-1-3l-3-1l-3-1M12 -20l-3-1l-2-2l1-3l1-3l2-2l3 1" stroke="#19f019"/>
<path d="M-31 -1l-1-3l0 3l-1 2l1 3M-32 4l0 3l0 3l3 1l2 2l3 2M-8 18l3 1l2 2l3 2l3 1l2 1l2 2l1 3l3 1M11 31l-2 1l-3 1l-3 0M21 19l0-3l-1-3l1 3l1 3l2 2l-2-2l0-3M-14 26l-2-2l-1-3l-2-2l-1-3l-1-3l0-3l-1 3l0 3M-22 16l1 2l0 3l1 3l-2-2l-3-1l0-3l1-2M-24 16l2-3l3-1l1 3l1 3l2 2l2 2l1 3M-2 27l-3 1l-3 0l-3 2l3 1l2-1l1-3l2-2M-3 30l-3 1l-3 0l-2-2l-2-3l0-2M-13 24l-2-3l-1-3l0-3l-3 1l-2 2l-1 3l-2 3l-1-3M26 -11l2-3l2-1l-1 3M24 20l1 3l-1-3l0-3M24 17l-2-2l-3-1l3 0l2 2l1 3l0 3l-3-1M22 21l-3 1l-2 1l-3-1M14 22l-2 2l-1 3l-3 1l-3 0M5 28l-2 3l-2 2l-3 0l3-1l3 2l0-3l1-3M34 -1l-2 3l2-3l-1-3l0-3l-2-2M31 -9l-2-2l-1-3l-3 0l-3 1M22 -13l-3 0l3 1l2 2M24 -10l2 2l0 3l-1 3l-2 2l3 0l2-2l3-1M31 -3l0 3l-1 2l1 3M25 0l2-3l-1-3l-1-2l-2-2l-2-3l-2-2" stroke="#000"/>
<path d="" stroke="#7cf87c"/>
<path d="M22 16l0-3l1-3l-2-2l0-3l0-3l1-3M22 -1l-2-3l-1-3l2-2l3 0l3 2l2 0M29 -7l3 0l-1-3l-2-2l-3-1l-2 2l-1 3M25 6l2 2l1 3l0 3l0 3l-2-2l-1-3l-1-2l0-3M24 7l0-3l1-3l0-3l-3-2l1-2l2-2l2-3M-23 -7l0 3l-1 3l-2 3l-2 2l-3 1l3 1l2-2l3 0l1 2M-22 6l0 3l-1 3l0 3l-1 3l-1 3l2-2l3-1l1-3l-2-3M-21 12l-2-2l-2-2l-3-1l-3-2l-2 2l3-1l2 2l3-1l3 1M-22 8l-1 3l-3 2l-2 2l0-3l-3-2M-25 21l-1-3l-2-2l-1-3l1-3l1-3l1-2l1-3M-21 -14l0 3l-2 3l-3-1l-2 2l-2 3l-3-1M-28 -7l-2-3l-1-3l3 2l3 0l3 1l-3 1l-3-1l-3 1l-1 3M-32 -6l1 3l0 3l-3 1l2 2l0 3M-32 6l-1-3l3-1l3 2l3-1l2-2l-3-1M-25 0l-3 0l-3 0l3 1l3 0l3 1l-1 3l-1 3M32 0l0 3l-3 1l-3 0l0-3l-2-3l0-3M24 -5l-2-2l-2-2l3-1l3 2l3 1M29 -7l2 2l1 3l1 2l-2-1l-2-3l-2-2l-3-1M27 -12l2-1l2 2l1 3l-3 0l-2-2l-3-1l-2-2M22 -20l0-2l1-3l0 3l1 2l3 1l-3 1l-3-1l-2-2M24 -14l-1 3l1 3l0 3l1 3l-2 2M23 0l1 3l1 2l1 3l1 3l-1 2l-3 2M23 15l-2 1l-3 0l2 1l3 1l0 3l-2 2l-3 1l-3 0l-3 1M12 25l-3-1l-3 0l-3 1l3 1M6 26l3 0l2-3l-1-3l-2 2l1 3l0 3l-2 3l-3 1l-2 1M2 33l-3 0l1-2l3-2" stroke="#19f019"/>
<path d="M23 -8l-1 2l1 3l0 3l1 3l0 3l1 3l2 2l3 1M30 12l1-3l-2-3l-2-1l-3-2l1 3M-19 21l-3 2l-2-2l0-3l-1-3l-2-2l-1-3l-2-3M-30 7l-3 0l1-3l0-3l0-3M-32 -2l2-2l2-2l0-3l-2-3l2 2l3 1l2 2M-25 2l-1-3l-1-3l-2-2l0-3l1-3l2-3l3 1l2 0M-33 -5l3 1l3 1l3-1l-3-1l-1-2M20 17l1-2l3-2l0-3l0-3l0-3l3-2l2-2l3 0M24 -7l-3-1l3 1l3-2l0-3M22 -13l-3-1l1-3l2-3M14 -30l1 2l3 2l3 1l1 3M22 -22l2 2l0 3l0 3M3 29l3 0l2 3l-3 0l1-2l0-3" stroke="#000"/>
<path d="" stroke="#7cf87c"/>
<path d="M27 -11l2-2l0-3l-2-3M27 -19l0 3l-1 3l-2 2l-3 1l1-2l1-3l-2-3M-3 -33l-2 2l-3 2l-3 0l-3 0M-18 -17l-2-2l-2 3l0 3l-1 2l1 3l1-3l1-3M-20 -14l2-2l-3-2l-2-2l-3 0l1 3l3 1l3 1l-3 0M-27 -3l3 0l1-3l2 2M-21 -4l-1 3l-1 2l-2 3l-1 2l0 3l3 2M-26 11l-2-2l-2-2l-1-3l2-2l2-2l1-3l1-3l2-2M-33 3l3-1l2-2l0-3l2-2l1-3l-1-3M-24 8l-3 1l1 3l1 3l-1 3M-19 13l-3 1l-3 2l-3 0l1 3l2 3l-1-3l-1-3M-27 16l0-3l1-3l-1-3l3-1l-3 1M-23 17l0 3l-1 3l3-1l2-2l2-3l-3 1l-3 1l-2 2l-2-2M8 -27l2 2l3 1l2 2l3 0l2-2M20 -22l1 3l1 3l1 3l2 2l0 3l-1 3l-1-3M23 -8l0-3l-2-2l-3-1l-2-2l-2-2l1-3l0-3l1-3M6 27l0-3l2-2l0 3l-1 2l0 3l1 3l-3-1l-2 2M-19 24l-3 2l3-1l-2-2M-30 3l-3 0l2-2l2-2l2-3l1-2l0-3l1-3l1-3l3-2M-21 -17l0-3l2-2l2-2l2-3l2-1l-1-2l2 2M-12 -28l-2 2l-1 3l-2 2" stroke="#19f019"/>
<path d="M21 -18l-1-3l-3 2l-3-1l-2-2l-3 0l-3-2l-3 0l-3 0l-2 1M-2 -23l-3 1l1-3l2-2l-1-3l0-3M-14 -29l-2 2l-2 2l-2 3l1 3l1 2M-31 10l2-2l3-1l3 0l-3 0l-3-1l-1-2l-1-3l1-3l3-1M-23 11l-1 3l3 0l-2-1l-3-2M-23 -8l-1-3l0-3l-3-1l-1-2l1 3l0 3M-27 -11l-1 2l-2 3l-3 0l1 3l0 3l-1 3M-26 -11l1-3l3 0l3 1l-3-1l-3-1M-26 18l2-2l2-3l3 0M-27 7l-2 2l-2 3l3-2l2 2l1 2l2 3M-27 19l-1-3l-1-3l-2-2l1 3l2 1l3 2M-25 17l2 2l2 2l3 1l3 0l2 1l3-1l-2-2l0 3l0 3M19 -21l-1-3l-1-2l-1-3M16 -29l-3 0l-3 0l-3-1l1 3M20 -24l1-3l0 3l2 2l1 3l3 0l1 3l-1 3l0 3l-2 2M25 -8l-2 2l1-3l-1-3l0-3l2-2l-1-3l0-3l-1 3M23 -20l-2 2l-3-1l-3 0l-3-1l2-2l3-1l2-1l1 2M3 34l-3-1l-3 0l-3-1l-2-2l0-2l1-3l-1-3M-8 22l-3 1l-3 1l-2-1l-3 1M-21 23l-1-3l1-3l3-2l-3-2l-1-2l0-3l-2-3l-3-1l-3-1" stroke="#000"/>
<path d="" stroke="#7cf87c"/>
<path d="M-22 -15l-3 0l-3 1l1-3M-27 -17l0-3l1 3l2 2l1 3l3 2l-3 0l-3 2l1 3M-25 -5l-2 2l1 3l0 3l2 3l0-3l-2-3M-26 0l2-2l-3 1l-3 0l-2-2M-28 -2l-2 2l-3 2l3-1l0-3l0-3l-2-2M-25 6l2 2l2 2l-2 2l-2 3M-25 -15l-1 2l-1 3l0 3l0 3l-1 3l1 3M-27 2l1 3l-1 3l1 2M-26 10l0 3l-2 3l2-2l3-1l2-3l0 3M-21 13l1 3l-1 3l-3 1l-3 0l2-2l2-2M2 26l-2 2l-3-1l-2 2l-3 1l-3 0l-3-2l-2-2l0-3M-16 23l2-2l-1-3M3 31l3 1l-3 1l-3-1l-2-2l-3-1l-2 2l-3-2l0-3l-2-2M-12 24l-2-2l-3 0l-3-1l-3-1l0-3l2-3l0-3M-21 11l-2-2l-2-2l1-3l0-3l-3-1l-2-2l-3-2l-1-3M-26 -6l-2-3l-2-2l-1-3l2-2l-2 2l3 2l2 2l2 2l-2 2M-26 -6l-2 3M15 -21l-1-3l-1-2l-3-2l0-3M10 -31l-3-2l1 3l-1 3l2 3l1 3l2 1l3 0l3 0l3 2M21 -18l2 2l3 1l2 2l-1 3M-17 -21l-1 3l0 3l-2 2M-20 -13l-3 1l-2 2l0 3l3 2l-3 0l-2 2l-1 3l-3 1l-2 3M-18 -13l1-2l2-3l1-3l1-2l-1-3l-3-2l-1 2l-3 1l-1 3M-22 -22l-1 3l-2 2l-1 3l-2 2l-2 3M-30 -9l0 2l2 2l-1 3l-2 0l2 2l-1 3l-2 3l0 3l3-2M-29 7l1-2l2-3l2-1l-3 0M-27 1l-3 0" stroke="#19f019"/>
<path d="M-32 -3l2-2l2 3l-1 3l3 1l3-1l-3-2l-2-1M-32 -7l1 3l0 3l2 3l2 2l2 2M-25 15l1 2l0 3l0 3l3 1l1 3M-20 27l2 2M-23 16l3 1l3-1l1 3l1 3l1 3l2 2M-12 27l2 2l3 1l2 2l2-3l1-3l2-2l3-1l-1 3M-12 26l1 2l3 1l2 2l3 0l3-1l3 1M-33 -7l3 1l3 0l2 2l2 2l-3-1l0-3M16 -27l0 3l-3 2l-1 3l1-3M13 -22l2-2l1-3l3 2l3 0l1 3l2 2l-1 3M24 -17l-1 3l0 3l0 3l0 3l0 3l2-2l3 0l-1-3l-1-3M26 -10l-1-2l-3-1l-3-1M19 -14l-3-1l0-3l-1-3M-33 4l3-1l3-2l2-1l1-3l2-2l0-3l2-3l2-2" stroke="#000"/>
</g>
<g id="tT1" fill="none" stroke-linecap="round" stroke-linejoin="round" stroke-width="1.5" transform="scale(0.5)">
<path d="" stroke="#7cf87c"/>
<path d="M-11 -27l3 2l1-3l3 1l0 3l1 3l2 2l3 2l3-1l2-2M-25 12l-3-1l-3 0l2 2M15 29l-2-2l1-2l2-2l2-3l2 3l0 3l1-3M21 23l0-3l-1-3l1 3l3 1l-3-2l1-3M22 16l2-3l2-1l3-2M29 10l1-2l1-3l-1-3l2-2l1-2l-1 2l-3-1l-3-1l2-3M29 -11l0-3l-3 0l-2-1l-1-3l0-3l1-3M-29 -17l-2 3l0 3l0 3l2 2M-28 -13l1-3l3-1l0-3l1-3l1-3l3-1l2-2l-3 2M-23 25l3-2l3-1l-2 3l-1 2l0-3l0-3l-2-2l0-3M-22 16l-3-2l-3 0l-1-3l1-3M-24 1l3-1l3-1l2-2l2-3l1-3M-13 -9l1-2l2-3l0-3l0-3l0-3l0-3M-10 -26l0-3l2-2l2-2l2 2l3 2l2 1l3-1" stroke="#19f019"/>
<path d="M-34 0l2-3l-1-2l2-3l0-3l1-3l3 1l3 0M-24 -13l-2 3l-1 2l0 3l-2 3l-2 2l-2 2l1 3M-32 5l-1-3l-1-3l1-3l2-1l3-2l0-3l-2-2M-30 -12l2-2l3-1l1-3l1-2l3-2l1-3l2-2l3 0l3 0M-26 5l-1 3l-2 2l-1 3l0-3M-30 10l0-3l-2-3l1-3l2-2l1-2l1 2l-3 2M-30 1l0 3l0 3l-1 2l3 2l1 3l2 1l2 3M-23 18l2 2l2-1l-1-2M-20 17l-3-1l-3-1l-2 1l1-3l2-1M-29 13l2 1l1 3l3 0l1 3l2 3l1 2l-3 0l-2-2l1-3M22 19l-2 3l-2 2l-1 3l-2 2M28 -5l3 0l-1-3l-1-3M-26 -20l0 3l2 2l1 3l-3 1l-3 1l-2 2l1-3l1-3l0-3M-29 -6l2 2l-2-2l-3-1M-32 -7l3 1l1 2l1 3l-2 3l0 3l-2 2l3-1l1-2l1-3M-26 1l-2-2l-3-2l1-3l2-2l2-3l-2-2M-9 31l-1-3l-3 0l-3 0l0-3l0-3l-3 1l-3 1l-3-1l2 2M-28 8l-2-2l1-3l2-1l3-1" stroke="#000"/>
<path d="" stroke="#7cf87c"/>
<path d="M10 -13l2-3l0-3l-2-2l-2-2l0-3l3-2l2-2l3 1l1 3M17 -26l2 3l1 2l3 2l3 0l0 3M28 -8l1-2l0-3l-3-2l-2-2M-23 20l3-2l-2 3l-1 2l0-3l1-3l0-3M-22 14l-1 3l-1 3l0 3l2 1l3 1l3 1l2 2l2 3l3 0M3 30l3 1l2 1l3-1l2-2l-1-3l0-3l2 2M20 -25l-3 0l-3 0l-1-3l0-3M13 -31l0 3l1 3l2 2l2 3l3-1l2 2l3 1l2 2M-21 -19l0 3l-1-2l1-3l-1-3l-1 2l-2 3M-25 -19l2 2l1 3l-2-2l-3-1l2-2l2-3M-22 -25l-2 2l3 1l0 3l0-3l2-2M-19 -24l3 0l3-2l2-1l2-3l2-2M-7 -32l-3 2l-2 1l-3-1l-2 2l-3 1l-2 2l3 1l2 2M27 -18l1 3l-1 3l2 2l2 2l2 2l-1-2l-1-3l-1-3M30 -14l-3 0l-3 0l3 1M27 -13l3 0l-3 1l-2 3l1 2M26 -7l3 2l2 2l3 1l-3-2" stroke="#19f019"/>
<path d="M7 -20l2-2l0 3l1 3l2 2l3 0l2 2l2 2M19 -10l-2 3l-1 3l-3 1l-2-2l0-3l0-3l-1-2M26 -16l1 3l2 2l-1 3l-2 3l2-3M-9 31l2-2l3 1l2 2l3 0l3 0l-3-1l-2-2l-3-1l-2-2M-6 26l-3-1l-3-1l2 2l3 2l2 2l2 2l3-1l3-1M24 -24l-3 2l0 3l0 3l1 2l3 1l3 0M28 -13l3 1l0 3l1 2l-1-3l-2-1l-3 0l-1-3l-3-1M22 -15l2-1l2-3l-3-1l-3-1M20 -21l-3 2l-1-3l-1-3l1-3l3 2l2 2l1 2M22 -22l0 3l0 3l2-2l1-3l-2-2l-3-2M-20 -27l-1 3l1 3l-1 2M-23 -22l1-3l3-2l-3 2M4 -29l3 0l3-1l3-1l2 1l2 3M17 -27l2 2l1 3l1 3l0 3l1 2l3 0l3-1l-1-3" stroke="#000"/>
<path d="" stroke="#7cf87c"/>
<path d="M24 -17l0-3l3 0l-3 1l-3 0l1-3M22 -22l-2-2l-1-3l-3 0l-3 0l-3 2l-1 2l1 3l-1 3l1 3M27 -9l3-1l1-3l-2 2l-2 3l-1 3l2-3l0-3M20 -19l-3-1l-2-2l1 2l3 1l3 0l3 0l3 0l-3-2M14 25l3-2l1-2l3-1l3 0l-2 2l0 3l-3 1M24 13l3 0l2 2l1-3M30 12l-1-2l-3-1l1 2l2 2l0 3l-2 2l-2-3l-2-2l1 3M18 22l-2 2l-2 2l-2 2l-2 2l-3 2M28 -16l-2 2l-1 2l0 3l0 3M25 -6l1-2l2-3l-2-3l1-2M28 -15l0-3l-3 1l-3-1l-1-3l-3 0l3 1M21 -20l2-2l-2 3l-3 0l-1-3l-2-2l-1-3l2-3M-17 -22l3 1l2 2l0 3l-2 3l-1 2l-2 3l1 3l0 3l-3 1M-19 -1l-3 1l-3 1l-1 3l0 3l1 2l1 3l0 3M-24 15l3 1l-3-1l-3-1l-3 0M-30 14l0-3l-2-1l2 2l2 2l2-2l2-1M-27 9l-3-1l-3 0l2-2l2-3l3 0M-26 3l3 2l3 1l1 2l0 3l-1 3l-2 2l-2 2l-1 3M31 -4l-2-1l-1-3l1-3l0-3M31 -11l-3-1l-3-1l-2-2l-3-1l-1-3l-1-3l-2-2l0-3M4 -30l-3 1l-2-2l-2-2l-1 3l1 3l3 0l2-1" stroke="#19f019"/>
<path d="M10 -14l1 3l0 3l1 2l3 0l3-1l3 0l3-1l3-1M28 -11l-2-2l-2-2l-1-3l-3-1M19 26l-3-1l-3 0l3 1l2 2l-1-3l0-3M17 22l1-3l2-2l2-2l2-2M24 16l-3 1l-2 2l-1 3M27 -16l1-3l-3-2l-1-2M24 -23l-1 2l1 3l1 3l3 0M16 -30l0 3l0 3l2 3l3-1l3-2l-2 2l-2 2l2 2l2 2M-24 11l-2 0l-3 0l2-2M29 -14l0-3l-2-3l-2-1l-3-2l-1-3l0 3M21 -23l1 3l0 3l1 3l2 2l3 1l3 0M16 -27l0-3l-3-1l-3 0l-3 1l-3 0" stroke="#000"/>
<path d="" stroke="#7cf87c"/>
<path d="M25 -21l-1-2l0 3l0 3l1 2M27 -8l0-3l1-3l1-3l-3 0l-3 1l-3-2l-1-2M19 -25l0-3l-2 2l-2 2l-3 0M7 32l3 0l3-2l1-2M14 28l-1-3l2 2l3 0l2-3l2-1l3-2M30 -10l1-3l-2-2l-2-2l-2-2l-3 0l-3 0M28 -5l2-2l3-2l-2 3l0 3l1 2l-2-2M29 -14l2 2l-3 0l-3 1l0-3l0-3l-2-3M-25 21l0-3l-1-3l3-2l2 2l-3 0l-3 2l3 0l2 2M-23 23l0-3l0-3l-3-1l-3 0l3 0l3 1l3 1l2 2l2 2M-16 22l3 2l1 2l1 3M10 -31l-2 2l-2 2l-3-1M3 -28l-2 2l-3 0l-3-2l-2-1l-3 2l-2 2M-12 -25l-1 3l2-3l0-3M-16 -25l3-1l3 0l3 0l0-3l-2-2l1 2l0 3l3-1" stroke="#19f019"/>
<path d="M25 -15l0 3l1 3l1 3l2 2l3 1l0-3l-3 0l-2-2M19 -20l-3-2l3 0l1-3l-1 3l-1 3l2 2l-1-3l1-2l-1-3M25 21l-1-3l2-2l0-3l2-2l2-1l0-3l0-3l0-3M30 1l-1-3l2-3l-2-2M29 -7l-3-1l3 1l1-3M19 -19l2-2l3-1l2 1l-1-2l-2 2M24 -16l2 3l2 1l0 3l-2 3l2 1M30 -3l-3 0l3 1l3 0l-3 1l-3 0l2-3M29 -4l2-2l2-2l-3-1l-1-3l-2-2l-1-3l-1-3l-2 2M23 -18l-2 2l2 2l3 0l3 0M-22 19l2 3l1 2l0 3l-2-2l-2-2M-11 29l0 3l1-3l-1-3l0 3l2 3l0-3l-1-3l-2-2l3 1M2 -28l3-2l2 0l3-1M-11 -28l1-2l-1 2l-3 2l-1 2l1-3l-2-2l-1 2l-1 3l-2 3M-20 -21l0 3l-2-2l-1-3l3 0l3 2l-1-3l0-3l2 2" stroke="#000"/>
<path d="" stroke="#7cf87c"/>
<path d="M12 -24l-3-1l0-3l1-3l-1 3l0 3l3 2M15 -25l2-3l-2 3l1 3l0-3l1-3l0 3l-2 2l3-1l3 0M23 -21l-3 1l-2-2l-1-3l1-3l-2-2l-3 1l-2 2l-2-2l-3-2M10 -25l2-2l2-2l3 2l2 1l3 1l-2 1l-3 1M21 -23l0 3l-1 2l1 3M21 -15l2 2l2 2l1 3M26 -8l1 3l3 2l3-1l-3 1l-2 3M23 -20l3-1l-3 0l-3 0l-2-2l-1-3l3-1M25 -17l2-2l-3-1l-2-2l-3-2l-2-2l-2-2M15 -28l-2-2l0 3l2 3l2 1l3 1l3-1l-3 0l-2-2l-2-3M16 -28l-3-1l-1-3l-2 3M-9 25l3 1l2 2l3 0l2-2l-1 3l-3 1l-3 0M-26 18l-2-2l2-2l2-2l1 3l1 3l0 3l-1 2M-23 23l-1-2l-1-3l-1-3l-3-1l3 0l3 1l2 3l0 3M28 -14l3 1l-2 3l-1 3l-2 2l2 2" stroke="#19f019"/>
<path d="M12 -23l1-3l-1-3l-3 0l-1 3l3 0l3-1l3-1l-3 1M14 -27l-3 0l-3 2l3-1l3 0l3-1l3 0M20 -27l-3-1l-2 2l-3 0l-2-2l-1-3M9 -31l2 2l2 3l0 3l2-2M6 -31l-2-2l1 3l2 2l1 3M8 -25l0-3l2-2l2 1l1 3l-3 1M17 -23l-1-3l0-3l2 1l3 2l0 3M20 -27l-1 3l1 3l3 1l3 0l-1 3l-2 2l2-2M10 -29l1 3l1 3l-1 3l-2 2l0 3l0 3l1 3M-6 30l-2-2l-3-1l-2-2M-13 25l-3 1l-3-1l-3 1l0-3l-2-2l-2-3M-21 21l0 3l3 0l3 1l3 1M-5 -27l2-2l3 0l3-2l1-2l0 3l-1 3l3-1l2-2M8 -30l0 3l3 1l3 1l3 1l2 2l2 3l2 2l2 2l3 1M28 -3l2 3l-1 2l-1 3l-1 3l1 3l0 3l-2 1l-3 0M23 15l2-1l2-3l3 0l-1 3l0 3" stroke="#000"/>
<path d="M10 -9l2 2l2 2l3 0l2-2l3-1l2-2" stroke="#7cf87c"/>
<path d="M21 -24l-1 2l-1 3l3 0M22 -19l3 0l1 2l3 2l0 3l-1 3l-3 1l1-3l1-2M21 -17l-2-3l3-2l2-2M28 0l-2 2l0-3l0-3l1-3l2-2l2-2l-1-3M24 -10l3-2l0-3l-2-2l-2-2l-3-1M20 -20l-2-2l-1-3l-2-2l2 2l3 1l2 3l0 3l1 3M23 -15l3 1l2 1l3 2l1 2l0 3l2 3l-1-3M33 -6l-1-3l-1-3l0-3M-12 26l3-1l-3-1l-3-2l-2-1l-1 2M-18 23l-1 3l3-1l1-2l-2 1l-2 2l3 0l1-3M-15 23l3 1l3 1l3 1l3 1l3-1l2 2M2 28l1 3l2 2l1-3l-1-2l-2-1l-3-1M7 29l1 3l1-3l0-3l-1 2l-2 3l-3-2M3 29l-1-3M28 19l-1-2l-1-3l1-3l2-3l1-2l1-3M33 -2l-3-1l-2-3l-2 1l3 1l3 0l1-3l0 3" stroke="#19f019"/>
<path d="M27 -13l3 0l-3 1l-3 2l3 0l3 0l-2 2l-2 2l3 1l3 1M32 -4l-2-2l-1-3l-2-2l-2-2l-2-2l-2-2M24 -24l-2 2l-2 2l0-3l2-2M30 -14l-2-3l-1-2l-2 2M25 -17l-1 3l0 3l1 2l2 3l2 1l-1 3l-1 3l2 2l2-2M31 1l-2-1l0-3l-1-3l0-3l3-1M31 -10l-3-1l-2-2l-3-2l-2-1l3-1l2 2l2 3M0 26l2 1l3 0l2 2M29 17l-2 2l1-3l-1-3l-1-2l-1 2l-2 2l0 3l2 1l3 0M31 3l1-3l-2 1l-3 0l0-3l1-3M28 -5l0-3l1-2l2-3l-2 3M29 -10l1 2l1 3l2 3" stroke="#000"/>
</g>
</defs>
<use href="#tF2" transform="translate(90.8 122.8) rotate(175) scale(0.812)"/>
<path d="M201 246l-6 1l-6 2l-5-3l-6-1l-6-1" transform="scale(0.5)" fill="none" stroke="#d83a1a" stroke-width="1.2" opacity="0.75"/>
<use href="#tF1" transform="translate(141.1 122.8) rotate(344) scale(0.753)"/>
<path d="M284 242l-5-3l-4-5l-5-2l5 3l5 3" transform="scale(0.5)" fill="none" stroke="#d83a1a" stroke-width="1.2" opacity="0.75"/>
<use href="#tR2" transform="translate(191.4 122.8) rotate(87) scale(0.841)"/>
<path d="M378 242l2 5l5 5l4 3l6 1l-1 6" transform="scale(0.5)" fill="none" stroke="#d83a1a" stroke-width="1.2" opacity="0.75"/>
<use href="#tF1" transform="translate(241.7 122.8) rotate(275) scale(0.765)"/>
<path d="M478 248l-5 2l-6 1l6 0l6 0l6-1" transform="scale(0.5)" fill="none" stroke="#d83a1a" stroke-width="1.2" opacity="0.75"/>
<use href="#tR1" transform="translate(292 122.8) rotate(150) scale(0.794)"/>
<path d="M591 257l4-5l3-5l0-6l3-5l0 6" transform="scale(0.5)" fill="none" stroke="#d83a1a" stroke-width="1.2" opacity="0.75"/>
<use href="#tF2" transform="translate(342.3 122.8) rotate(302) scale(0.812)"/>
<path d="M686 246l6 2l6 1l5-3l-4-3l-5-5" transform="scale(0.5)" fill="none" stroke="#d83a1a" stroke-width="1.2" opacity="0.75"/>
<use href="#tS1" transform="translate(392.6 122.8) rotate(262) scale(0.753)"/>
<path d="M798 246l1-6l-3-6l-3-5l1 6l3 5" transform="scale(0.5)" fill="none" stroke="#d83a1a" stroke-width="1.2" opacity="0.75"/>
<use href="#tR1" transform="translate(442.9 122.8) rotate(75) scale(0.965)"/>
<path d="M873 263l-5-2l2-6l3-5l4-5l3-5" transform="scale(0.5)" fill="none" stroke="#d83a1a" stroke-width="1.2" opacity="0.75"/>
<use href="#tS1" transform="translate(493.2 122.8) rotate(260) scale(0.959)"/>
<path d="M982 228l1-5l3 5l5 4l3 5l4 5" transform="scale(0.5)" fill="none" stroke="#d83a1a" stroke-width="1.2" opacity="0.75"/>
<use href="#tR2" transform="translate(543.5 122.8) rotate(244) scale(0.971)"/>
<path d="M1091 246l3 5l4 5l4 4l-6-1l-6 0" transform="scale(0.5)" fill="none" stroke="#d83a1a" stroke-width="1.2" opacity="0.75"/>
<use href="#tF1" transform="translate(593.8 122.8) rotate(69) scale(0.953)"/>
<path d="M1182 233l2-6l5-2l6 1l6 2l-4-4" transform="scale(0.5)" fill="none" stroke="#d83a1a" stroke-width="1.2" opacity="0.75"/>
<use href="#tF2" transform="translate(644.1 122.8) rotate(217) scale(0.971)"/>
<path d="M1299 231l0-6l4 5l3 5l2 5l-6 0" transform="scale(0.5)" fill="none" stroke="#d83a1a" stroke-width="1.2" opacity="0.75"/>
<use href="#tR1" transform="translate(90.8 170) rotate(309) scale(0.812)"/>
<path d="M178 328l6 3l5 3l5 3l5 3l-4 5" transform="scale(0.5)" fill="none" stroke="#d83a1a" stroke-width="1.2" opacity="0.75"/>
<use href="#tS1" transform="translate(141.1 170) rotate(263) scale(0.606)"/>
<path d="M284 354l6-3l0-6l0-6l1-6l-1 6" transform="scale(0.5)" fill="none" stroke="#d83a1a" stroke-width="1.2" opacity="0.75"/>
<use href="#tF1" transform="translate(191.4 170) rotate(163) scale(0.735)"/>
<path d="M376 355l5-3l4-5l4-4l5-3l4-5" transform="scale(0.5)" fill="none" stroke="#d83a1a" stroke-width="1.2" opacity="0.75"/>
<use href="#tS2" transform="translate(241.7 170) rotate(239) scale(0.765)"/>
<path d="M489 332l4-4l-2-6l-6 1l6 2l5 3" transform="scale(0.5)" fill="none" stroke="#d83a1a" stroke-width="1.2" opacity="0.75"/>
<use href="#tT1" transform="translate(292 170) rotate(241) scale(0.665)"/>
<path d="M576 342l4-4l6-2l6 1l6-1l0 6" transform="scale(0.5)" fill="none" stroke="#d83a1a" stroke-width="1.2" opacity="0.75"/>
<use href="#tR1" transform="translate(342.3 170) rotate(207) scale(0.782)"/>
<path d="M680 328l-5 3l-6 3l0-6l3 5l3 6" transform="scale(0.5)" fill="none" stroke="#d83a1a" stroke-width="1.2" opacity="0.75"/>
<use href="#tR2" transform="translate(392.6 170) rotate(275) scale(0.982)"/>
<path d="M773 323l2 5l2 6l0 6l-3 5l-2 6" transform="scale(0.5)" fill="none" stroke="#d83a1a" stroke-width="1.2" opacity="0.75"/>
<use href="#tR2" transform="translate(442.9 170) rotate(272) scale(0.971)"/>
<path d="M887 348l0 6l-1 6l-6-3l-6 0l-6 0" transform="scale(0.5)" fill="none" stroke="#d83a1a" stroke-width="1.2" opacity="0.75"/>
<use href="#tS1" transform="translate(493.2 170) rotate(93) scale(0.912)"/>
<path d="M974 358l-5-4l5-4l3-4l3-6l3-5" transform="scale(0.5)" fill="none" stroke="#d83a1a" stroke-width="1.2" opacity="0.75"/>
<use href="#tT1" transform="translate(543.5 170) rotate(101) scale(0.724)"/>
<path d="M1090 354l-5-2l-6-2l-5-4l5 4l5 4" transform="scale(0.5)" fill="none" stroke="#d83a1a" stroke-width="1.2" opacity="0.75"/>
<use href="#tR1" transform="translate(593.8 170) rotate(64) scale(0.753)"/>
<path d="M1191 323l4 4l3 5l5 4l-5 4l-5 3" transform="scale(0.5)" fill="none" stroke="#d83a1a" stroke-width="1.2" opacity="0.75"/>
<use href="#tS1" transform="translate(644.1 170) rotate(110) scale(0.753)"/>
<path d="M1278 344l6 2l6 1l6-1l6 1l-6 0" transform="scale(0.5)" fill="none" stroke="#d83a1a" stroke-width="1.2" opacity="0.75"/>
<use href="#tR2" transform="translate(90.8 217.2) rotate(318) scale(0.794)"/>
<path d="M181 445l3 5l-4-5l-5-3l-4-4l-5-4" transform="scale(0.5)" fill="none" stroke="#d83a1a" stroke-width="1.2" opacity="0.75"/>
<use href="#tT1" transform="translate(141.1 217.2) rotate(343) scale(0.782)"/>
<path d="M288 440l2 6l3 5l1-6l0-6l2-6" transform="scale(0.5)" fill="none" stroke="#d83a1a" stroke-width="1.2" opacity="0.75"/>
<use href="#tS2" transform="translate(191.4 217.2) rotate(184) scale(0.765)"/>
<path d="M369 433l2 6l3 5l1 6l3-6l4-4" transform="scale(0.5)" fill="none" stroke="#d83a1a" stroke-width="1.2" opacity="0.75"/>
<use href="#tS1" transform="translate(241.7 217.2) rotate(199) scale(0.782)"/>
<path d="M478 430l-5 2l-6 0l1 6l3-5l5-4" transform="scale(0.5)" fill="none" stroke="#d83a1a" stroke-width="1.2" opacity="0.75"/>
<use href="#tS1" transform="translate(292 217.2) rotate(79) scale(0.724)"/>
<path d="M568 426l-1 6l4-4l5-4l5-3l5-3" transform="scale(0.5)" fill="none" stroke="#d83a1a" stroke-width="1.2" opacity="0.75"/>
<use href="#tS2" transform="translate(342.3 217.2) rotate(66) scale(0.812)"/>
<path d="M682 447l6 2l4 4l-4-4l-4-4l-3-5" transform="scale(0.5)" fill="none" stroke="#d83a1a" stroke-width="1.2" opacity="0.75"/>
<use href="#tT1" transform="translate(392.6 217.2) rotate(220) scale(0.812)"/>
<path d="M790 424l-1-6l3 5l4 4l4 5l2 5" transform="scale(0.5)" fill="none" stroke="#d83a1a" stroke-width="1.2" opacity="0.75"/>
<use href="#tR2" transform="translate(442.9 217.2) rotate(338) scale(0.959)"/>
<path d="M887 439l3-5l2-6l3-5l4-4l-5-2" transform="scale(0.5)" fill="none" stroke="#d83a1a" stroke-width="1.2" opacity="0.75"/>
<use href="#tS1" transform="translate(493.2 217.2) rotate(36) scale(0.982)"/>
<path d="M983 438l6 1l5 4l5 3l5 3l-4-4" transform="scale(0.5)" fill="none" stroke="#d83a1a" stroke-width="1.2" opacity="0.75"/>
<use href="#tS2" transform="translate(543.5 217.2) rotate(252) scale(0.941)"/>
<path d="M1081 424l5-3l5-4l3-5l-2 5l-3 6" transform="scale(0.5)" fill="none" stroke="#d83a1a" stroke-width="1.2" opacity="0.75"/>
<use href="#tR2" transform="translate(593.8 217.2) rotate(150) scale(1.000)"/>
<path d="M1193 435l-1 6l-4 4l-4 4l-4 5l6 0" transform="scale(0.5)" fill="none" stroke="#d83a1a" stroke-width="1.2" opacity="0.75"/>
<use href="#tR1" transform="translate(644.1 217.2) rotate(322) scale(0.982)"/>
<path d="M1289 433l6-1l6 2l5 2l6 0l-5 3" transform="scale(0.5)" fill="none" stroke="#d83a1a" stroke-width="1.2" opacity="0.75"/>
<use href="#tF2" transform="translate(90.8 264.4) rotate(181) scale(0.794)"/>
<path d="M181 528l-6-2l-6-2l-5-2l3-5l4-4" transform="scale(0.5)" fill="none" stroke="#d83a1a" stroke-width="1.2" opacity="0.75"/>
<use href="#tR1" transform="translate(141.1 264.4) rotate(237) scale(0.753)"/>
<path d="M279 533l-1-6l-1-6l-2-5l4 4l6 2" transform="scale(0.5)" fill="none" stroke="#d83a1a" stroke-width="1.2" opacity="0.75"/>
<use href="#tF1" transform="translate(191.4 264.4) rotate(218) scale(0.776)"/>
<path d="M368 538l4-4l5-3l6-3l4-4l6-2" transform="scale(0.5)" fill="none" stroke="#d83a1a" stroke-width="1.2" opacity="0.75"/>
<use href="#tR2" transform="translate(241.7 264.4) rotate(150) scale(0.765)"/>
<path d="M483 527l0-5l-1-6l2-6l-5 3l-2 6" transform="scale(0.5)" fill="none" stroke="#d83a1a" stroke-width="1.2" opacity="0.75"/>
<use href="#tS1" transform="translate(292 264.4) rotate(244) scale(0.753)"/>
<path d="M583 535l-5 3l-5 3l2-5l3-6l3-5" transform="scale(0.5)" fill="none" stroke="#d83a1a" stroke-width="1.2" opacity="0.75"/>
<use href="#tS1" transform="translate(342.3 264.4) rotate(177) scale(0.835)"/>
<path d="M680 519l4 3l6 3l5 3l6 1l3 5" transform="scale(0.5)" fill="none" stroke="#d83a1a" stroke-width="1.2" opacity="0.75"/>
<use href="#tR2" transform="translate(392.6 264.4) rotate(90) scale(0.988)"/>
<path d="M791 527l-6 0l-5 3l-6 2l-6 1l-6 1" transform="scale(0.5)" fill="none" stroke="#d83a1a" stroke-width="1.2" opacity="0.75"/>
<use href="#tR1" transform="translate(442.9 264.4) rotate(315) scale(0.971)"/>
<path d="M886 532l6 1l6 0l5 2l5 4l-6 1" transform="scale(0.5)" fill="none" stroke="#d83a1a" stroke-width="1.2" opacity="0.75"/>
<use href="#tR2" transform="translate(493.2 264.4) rotate(283) scale(1.000)"/>
<path d="M996 529l-2-6l0-6l0-6l0-6l5 3" transform="scale(0.5)" fill="none" stroke="#d83a1a" stroke-width="1.2" opacity="0.75"/>
<use href="#tR1" transform="translate(543.5 264.4) rotate(114) scale(0.924)"/>
<path d="M1098 517l-6 0l-5-3l-6-2l-5 3l-6 2" transform="scale(0.5)" fill="none" stroke="#d83a1a" stroke-width="1.2" opacity="0.75"/>
<use href="#tR2" transform="translate(593.8 264.4) rotate(308) scale(0.929)"/>
<path d="M1168 541l2-5l0-6l3-6l5-3l5-4" transform="scale(0.5)" fill="none" stroke="#d83a1a" stroke-width="1.2" opacity="0.75"/>
<use href="#tF1" transform="translate(644.1 264.4) rotate(253) scale(0.941)"/>
<path d="M1279 515l-3-5l4 4l6 4l5 1l6 1" transform="scale(0.5)" fill="none" stroke="#d83a1a" stroke-width="1.2" opacity="0.75"/>
<use href="#tF1" transform="translate(90.8 311.6) rotate(70) scale(0.765)"/>
<path d="M184 633l-6-2l-6 0l-6 1l-3-5l5-2" transform="scale(0.5)" fill="none" stroke="#d83a1a" stroke-width="1.2" opacity="0.75"/>
<use href="#tR1" transform="translate(141.1 311.6) rotate(132) scale(0.776)"/>
<path d="M278 633l2-6l2-5l0-6l1-6l-2-6" transform="scale(0.5)" fill="none" stroke="#d83a1a" stroke-width="1.2" opacity="0.75"/>
<use href="#tR1" transform="translate(191.4 311.6) rotate(157) scale(0.794)"/>
<path d="M382 623l1-6l0-6l-2-6l-5 2l-6 2" transform="scale(0.5)" fill="none" stroke="#d83a1a" stroke-width="1.2" opacity="0.75"/>
<use href="#tS2" transform="translate(241.7 311.6) rotate(281) scale(0.806)"/>
<path d="M472 608l6 0l6-1l6 0l-4 4l-6 1" transform="scale(0.5)" fill="none" stroke="#d83a1a" stroke-width="1.2" opacity="0.75"/>
<use href="#tF1" transform="translate(292 311.6) rotate(246) scale(0.794)"/>
<path d="M593 634l6-3l-2 6l-1-6l-1-6l-5-4" transform="scale(0.5)" fill="none" stroke="#d83a1a" stroke-width="1.2" opacity="0.75"/>
<use href="#tS2" transform="translate(342.3 311.6) rotate(31) scale(0.824)"/>
<path d="M699 624l2-6l-3 5l-4 5l-5 3l-4 4" transform="scale(0.5)" fill="none" stroke="#d83a1a" stroke-width="1.2" opacity="0.75"/>
<use href="#tS2" transform="translate(392.6 311.6) rotate(280) scale(0.941)"/>
<path d="M790 624l5-4l6-2l6-2l-2-6l-5 3" transform="scale(0.5)" fill="none" stroke="#d83a1a" stroke-width="1.2" opacity="0.75"/>
<use href="#tR1" transform="translate(442.9 311.6) rotate(116) scale(0.971)"/>
<path d="M891 604l-3 5l-3 6l-5 3l-6 2l-5 2" transform="scale(0.5)" fill="none" stroke="#d83a1a" stroke-width="1.2" opacity="0.75"/>
<use href="#tF1" transform="translate(493.2 311.6) rotate(78) scale(0.971)"/>
<path d="M984 615l-5 3l-6 3l-5 3l-5 3l6-1" transform="scale(0.5)" fill="none" stroke="#d83a1a" stroke-width="1.2" opacity="0.75"/>
<use href="#tT1" transform="translate(543.5 311.6) rotate(318) scale(1.000)"/>
<path d="M1084 610l-2-6l-3-5l6-1l0 6l2 6" transform="scale(0.5)" fill="none" stroke="#d83a1a" stroke-width="1.2" opacity="0.75"/>
<use href="#tF2" transform="translate(593.8 311.6) rotate(11) scale(0.988)"/>
<path d="M1181 605l-4-5l4 5l2 5l3 6l3 5" transform="scale(0.5)" fill="none" stroke="#d83a1a" stroke-width="1.2" opacity="0.75"/>
<use href="#tR1" transform="translate(644.1 311.6) rotate(218) scale(0.959)"/>
<path d="M1296 629l4 4l5 4l-5 3l-6 3l-5 2" transform="scale(0.5)" fill="none" stroke="#d83a1a" stroke-width="1.2" opacity="0.75"/>
<use href="#tF2" transform="translate(90.8 358.8) rotate(144) scale(0.782)"/>
<path d="M182 719l6 1l4 4l3 5l4-4l-4 4" transform="scale(0.5)" fill="none" stroke="#d83a1a" stroke-width="1.2" opacity="0.75"/>
<use href="#tS2" transform="translate(141.1 358.8) rotate(57) scale(0.765)"/>
<path d="M275 731l6 1l5 3l-4-5l-6-1l-6-2" transform="scale(0.5)" fill="none" stroke="#d83a1a" stroke-width="1.2" opacity="0.75"/>
<use href="#tS1" transform="translate(191.4 358.8) rotate(85) scale(0.694)"/>
<path d="M386 713l5-3l4-5l-6 1l-6 1l-6 0" transform="scale(0.5)" fill="none" stroke="#d83a1a" stroke-width="1.2" opacity="0.75"/>
<use href="#tF2" transform="translate(241.7 358.8) rotate(31) scale(0.753)"/>
<path d="M480 729l5-4l4-5l5-3l6 2l-6 1" transform="scale(0.5)" fill="none" stroke="#d83a1a" stroke-width="1.2" opacity="0.75"/>
<use href="#tF2" transform="translate(292 358.8) rotate(344) scale(0.812)"/>
<path d="M594 712l-5 3l-6 0l-6 0l-6 1l-6 0" transform="scale(0.5)" fill="none" stroke="#d83a1a" stroke-width="1.2" opacity="0.75"/>
<use href="#tF1" transform="translate(342.3 358.8) rotate(72) scale(0.782)"/>
<path d="M688 717l-3-5l-5-4l-4-4l3 5l3 5" transform="scale(0.5)" fill="none" stroke="#d83a1a" stroke-width="1.2" opacity="0.75"/>
<use href="#tS1" transform="translate(392.6 358.8) rotate(51) scale(0.953)"/>
<path d="M792 726l2 5l3 6l4-5l3-5l4-5" transform="scale(0.5)" fill="none" stroke="#d83a1a" stroke-width="1.2" opacity="0.75"/>
<use href="#tF2" transform="translate(442.9 358.8) rotate(274) scale(1.000)"/>
<path d="M879 708l-6-3l-6 0l0 6l-1 6l0 6" transform="scale(0.5)" fill="none" stroke="#d83a1a" stroke-width="1.2" opacity="0.75"/>
<use href="#tR2" transform="translate(493.2 358.8) rotate(107) scale(1.000)"/>
<path d="M981 730l-5 4l-5 2l1-5l3-5l4-6" transform="scale(0.5)" fill="none" stroke="#d83a1a" stroke-width="1.2" opacity="0.75"/>
<use href="#tR1" transform="translate(543.5 358.8) rotate(198) scale(0.959)"/>
<path d="M1065 723l4-4l6-1l6 0l6 0l5-3" transform="scale(0.5)" fill="none" stroke="#d83a1a" stroke-width="1.2" opacity="0.75"/>
<use href="#tR1" transform="translate(593.8 358.8) rotate(145) scale(0.988)"/>
<path d="M1191 720l-4-4l-4-4l-2-6l-2-6l0-6" transform="scale(0.5)" fill="none" stroke="#d83a1a" stroke-width="1.2" opacity="0.75"/>
<use href="#tS2" transform="translate(644.1 358.8) rotate(55) scale(0.824)"/>
<path d="M1283 713l5 4l4 4l4 4l1 6l-3 5" transform="scale(0.5)" fill="none" stroke="#d83a1a" stroke-width="1.2" opacity="0.75"/>
<circle cx="90.8" cy="122.8" r="18.4" fill="none" stroke="#b06ab8" stroke-width="1.2"/>
<circle cx="141.1" cy="122.8" r="18.4" fill="none" stroke="#b06ab8" stroke-width="1.2"/>
<circle cx="191.4" cy="122.8" r="18.4" fill="none" stroke="#b06ab8" stroke-width="1.2"/>
<circle cx="241.7" cy="122.8" r="18.4" fill="none" stroke="#b06ab8" stroke-width="1.2"/>
<circle cx="292" cy="122.8" r="18.4" fill="none" stroke="#b06ab8" stroke-width="1.2"/>
<circle cx="342.3" cy="122.8" r="18.4" fill="none" stroke="#b06ab8" stroke-width="1.2"/>
<circle cx="392.6" cy="122.8" r="18.4" fill="none" stroke="#b06ab8" stroke-width="1.2"/>
<circle cx="442.9" cy="122.8" r="18.4" fill="none" stroke="#b06ab8" stroke-width="1.2"/>
<circle cx="493.2" cy="122.8" r="18.4" fill="none" stroke="#b06ab8" stroke-width="1.2"/>
<circle cx="543.5" cy="122.8" r="18.4" fill="none" stroke="#b06ab8" stroke-width="1.2"/>
<circle cx="593.8" cy="122.8" r="18.4" fill="none" stroke="#b06ab8" stroke-width="1.2"/>
<circle cx="644.1" cy="122.8" r="18.4" fill="none" stroke="#b06ab8" stroke-width="1.2"/>
<circle cx="90.8" cy="170" r="18.4" fill="none" stroke="#b06ab8" stroke-width="1.2"/>
<circle cx="141.1" cy="170" r="18.4" fill="none" stroke="#b06ab8" stroke-width="1.2"/>
<circle cx="191.4" cy="170" r="18.4" fill="none" stroke="#b06ab8" stroke-width="1.2"/>
<circle cx="241.7" cy="170" r="18.4" fill="none" stroke="#b06ab8" stroke-width="1.2"/>
<circle cx="292" cy="170" r="18.4" fill="none" stroke="#b06ab8" stroke-width="1.2"/>
<circle cx="342.3" cy="170" r="18.4" fill="none" stroke="#b06ab8" stroke-width="1.2"/>
<circle cx="392.6" cy="170" r="18.4" fill="none" stroke="#b06ab8" stroke-width="1.2"/>
<circle cx="442.9" cy="170" r="18.4" fill="none" stroke="#b06ab8" stroke-width="1.2"/>
<circle cx="493.2" cy="170" r="18.4" fill="none" stroke="#b06ab8" stroke-width="1.2"/>
<circle cx="543.5" cy="170" r="18.4" fill="none" stroke="#b06ab8" stroke-width="1.2"/>
<circle cx="593.8" cy="170" r="18.4" fill="none" stroke="#b06ab8" stroke-width="1.2"/>
<circle cx="644.1" cy="170" r="18.4" fill="none" stroke="#b06ab8" stroke-width="1.2"/>
<circle cx="90.8" cy="217.2" r="18.4" fill="none" stroke="#b06ab8" stroke-width="1.2"/>
<circle cx="141.1" cy="217.2" r="18.4" fill="none" stroke="#b06ab8" stroke-width="1.2"/>
<circle cx="191.4" cy="217.2" r="18.4" fill="none" stroke="#b06ab8" stroke-width="1.2"/>
<circle cx="241.7" cy="217.2" r="18.4" fill="none" stroke="#b06ab8" stroke-width="1.2"/>
<circle cx="292" cy="217.2" r="18.4" fill="none" stroke="#b06ab8" stroke-width="1.2"/>
<circle cx="342.3" cy="217.2" r="18.4" fill="none" stroke="#b06ab8" stroke-width="1.2"/>
<circle cx="392.6" cy="217.2" r="18.4" fill="none" stroke="#b06ab8" stroke-width="1.2"/>
<circle cx="442.9" cy="217.2" r="18.4" fill="none" stroke="#b06ab8" stroke-width="1.2"/>
<circle cx="493.2" cy="217.2" r="18.4" fill="none" stroke="#b06ab8" stroke-width="1.2"/>
<circle cx="543.5" cy="217.2" r="18.4" fill="none" stroke="#b06ab8" stroke-width="1.2"/>
<circle cx="593.8" cy="217.2" r="18.4" fill="none" stroke="#b06ab8" stroke-width="1.2"/>
<circle cx="644.1" cy="217.2" r="18.4" fill="none" stroke="#b06ab8" stroke-width="1.2"/>
<circle cx="90.8" cy="264.4" r="18.4" fill="none" stroke="#b06ab8" stroke-width="1.2"/>
<circle cx="141.1" cy="264.4" r="18.4" fill="none" stroke="#b06ab8" stroke-width="1.2"/>
<circle cx="191.4" cy="264.4" r="18.4" fill="none" stroke="#b06ab8" stroke-width="1.2"/>
<circle cx="241.7" cy="264.4" r="18.4" fill="none" stroke="#b06ab8" stroke-width="1.2"/>
<circle cx="292" cy="264.4" r="18.4" fill="none" stroke="#b06ab8" stroke-width="1.2"/>
<circle cx="342.3" cy="264.4" r="18.4" fill="none" stroke="#b06ab8" stroke-width="1.2"/>
<circle cx="392.6" cy="264.4" r="18.4" fill="none" stroke="#b06ab8" stroke-width="1.2"/>
<circle cx="442.9" cy="264.4" r="18.4" fill="none" stroke="#b06ab8" stroke-width="1.2"/>
<circle cx="493.2" cy="264.4" r="18.4" fill="none" stroke="#b06ab8" stroke-width="1.2"/>
<circle cx="543.5" cy="264.4" r="18.4" fill="none" stroke="#b06ab8" stroke-width="1.2"/>
<circle cx="593.8" cy="264.4" r="18.4" fill="none" stroke="#b06ab8" stroke-width="1.2"/>
<circle cx="644.1" cy="264.4" r="18.4" fill="none" stroke="#b06ab8" stroke-width="1.2"/>
<circle cx="90.8" cy="311.6" r="18.4" fill="none" stroke="#b06ab8" stroke-width="1.2"/>
<circle cx="141.1" cy="311.6" r="18.4" fill="none" stroke="#b06ab8" stroke-width="1.2"/>
<circle cx="191.4" cy="311.6" r="18.4" fill="none" stroke="#b06ab8" stroke-width="1.2"/>
<circle cx="241.7" cy="311.6" r="18.4" fill="none" stroke="#b06ab8" stroke-width="1.2"/>
<circle cx="292" cy="311.6" r="18.4" fill="none" stroke="#b06ab8" stroke-width="1.2"/>
<circle cx="342.3" cy="311.6" r="18.4" fill="none" stroke="#b06ab8" stroke-width="1.2"/>
<circle cx="392.6" cy="311.6" r="18.4" fill="none" stroke="#b06ab8" stroke-width="1.2"/>
<circle cx="442.9" cy="311.6" r="18.4" fill="none" stroke="#b06ab8" stroke-width="1.2"/>
<circle cx="493.2" cy="311.6" r="18.4" fill="none" stroke="#b06ab8" stroke-width="1.2"/>
<circle cx="543.5" cy="311.6" r="18.4" fill="none" stroke="#b06ab8" stroke-width="1.2"/>
<circle cx="593.8" cy="311.6" r="18.4" fill="none" stroke="#b06ab8" stroke-width="1.2"/>
<circle cx="644.1" cy="311.6" r="18.4" fill="none" stroke="#b06ab8" stroke-width="1.2"/>
<circle cx="90.8" cy="358.8" r="18.4" fill="none" stroke="#b06ab8" stroke-width="1.2"/>
<circle cx="141.1" cy="358.8" r="18.4" fill="none" stroke="#b06ab8" stroke-width="1.2"/>
<circle cx="191.4" cy="358.8" r="18.4" fill="none" stroke="#b06ab8" stroke-width="1.2"/>
<circle cx="241.7" cy="358.8" r="18.4" fill="none" stroke="#b06ab8" stroke-width="1.2"/>
<circle cx="292" cy="358.8" r="18.4" fill="none" stroke="#b06ab8" stroke-width="1.2"/>
<circle cx="342.3" cy="358.8" r="18.4" fill="none" stroke="#b06ab8" stroke-width="1.2"/>
<circle cx="392.6" cy="358.8" r="18.4" fill="none" stroke="#b06ab8" stroke-width="1.2"/>
<circle cx="442.9" cy="358.8" r="18.4" fill="none" stroke="#b06ab8" stroke-width="1.2"/>
<circle cx="493.2" cy="358.8" r="18.4" fill="none" stroke="#b06ab8" stroke-width="1.2"/>
<circle cx="543.5" cy="358.8" r="18.4" fill="none" stroke="#b06ab8" stroke-width="1.2"/>
<circle cx="593.8" cy="358.8" r="18.4" fill="none" stroke="#b06ab8" stroke-width="1.2"/>
<circle cx="644.1" cy="358.8" r="18.4" fill="none" stroke="#b06ab8" stroke-width="1.2"/>
<circle cx="86.9" cy="134.3" r="1.9" fill="#f07810" stroke="#c05a00" stroke-width="0.4"/>
<circle cx="131.7" cy="129" r="1.9" fill="#f07810" stroke="#c05a00" stroke-width="0.4"/>
<circle cx="181.7" cy="130.9" r="1.9" fill="#f07810" stroke="#c05a00" stroke-width="0.4"/>
<circle cx="253.1" cy="124" r="1.9" fill="#f07810" stroke="#c05a00" stroke-width="0.4"/>
<circle cx="297.4" cy="112.2" r="1.9" fill="#f07810" stroke="#c05a00" stroke-width="0.4"/>
<circle cx="340.1" cy="110.9" r="1.9" fill="#f07810" stroke="#c05a00" stroke-width="0.4"/>
<circle cx="393.6" cy="134" r="1.9" fill="#f07810" stroke="#c05a00" stroke-width="0.4"/>
<circle cx="441.9" cy="108.4" r="1.9" fill="#f07810" stroke="#c05a00" stroke-width="0.4"/>
<circle cx="502.8" cy="133.5" r="1.9" fill="#f07810" stroke="#c05a00" stroke-width="0.4"/>
<circle cx="529" cy="122.2" r="1.9" fill="#f07810" stroke="#c05a00" stroke-width="0.4"/>
<circle cx="593.3" cy="108.6" r="1.9" fill="#f07810" stroke="#c05a00" stroke-width="0.4"/>
<circle cx="634.9" cy="134" r="1.9" fill="#f07810" stroke="#c05a00" stroke-width="0.4"/>
<circle cx="93" cy="158.1" r="1.9" fill="#f07810" stroke="#c05a00" stroke-width="0.4"/>
<circle cx="132.3" cy="172.2" r="1.9" fill="#f07810" stroke="#c05a00" stroke-width="0.4"/>
<circle cx="202.3" cy="171.3" r="1.9" fill="#f07810" stroke="#c05a00" stroke-width="0.4"/>
<circle cx="240.4" cy="158.6" r="1.9" fill="#f07810" stroke="#c05a00" stroke-width="0.4"/>
<circle cx="297.6" cy="161.8" r="1.9" fill="#f07810" stroke="#c05a00" stroke-width="0.4"/>
<circle cx="349" cy="179.6" r="1.9" fill="#f07810" stroke="#c05a00" stroke-width="0.4"/>
<circle cx="379.2" cy="164" r="1.9" fill="#f07810" stroke="#c05a00" stroke-width="0.4"/>
<circle cx="443.4" cy="155.5" r="1.9" fill="#f07810" stroke="#c05a00" stroke-width="0.4"/>
<circle cx="505.6" cy="164.4" r="1.9" fill="#f07810" stroke="#c05a00" stroke-width="0.4"/>
<circle cx="532.9" cy="167.6" r="1.9" fill="#f07810" stroke="#c05a00" stroke-width="0.4"/>
<circle cx="600.2" cy="179.3" r="1.9" fill="#f07810" stroke="#c05a00" stroke-width="0.4"/>
<circle cx="645.3" cy="181.2" r="1.9" fill="#f07810" stroke="#c05a00" stroke-width="0.4"/>
<circle cx="83.1" cy="208.2" r="1.9" fill="#f07810" stroke="#c05a00" stroke-width="0.4"/>
<circle cx="138.6" cy="228.6" r="1.9" fill="#f07810" stroke="#c05a00" stroke-width="0.4"/>
<circle cx="180" cy="218.2" r="1.9" fill="#f07810" stroke="#c05a00" stroke-width="0.4"/>
<circle cx="243.5" cy="205.6" r="1.9" fill="#f07810" stroke="#c05a00" stroke-width="0.4"/>
<circle cx="301.1" cy="223" r="1.9" fill="#f07810" stroke="#c05a00" stroke-width="0.4"/>
<circle cx="332.7" cy="209.8" r="1.9" fill="#f07810" stroke="#c05a00" stroke-width="0.4"/>
<circle cx="403.7" cy="212.2" r="1.9" fill="#f07810" stroke="#c05a00" stroke-width="0.4"/>
<circle cx="457" cy="214.6" r="1.9" fill="#f07810" stroke="#c05a00" stroke-width="0.4"/>
<circle cx="505.9" cy="224.7" r="1.9" fill="#f07810" stroke="#c05a00" stroke-width="0.4"/>
<circle cx="547.7" cy="230.6" r="1.9" fill="#f07810" stroke="#c05a00" stroke-width="0.4"/>
<circle cx="581.7" cy="226" r="1.9" fill="#f07810" stroke="#c05a00" stroke-width="0.4"/>
<circle cx="657.4" cy="210.9" r="1.9" fill="#f07810" stroke="#c05a00" stroke-width="0.4"/>
<circle cx="92.2" cy="276.2" r="1.9" fill="#f07810" stroke="#c05a00" stroke-width="0.4"/>
<circle cx="145.6" cy="254.1" r="1.9" fill="#f07810" stroke="#c05a00" stroke-width="0.4"/>
<circle cx="183.4" cy="272.9" r="1.9" fill="#f07810" stroke="#c05a00" stroke-width="0.4"/>
<circle cx="252.5" cy="260.5" r="1.9" fill="#f07810" stroke="#c05a00" stroke-width="0.4"/>
<circle cx="281.6" cy="268.8" r="1.9" fill="#f07810" stroke="#c05a00" stroke-width="0.4"/>
<circle cx="332.4" cy="272" r="1.9" fill="#f07810" stroke="#c05a00" stroke-width="0.4"/>
<circle cx="387.2" cy="278.2" r="1.9" fill="#f07810" stroke="#c05a00" stroke-width="0.4"/>
<circle cx="429.1" cy="269" r="1.9" fill="#f07810" stroke="#c05a00" stroke-width="0.4"/>
<circle cx="508.1" cy="265.4" r="1.9" fill="#f07810" stroke="#c05a00" stroke-width="0.4"/>
<circle cx="552.9" cy="274.5" r="1.9" fill="#f07810" stroke="#c05a00" stroke-width="0.4"/>
<circle cx="588.1" cy="277.1" r="1.9" fill="#f07810" stroke="#c05a00" stroke-width="0.4"/>
<circle cx="639.9" cy="250.9" r="1.9" fill="#f07810" stroke="#c05a00" stroke-width="0.4"/>
<circle cx="102.2" cy="310.6" r="1.9" fill="#f07810" stroke="#c05a00" stroke-width="0.4"/>
<circle cx="129.5" cy="311.1" r="1.9" fill="#f07810" stroke="#c05a00" stroke-width="0.4"/>
<circle cx="180.8" cy="316.9" r="1.9" fill="#f07810" stroke="#c05a00" stroke-width="0.4"/>
<circle cx="229.7" cy="312.5" r="1.9" fill="#f07810" stroke="#c05a00" stroke-width="0.4"/>
<circle cx="299.2" cy="302.2" r="1.9" fill="#f07810" stroke="#c05a00" stroke-width="0.4"/>
<circle cx="354.4" cy="314.2" r="1.9" fill="#f07810" stroke="#c05a00" stroke-width="0.4"/>
<circle cx="401.6" cy="300.8" r="1.9" fill="#f07810" stroke="#c05a00" stroke-width="0.4"/>
<circle cx="452.3" cy="300.5" r="1.9" fill="#f07810" stroke="#c05a00" stroke-width="0.4"/>
<circle cx="486.6" cy="298.7" r="1.9" fill="#f07810" stroke="#c05a00" stroke-width="0.4"/>
<circle cx="556.2" cy="303.7" r="1.9" fill="#f07810" stroke="#c05a00" stroke-width="0.4"/>
<circle cx="607.9" cy="307.2" r="1.9" fill="#f07810" stroke="#c05a00" stroke-width="0.4"/>
<circle cx="654.4" cy="321.6" r="1.9" fill="#f07810" stroke="#c05a00" stroke-width="0.4"/>
<circle cx="99.4" cy="350.8" r="1.9" fill="#f07810" stroke="#c05a00" stroke-width="0.4"/>
<circle cx="129.7" cy="357.5" r="1.9" fill="#f07810" stroke="#c05a00" stroke-width="0.4"/>
<circle cx="201.8" cy="359.1" r="1.9" fill="#f07810" stroke="#c05a00" stroke-width="0.4"/>
<circle cx="230.6" cy="360.7" r="1.9" fill="#f07810" stroke="#c05a00" stroke-width="0.4"/>
<circle cx="286.2" cy="369.5" r="1.9" fill="#f07810" stroke="#c05a00" stroke-width="0.4"/>
<circle cx="336.1" cy="368.7" r="1.9" fill="#f07810" stroke="#c05a00" stroke-width="0.4"/>
<circle cx="404.7" cy="366.4" r="1.9" fill="#f07810" stroke="#c05a00" stroke-width="0.4"/>
<circle cx="457.2" cy="354.4" r="1.9" fill="#f07810" stroke="#c05a00" stroke-width="0.4"/>
<circle cx="500.8" cy="371.7" r="1.9" fill="#f07810" stroke="#c05a00" stroke-width="0.4"/>
<circle cx="557.3" cy="362.9" r="1.9" fill="#f07810" stroke="#c05a00" stroke-width="0.4"/>
<circle cx="604.7" cy="368.8" r="1.9" fill="#f07810" stroke="#c05a00" stroke-width="0.4"/>
<circle cx="647.4" cy="346.9" r="1.9" fill="#f07810" stroke="#c05a00" stroke-width="0.4"/>
<text x="714" y="97" font-size="42">b</text>
<rect x="773.5" y="114" width="3" height="257.5" fill="#000"/>
<line x1="770" y1="346.5" x2="775" y2="346.5" stroke="#000" stroke-width="2.2"/>
<line x1="770" y1="300.2" x2="775" y2="300.2" stroke="#000" stroke-width="2.2"/>
<line x1="770" y1="253.9" x2="775" y2="253.9" stroke="#000" stroke-width="2.2"/>
<line x1="770" y1="207.6" x2="775" y2="207.6" stroke="#000" stroke-width="2.2"/>
<line x1="770" y1="161.3" x2="775" y2="161.3" stroke="#000" stroke-width="2.2"/>
<line x1="770" y1="115" x2="775" y2="115" stroke="#000" stroke-width="2.2"/>
<line x1="771.5" y1="323.4" x2="775" y2="323.4" stroke="#000" stroke-width="2"/>
<line x1="771.5" y1="277.1" x2="775" y2="277.1" stroke="#000" stroke-width="2"/>
<line x1="771.5" y1="230.8" x2="775" y2="230.8" stroke="#000" stroke-width="2"/>
<line x1="771.5" y1="184.5" x2="775" y2="184.5" stroke="#000" stroke-width="2"/>
<line x1="771.5" y1="138.2" x2="775" y2="138.2" stroke="#000" stroke-width="2"/>
<text x="763.5" y="353.7" font-size="20" text-anchor="end">1</text>
<text x="763.5" y="307.4" font-size="20" text-anchor="end">2</text>
<text x="763.5" y="261.1" font-size="20" text-anchor="end">3</text>
<text x="763.5" y="214.8" font-size="20" text-anchor="end">4</text>
<text x="763.5" y="168.5" font-size="20" text-anchor="end">5</text>
<text x="763.5" y="122.2" font-size="20" text-anchor="end">6</text>
<text transform="translate(732.5 229.3) rotate(-90)" text-anchor="middle">Distance [m/h]</text>
<line x1="853" y1="120.2" x2="1063.5" y2="120.2" stroke="#000" stroke-width="2"/>
<line x1="853" y1="147.7" x2="1013.5" y2="147.7" stroke="#000" stroke-width="2"/>
<line x1="853" y1="174.8" x2="960.5" y2="174.8" stroke="#000" stroke-width="2"/>
<line x1="853" y1="205.8" x2="911" y2="205.8" stroke="#000" stroke-width="2"/>
<text x="913.5" y="112.7"><tspan font-style="italic">p</tspan> = 0.0014</text>
<text x="898" y="140.8">0.0043</text>
<text x="880.7" y="167.9">0.27</text>
<text x="851.7" y="199.4">0.0021</text>
<path d="M803.6,140 804.2,143.1 804.8,146.1 805.6,149.2 806.4,152.2 807.4,155.3 808.4,158.3 809.5,161.4 810.8,164.5 812.1,167.5 813.5,170.6 814.9,173.6 816.3,176.7 817.8,179.8 819.3,182.8 820.6,185.9 822,188.9 823.2,192 824.2,195.1 825.1,198.1 825.9,201.2 826.4,204.2 826.7,207.3 826.8,210.3 826.7,213.4 826.5,216.5 826.1,219.5 825.6,222.6 825,225.6 824.3,228.7 823.5,231.8 822.6,234.8 821.6,237.9 820.5,240.9 819.4,244 818.3,247 817.1,250.1 816,253.2 814.8,256.2 813.7,259.3 812.6,262.3 811.5,265.4 810.5,268.4 809.5,271.5 808.6,274.6 807.8,277.6 807,280.7 806.3,283.7 805.6,286.8 805,289.9 804.5,292.9 804,296 803.5,299 803.2,302.1 802.8,305.1 802.5,308.2 802.3,311.3 802.1,314.3 801.9,317.4 801.7,320.4 801.6,323.5" fill="none" stroke="#7a7a7a" stroke-width="2.8" stroke-linecap="round" stroke-dasharray="0 4.7"/>
<path d="M854.6,209 854.7,211.6 854.9,214.2 855,216.8 855.2,219.5 855.5,222.1 855.7,224.7 856,227.3 856.3,229.9 856.7,232.6 857.1,235.2 857.6,237.8 858.1,240.4 858.7,243 859.3,245.6 860,248.2 860.8,250.9 861.5,253.5 862.4,256.1 863.3,258.7 864.2,261.3 865.2,263.9 866.2,266.6 867.3,269.2 868.3,271.8 869.4,274.4 870.5,277 871.6,279.6 872.6,282.3 873.7,284.9 874.7,287.5 875.6,290.1 876.4,292.7 877.2,295.4 877.9,298 878.5,300.6 879,303.2 879.4,305.8 879.7,308.4 879.9,311.1 879.9,313.7 879.8,316.3 879.5,318.9 879,321.5 878.4,324.1 877.6,326.8 876.7,329.4 875.7,332 874.6,334.6 873.5,337.2 872.2,339.8 871,342.4 869.7,345.1 868.4,347.7 867.2,350.3 865.9,352.9 864.7,355.5 863.6,358.1 862.5,360.8 861.5,363.4 860.6,366" fill="none" stroke="#7a7a7a" stroke-width="2.8" stroke-linecap="round" stroke-dasharray="0 4.7"/>
<path d="M907.4,165.5 907.6,168.8 907.8,172.2 908,175.5 908.3,178.9 908.7,182.2 909.2,185.6 909.7,188.9 910.3,192.2 911,195.6 911.8,198.9 912.6,202.3 913.6,205.6 914.7,208.9 915.9,212.3 917.1,215.6 918.4,219 919.8,222.3 921.2,225.7 922.7,229 924.1,232.3 925.5,235.7 926.8,239 928.1,242.4 929.2,245.7 930.2,249 931,252.4 931.6,255.7 932.1,259.1 932.3,262.4 932.3,265.8 932.1,269.1 931.7,272.4 931.1,275.8 930.3,279.1 929.4,282.5 928.3,285.8 927.1,289.1 925.8,292.5 924.5,295.8 923.1,299.2 921.7,302.5 920.4,305.9 919,309.2 917.7,312.5 916.5,315.9 915.3,319.2 914.2,322.6 913.2,325.9 912.3,329.2 911.5,332.6 910.8,335.9 910.1,339.3 909.6,342.6 909.1,345.9 908.7,349.3 908.3,352.6 908,356 907.8,359.3 907.6,362.7 907.4,366" fill="none" stroke="#7a7a7a" stroke-width="2.8" stroke-linecap="round" stroke-dasharray="0 4.7"/>
<path d="M960.4,163.5 960.5,166.9 960.7,170.2 960.9,173.6 961.1,177 961.3,180.4 961.6,183.8 961.9,187.1 962.3,190.5 962.7,193.9 963.2,197.2 963.7,200.6 964.2,204 964.9,207.4 965.5,210.8 966.3,214.1 967.1,217.5 968,220.9 968.9,224.2 969.8,227.6 970.8,231 971.9,234.4 972.9,237.8 974,241.1 975.1,244.5 976.2,247.9 977.2,251.2 978.3,254.6 979.3,258 980.2,261.4 981.1,264.8 981.9,268.1 982.6,271.5 983.2,274.9 983.7,278.2 984.1,281.6 984.4,285 984.5,288.4 984.5,291.8 984.3,295.1 984,298.5 983.6,301.9 983,305.2 982.3,308.6 981.5,312 980.6,315.4 979.6,318.8 978.5,322.1 977.4,325.5 976.3,328.9 975.1,332.2 974,335.6 972.8,339 971.7,342.4 970.6,345.8 969.5,349.1 968.5,352.5 967.6,355.9 966.7,359.2 965.9,362.6 965.1,366" fill="none" stroke="#7a7a7a" stroke-width="2.8" stroke-linecap="round" stroke-dasharray="0 4.7"/>
<path d="M1016.6,138 1017.2,141.8 1017.9,145.6 1018.6,149.4 1019.4,153.2 1020.2,157 1021.1,160.8 1022,164.6 1023,168.4 1024,172.2 1025,176 1026.1,179.8 1027.2,183.6 1028.2,187.4 1029.3,191.2 1030.3,195 1031.4,198.8 1032.3,202.6 1033.2,206.4 1034.1,210.2 1034.9,214 1035.5,217.8 1036.1,221.6 1036.6,225.4 1036.9,229.2 1037.2,233 1037.3,236.8 1037.3,240.6 1037.2,244.4 1036.9,248.2 1036.6,252 1036.1,255.8 1035.6,259.6 1034.9,263.4 1034.2,267.2 1033.4,271 1032.5,274.8 1031.6,278.6 1030.6,282.4 1029.7,286.2 1028.6,290 1027.6,293.8 1026.6,297.6 1025.6,301.4 1024.6,305.2 1023.6,309 1022.6,312.8 1021.7,316.6 1020.8,320.4 1020,324.2 1019.2,328 1018.5,331.8 1017.8,335.6 1017.2,339.4 1016.6,343.2 1016.1,347 1015.6,350.8 1015.2,354.6 1014.8,358.4 1014.4,362.2 1014.1,366" fill="none" stroke="#7a7a7a" stroke-width="2.8" stroke-linecap="round" stroke-dasharray="0 4.7"/>
<path d="M1067.4,138.9 1067.9,142.7 1068.4,146.5 1069,150.3 1069.7,154 1070.4,157.8 1071.3,161.6 1072.2,165.4 1073.1,169.2 1074.1,173 1075.2,176.8 1076.3,180.5 1077.5,184.3 1078.7,188.1 1079.9,191.9 1081.1,195.7 1082.3,199.5 1083.5,203.2 1084.6,207 1085.7,210.8 1086.7,214.6 1087.6,218.4 1088.3,222.2 1089,226 1089.5,229.7 1089.9,233.5 1090.1,237.3 1090.2,241.1 1090.1,244.9 1089.9,248.7 1089.6,252.4 1089.2,256.2 1088.7,260 1088,263.8 1087.3,267.6 1086.5,271.4 1085.6,275.2 1084.7,278.9 1083.7,282.7 1082.6,286.5 1081.6,290.3 1080.5,294.1 1079.4,297.9 1078.3,301.7 1077.3,305.4 1076.3,309.2 1075.3,313 1074.3,316.8 1073.4,320.6 1072.5,324.4 1071.7,328.1 1071,331.9 1070.3,335.7 1069.6,339.5 1069,343.3 1068.5,347.1 1068,350.9 1067.5,354.6 1067.2,358.4 1066.8,362.2 1066.5,366" fill="none" stroke="#7a7a7a" stroke-width="2.8" stroke-linecap="round" stroke-dasharray="0 4.7"/>
<line x1="801" y1="173.8" x2="801" y2="196" stroke="#000" stroke-width="3"/>
<line x1="801" y1="231" x2="801" y2="253.3" stroke="#000" stroke-width="3"/>
<line x1="795" y1="173.8" x2="807" y2="173.8" stroke="#000" stroke-width="3"/>
<line x1="795" y1="253.3" x2="807" y2="253.3" stroke="#000" stroke-width="3"/>
<rect x="789.5" y="196" width="23" height="35" fill="none" stroke="#000" stroke-width="3"/>
<line x1="789.5" y1="213.2" x2="812.5" y2="213.2" stroke="#000" stroke-width="3"/>
<line x1="854" y1="275.4" x2="854" y2="295.8" stroke="#000" stroke-width="3"/>
<line x1="854" y1="328.7" x2="854" y2="349.3" stroke="#000" stroke-width="3"/>
<line x1="848" y1="275.4" x2="860" y2="275.4" stroke="#000" stroke-width="3"/>
<line x1="848" y1="349.3" x2="860" y2="349.3" stroke="#000" stroke-width="3"/>
<rect x="842.5" y="295.8" width="23" height="32.9" fill="none" stroke="#000" stroke-width="3"/>
<line x1="842.5" y1="312.2" x2="865.5" y2="312.2" stroke="#000" stroke-width="3"/>
<line x1="906.8" y1="228.3" x2="906.8" y2="250" stroke="#000" stroke-width="3"/>
<line x1="906.8" y1="282.9" x2="906.8" y2="304.2" stroke="#000" stroke-width="3"/>
<line x1="900.8" y1="228.3" x2="912.8" y2="228.3" stroke="#000" stroke-width="3"/>
<line x1="900.8" y1="304.2" x2="912.8" y2="304.2" stroke="#000" stroke-width="3"/>
<rect x="895.3" y="250" width="23" height="32.9" fill="none" stroke="#000" stroke-width="3"/>
<line x1="895.3" y1="266" x2="918.3" y2="266" stroke="#000" stroke-width="3"/>
<line x1="959.8" y1="248.1" x2="959.8" y2="274.9" stroke="#000" stroke-width="3"/>
<line x1="959.8" y1="315.1" x2="959.8" y2="342.7" stroke="#000" stroke-width="3"/>
<line x1="953.8" y1="248.1" x2="965.8" y2="248.1" stroke="#000" stroke-width="3"/>
<line x1="953.8" y1="342.7" x2="965.8" y2="342.7" stroke="#000" stroke-width="3"/>
<rect x="948.3" y="274.9" width="23" height="40.2" fill="none" stroke="#000" stroke-width="3"/>
<line x1="948.3" y1="294.5" x2="971.3" y2="294.5" stroke="#000" stroke-width="3"/>
<line x1="1012.2" y1="179" x2="1012.2" y2="216.4" stroke="#000" stroke-width="3"/>
<line x1="1012.2" y1="272.6" x2="1012.2" y2="310" stroke="#000" stroke-width="3"/>
<line x1="1006.2" y1="179" x2="1018.2" y2="179" stroke="#000" stroke-width="3"/>
<line x1="1006.2" y1="310" x2="1018.2" y2="310" stroke="#000" stroke-width="3"/>
<rect x="1000.7" y="216.4" width="23" height="56.2" fill="none" stroke="#000" stroke-width="3"/>
<line x1="1000.7" y1="243.5" x2="1023.7" y2="243.5" stroke="#000" stroke-width="3"/>
<line x1="1064.7" y1="188" x2="1064.7" y2="221.5" stroke="#000" stroke-width="3"/>
<line x1="1064.7" y1="273.9" x2="1064.7" y2="307.9" stroke="#000" stroke-width="3"/>
<line x1="1058.7" y1="188" x2="1070.7" y2="188" stroke="#000" stroke-width="3"/>
<line x1="1058.7" y1="307.9" x2="1070.7" y2="307.9" stroke="#000" stroke-width="3"/>
<rect x="1053.2" y="221.5" width="23" height="52.4" fill="none" stroke="#000" stroke-width="3"/>
<line x1="1053.2" y1="248.1" x2="1076.2" y2="248.1" stroke="#000" stroke-width="3"/>
<circle cx="797.9" cy="162" r="3.9" fill="rgba(110,110,110,0.62)"/>
<circle cx="804.5" cy="170" r="3.9" fill="rgba(110,110,110,0.62)"/>
<circle cx="792" cy="183.6" r="3.9" fill="rgba(110,110,110,0.62)"/>
<circle cx="810.7" cy="184.5" r="3.9" fill="rgba(110,110,110,0.62)"/>
<circle cx="801.4" cy="198" r="3.9" fill="rgba(110,110,110,0.62)"/>
<circle cx="794.6" cy="216.5" r="3.9" fill="rgba(110,110,110,0.62)"/>
<circle cx="801.4" cy="223" r="3.9" fill="rgba(110,110,110,0.62)"/>
<circle cx="807.5" cy="227" r="3.9" fill="rgba(110,110,110,0.62)"/>
<circle cx="794.6" cy="233.5" r="3.9" fill="rgba(110,110,110,0.62)"/>
<circle cx="801.3" cy="252.8" r="3.9" fill="rgba(110,110,110,0.62)"/>
<circle cx="807.5" cy="252.8" r="3.9" fill="rgba(110,110,110,0.62)"/>
<circle cx="801.3" cy="263" r="3.9" fill="rgba(110,110,110,0.62)"/>
<circle cx="853.7" cy="250.9" r="3.9" fill="rgba(255,0,0,0.42)"/>
<circle cx="853.7" cy="255.6" r="3.9" fill="rgba(255,0,0,0.42)"/>
<circle cx="863.5" cy="300.8" r="3.9" fill="rgba(255,0,0,0.42)"/>
<circle cx="857.8" cy="301.8" r="3.9" fill="rgba(255,0,0,0.42)"/>
<circle cx="853.7" cy="307.8" r="3.9" fill="rgba(255,0,0,0.42)"/>
<circle cx="843.3" cy="311.2" r="3.9" fill="rgba(255,0,0,0.42)"/>
<circle cx="849.3" cy="316.9" r="3.9" fill="rgba(255,0,0,0.42)"/>
<circle cx="848.4" cy="325.9" r="3.9" fill="rgba(255,0,0,0.42)"/>
<circle cx="858.8" cy="333.8" r="3.9" fill="rgba(255,0,0,0.42)"/>
<circle cx="853.7" cy="340" r="3.9" fill="rgba(255,0,0,0.42)"/>
<circle cx="851.2" cy="348.9" r="3.9" fill="rgba(255,0,0,0.42)"/>
<circle cx="855.9" cy="348.9" r="3.9" fill="rgba(255,0,0,0.42)"/>
<circle cx="900.2" cy="223.6" r="3.9" fill="rgba(60,190,60,0.40)"/>
<circle cx="912.5" cy="221.7" r="3.9" fill="rgba(60,190,60,0.40)"/>
<circle cx="909.6" cy="235.8" r="3.9" fill="rgba(60,190,60,0.40)"/>
<circle cx="903.6" cy="248.1" r="3.9" fill="rgba(60,190,60,0.40)"/>
<circle cx="905.9" cy="268.8" r="3.9" fill="rgba(60,190,60,0.40)"/>
<circle cx="915.7" cy="277.3" r="3.9" fill="rgba(60,190,60,0.40)"/>
<circle cx="897.4" cy="285.8" r="3.9" fill="rgba(60,190,60,0.40)"/>
<circle cx="909.6" cy="293.3" r="3.9" fill="rgba(60,190,60,0.40)"/>
<circle cx="903.6" cy="296.1" r="3.9" fill="rgba(60,190,60,0.40)"/>
<circle cx="903.6" cy="305.6" r="3.9" fill="rgba(60,190,60,0.40)"/>
<circle cx="909.6" cy="309.3" r="3.9" fill="rgba(60,190,60,0.40)"/>
<circle cx="959.2" cy="228.5" r="3.9" fill="rgba(40,120,200,0.45)"/>
<circle cx="959.2" cy="241.4" r="3.9" fill="rgba(40,120,200,0.45)"/>
<circle cx="959.2" cy="255.1" r="3.9" fill="rgba(40,120,200,0.45)"/>
<circle cx="949.7" cy="279" r="3.9" fill="rgba(40,120,200,0.45)"/>
<circle cx="964.4" cy="286.8" r="3.9" fill="rgba(40,120,200,0.45)"/>
<circle cx="969" cy="285.5" r="3.9" fill="rgba(40,120,200,0.45)"/>
<circle cx="953.5" cy="299.4" r="3.9" fill="rgba(40,120,200,0.45)"/>
<circle cx="959.2" cy="299.4" r="3.9" fill="rgba(40,120,200,0.45)"/>
<circle cx="961.3" cy="323.9" r="3.9" fill="rgba(40,120,200,0.45)"/>
<circle cx="956.9" cy="331.9" r="3.9" fill="rgba(40,120,200,0.45)"/>
<circle cx="961.3" cy="351.8" r="3.9" fill="rgba(40,120,200,0.45)"/>
<circle cx="956.9" cy="356.9" r="3.9" fill="rgba(40,120,200,0.45)"/>
<circle cx="1007.7" cy="142.1" r="3.9" fill="rgba(0,0,255,0.45)"/>
<circle cx="1015.9" cy="154.5" r="3.9" fill="rgba(0,0,255,0.45)"/>
<circle cx="1011.5" cy="187.2" r="3.9" fill="rgba(0,0,255,0.45)"/>
<circle cx="1011.5" cy="219" r="3.9" fill="rgba(0,0,255,0.45)"/>
<circle cx="1011.5" cy="240.4" r="3.9" fill="rgba(0,0,255,0.45)"/>
<circle cx="1011.5" cy="267.4" r="3.9" fill="rgba(0,0,255,0.45)"/>
<circle cx="1020" cy="268.7" r="3.9" fill="rgba(0,0,255,0.45)"/>
<circle cx="1003" cy="276.2" r="3.9" fill="rgba(0,0,255,0.45)"/>
<circle cx="1007.7" cy="282.1" r="3.9" fill="rgba(0,0,255,0.45)"/>
<circle cx="1015.9" cy="282.1" r="3.9" fill="rgba(0,0,255,0.45)"/>
<circle cx="1007.7" cy="301.5" r="3.9" fill="rgba(0,0,255,0.45)"/>
<circle cx="1015.9" cy="311.8" r="3.9" fill="rgba(0,0,255,0.45)"/>
<circle cx="1064.4" cy="182.3" r="3.9" fill="rgba(225,120,30,0.50)"/>
<circle cx="1060.5" cy="192.7" r="3.9" fill="rgba(225,120,30,0.50)"/>
<circle cx="1068.3" cy="190.6" r="3.9" fill="rgba(225,120,30,0.50)"/>
<circle cx="1072.7" cy="208.6" r="3.9" fill="rgba(225,120,30,0.50)"/>
<circle cx="1056.2" cy="225.9" r="3.9" fill="rgba(225,120,30,0.50)"/>
<circle cx="1064.4" cy="228" r="3.9" fill="rgba(225,120,30,0.50)"/>
<circle cx="1064.4" cy="243" r="3.9" fill="rgba(225,120,30,0.50)"/>
<circle cx="1064.4" cy="278.3" r="3.9" fill="rgba(225,120,30,0.50)"/>
<circle cx="1072.7" cy="281.6" r="3.9" fill="rgba(225,120,30,0.50)"/>
<circle cx="1056.2" cy="289.4" r="3.9" fill="rgba(225,120,30,0.50)"/>
<circle cx="1064.4" cy="310.5" r="3.9" fill="rgba(225,120,30,0.50)"/>
<circle cx="1064.4" cy="342.2" r="3.9" fill="rgba(225,120,30,0.50)"/>
<text x="804.6" y="381.5" text-anchor="middle">G1</text>
<text x="855.9" y="381.5" text-anchor="middle">G2</text>
<text x="907.8" y="381.5" text-anchor="middle">G3</text>
<text x="960" y="381.5" text-anchor="middle">G4</text>
<text x="1012.8" y="381.5" text-anchor="middle">G5</text>
<text x="1065.3" y="381.5" text-anchor="middle">G6</text>
<text x="1137.5" y="93.5" font-size="42">c</text>
<rect x="1191.6" y="114" width="3" height="255.8" fill="#000"/>
<line x1="1188.1" y1="368.5" x2="1193.1" y2="368.5" stroke="#000" stroke-width="2.2"/>
<line x1="1188.1" y1="283.8" x2="1193.1" y2="283.8" stroke="#000" stroke-width="2.2"/>
<line x1="1188.1" y1="199.1" x2="1193.1" y2="199.1" stroke="#000" stroke-width="2.2"/>
<line x1="1188.1" y1="114.4" x2="1193.1" y2="114.4" stroke="#000" stroke-width="2.2"/>
<line x1="1189.6" y1="326.1" x2="1193.1" y2="326.1" stroke="#000" stroke-width="2"/>
<line x1="1189.6" y1="241.4" x2="1193.1" y2="241.4" stroke="#000" stroke-width="2"/>
<line x1="1189.6" y1="156.8" x2="1193.1" y2="156.8" stroke="#000" stroke-width="2"/>
<text x="1182.2" y="375.7" font-size="20" text-anchor="end">0</text>
<text x="1182.2" y="291" font-size="20" text-anchor="end">1</text>
<text x="1182.2" y="206.3" font-size="20" text-anchor="end">2</text>
<text x="1182.2" y="121.6" font-size="20" text-anchor="end">3</text>
<text transform="translate(1155.3 235.9) rotate(-90)" text-anchor="middle">Average velocity [mm/s]</text>
<line x1="1269.8" y1="120.2" x2="1479.5" y2="120.2" stroke="#000" stroke-width="2"/>
<line x1="1269.8" y1="147.1" x2="1429.5" y2="147.1" stroke="#000" stroke-width="2"/>
<line x1="1269.8" y1="174.3" x2="1375" y2="174.3" stroke="#000" stroke-width="2"/>
<line x1="1269.8" y1="206" x2="1326" y2="206" stroke="#000" stroke-width="2"/>
<text x="1310.5" y="112.4"><tspan font-style="italic">p</tspan> = 0.0069</text>
<text x="1327" y="140.2">0.016</text>
<text x="1298.5" y="167">0.079</text>
<text x="1269.7" y="199.1">0.0086</text>
<path d="M1220.8,150 1221,153.1 1221.3,156.2 1221.6,159.2 1222,162.3 1222.4,165.4 1222.9,168.5 1223.6,171.6 1224.3,174.7 1225.1,177.8 1225.9,180.8 1226.9,183.9 1228,187 1229.2,190.1 1230.5,193.2 1231.8,196.2 1233.2,199.3 1234.6,202.4 1236.1,205.5 1237.5,208.6 1238.9,211.7 1240.3,214.8 1241.5,217.8 1242.7,220.9 1243.7,224 1244.6,227.1 1245.2,230.2 1245.7,233.2 1246,236.3 1246,239.4 1245.8,242.5 1245.5,245.6 1245,248.7 1244.3,251.8 1243.5,254.8 1242.6,257.9 1241.5,261 1240.3,264.1 1239.1,267.2 1237.8,270.2 1236.5,273.3 1235.2,276.4 1233.8,279.5 1232.6,282.6 1231.3,285.7 1230.1,288.8 1229,291.8 1227.9,294.9 1226.9,298 1226,301.1 1225.2,304.2 1224.4,307.2 1223.8,310.3 1223.2,313.4 1222.7,316.5 1222.2,319.6 1221.8,322.7 1221.5,325.8 1221.2,328.8 1221,331.9 1220.8,335" fill="none" stroke="#7a7a7a" stroke-width="2.8" stroke-linecap="round" stroke-dasharray="0 4.7"/>
<path d="M1273.8,227 1273.9,228.8 1274.1,230.6 1274.3,232.4 1274.5,234.2 1274.7,236 1275,237.8 1275.3,239.6 1275.7,241.4 1276.1,243.2 1276.5,245 1277.1,246.8 1277.6,248.6 1278.3,250.4 1279,252.2 1279.7,254 1280.5,255.8 1281.4,257.6 1282.3,259.4 1283.3,261.2 1284.3,263 1285.4,264.8 1286.5,266.6 1287.6,268.4 1288.8,270.2 1289.9,272 1291,273.8 1292.2,275.6 1293.2,277.4 1294.3,279.2 1295.2,281 1296.1,282.8 1296.9,284.6 1297.6,286.4 1298.2,288.2 1298.7,290 1299.1,291.8 1299.3,293.6 1299.4,295.4 1299.3,297.2 1299.1,299 1298.8,300.8 1298.3,302.6 1297.7,304.4 1296.9,306.2 1296.1,308 1295.1,309.8 1294.1,311.6 1292.9,313.4 1291.8,315.2 1290.6,317 1289.4,318.8 1288.2,320.6 1287,322.4 1285.8,324.2 1284.6,326 1283.5,327.8 1282.5,329.6 1281.5,331.4 1280.6,333.2 1279.7,335" fill="none" stroke="#7a7a7a" stroke-width="2.8" stroke-linecap="round" stroke-dasharray="0 4.7"/>
<path d="M1326.1,197.5 1326.3,199.8 1326.5,202.1 1326.7,204.4 1327,206.7 1327.3,209 1327.7,211.2 1328.2,213.5 1328.7,215.8 1329.3,218.1 1330,220.4 1330.8,222.7 1331.7,225 1332.7,227.3 1333.7,229.6 1334.8,231.9 1336.1,234.2 1337.3,236.5 1338.7,238.8 1340,241 1341.4,243.3 1342.8,245.6 1344.2,247.9 1345.5,250.2 1346.7,252.5 1347.9,254.8 1348.9,257.1 1349.8,259.4 1350.6,261.7 1351.1,264 1351.5,266.2 1351.7,268.5 1351.7,270.8 1351.5,273.1 1351.1,275.4 1350.5,277.7 1349.8,280 1348.9,282.3 1347.9,284.6 1346.8,286.9 1345.6,289.2 1344.4,291.5 1343,293.8 1341.7,296 1340.4,298.3 1339,300.6 1337.7,302.9 1336.5,305.2 1335.3,307.5 1334.1,309.8 1333.1,312.1 1332.1,314.4 1331.2,316.7 1330.4,319 1329.7,321.2 1329.1,323.5 1328.5,325.8 1328,328.1 1327.6,330.4 1327.2,332.7 1326.9,335" fill="none" stroke="#7a7a7a" stroke-width="2.8" stroke-linecap="round" stroke-dasharray="0 4.7"/>
<path d="M1379.3,176.2 1379.4,178.8 1379.6,181.5 1379.8,184.1 1380,186.8 1380.2,189.4 1380.5,192.1 1380.8,194.7 1381.2,197.4 1381.6,200 1382.1,202.7 1382.6,205.3 1383.2,208 1383.8,210.6 1384.5,213.3 1385.2,215.9 1386,218.5 1386.9,221.2 1387.8,223.8 1388.8,226.5 1389.8,229.1 1390.9,231.8 1392,234.4 1393.1,237.1 1394.2,239.7 1395.3,242.4 1396.4,245 1397.5,247.7 1398.5,250.3 1399.5,253 1400.4,255.6 1401.3,258.2 1402,260.9 1402.7,263.5 1403.2,266.2 1403.6,268.8 1403.9,271.5 1404.1,274.1 1404.1,276.8 1403.9,279.4 1403.5,282.1 1403,284.7 1402.2,287.4 1401.3,290 1400.2,292.7 1399,295.3 1397.8,297.9 1396.4,300.6 1395,303.2 1393.6,305.9 1392.2,308.5 1390.9,311.2 1389.5,313.8 1388.3,316.5 1387.1,319.1 1386,321.8 1385,324.4 1384.1,327.1 1383.3,329.7 1382.5,332.4 1381.9,335" fill="none" stroke="#7a7a7a" stroke-width="2.8" stroke-linecap="round" stroke-dasharray="0 4.7"/>
<path d="M1431.9,150 1432.1,153.1 1432.3,156.2 1432.5,159.2 1432.8,162.3 1433.1,165.4 1433.5,168.5 1434,171.6 1434.6,174.7 1435.2,177.8 1435.9,180.8 1436.7,183.9 1437.6,187 1438.6,190.1 1439.6,193.2 1440.8,196.2 1441.9,199.3 1443.2,202.4 1444.5,205.5 1445.8,208.6 1447.1,211.7 1448.4,214.8 1449.7,217.8 1450.9,220.9 1452,224 1452.9,227.1 1453.8,230.2 1454.5,233.2 1455,236.3 1455.3,239.4 1455.5,242.5 1455.5,245.6 1455.3,248.7 1455.1,251.8 1454.8,254.8 1454.4,257.9 1453.8,261 1453.2,264.1 1452.6,267.2 1451.8,270.2 1451,273.3 1450.2,276.4 1449.3,279.5 1448.4,282.6 1447.4,285.7 1446.5,288.8 1445.5,291.8 1444.5,294.9 1443.6,298 1442.7,301.1 1441.8,304.2 1440.9,307.2 1440,310.3 1439.2,313.4 1438.5,316.5 1437.8,319.6 1437.1,322.7 1436.5,325.8 1435.9,328.8 1435.4,331.9 1434.9,335" fill="none" stroke="#7a7a7a" stroke-width="2.8" stroke-linecap="round" stroke-dasharray="0 4.7"/>
<path d="M1484.6,191 1484.8,193.4 1485,195.8 1485.2,198.2 1485.5,200.6 1485.9,203 1486.3,205.4 1486.8,207.8 1487.4,210.2 1488.1,212.6 1488.8,215 1489.7,217.4 1490.6,219.8 1491.6,222.2 1492.8,224.6 1494,227 1495.3,229.4 1496.6,231.8 1498,234.2 1499.4,236.6 1500.8,239 1502.2,241.4 1503.5,243.8 1504.8,246.2 1505.9,248.6 1507,251 1507.9,253.4 1508.6,255.8 1509.1,258.2 1509.4,260.6 1509.5,263 1509.4,265.4 1509.1,267.8 1508.6,270.2 1507.9,272.6 1507,275 1505.9,277.4 1504.8,279.8 1503.5,282.2 1502.2,284.6 1500.8,287 1499.4,289.4 1498,291.8 1496.6,294.2 1495.3,296.6 1494,299 1492.8,301.4 1491.6,303.8 1490.6,306.2 1489.7,308.6 1488.8,311 1488.1,313.4 1487.4,315.8 1486.8,318.2 1486.3,320.6 1485.9,323 1485.5,325.4 1485.2,327.8 1485,330.2 1484.8,332.6 1484.6,335" fill="none" stroke="#7a7a7a" stroke-width="2.8" stroke-linecap="round" stroke-dasharray="0 4.7"/>
<line x1="1220" y1="205.5" x2="1220" y2="223.3" stroke="#000" stroke-width="3"/>
<line x1="1220" y1="259.4" x2="1220" y2="276.9" stroke="#000" stroke-width="3"/>
<line x1="1214" y1="205.5" x2="1226" y2="205.5" stroke="#000" stroke-width="3"/>
<line x1="1214" y1="276.9" x2="1226" y2="276.9" stroke="#000" stroke-width="3"/>
<rect x="1208.5" y="223.3" width="23" height="36.1" fill="none" stroke="#000" stroke-width="3"/>
<line x1="1208.5" y1="241" x2="1231.5" y2="241" stroke="#000" stroke-width="3"/>
<line x1="1273.2" y1="275.3" x2="1273.2" y2="285.8" stroke="#000" stroke-width="3"/>
<line x1="1273.2" y1="309" x2="1273.2" y2="319.3" stroke="#000" stroke-width="3"/>
<line x1="1267.2" y1="275.3" x2="1279.2" y2="275.3" stroke="#000" stroke-width="3"/>
<line x1="1267.2" y1="319.3" x2="1279.2" y2="319.3" stroke="#000" stroke-width="3"/>
<rect x="1261.7" y="285.8" width="23" height="23.2" fill="none" stroke="#000" stroke-width="3"/>
<line x1="1261.7" y1="296.7" x2="1284.7" y2="296.7" stroke="#000" stroke-width="3"/>
<line x1="1325.5" y1="249.9" x2="1325.5" y2="260.8" stroke="#000" stroke-width="3"/>
<line x1="1325.5" y1="284.8" x2="1325.5" y2="295.1" stroke="#000" stroke-width="3"/>
<line x1="1319.5" y1="249.9" x2="1331.5" y2="249.9" stroke="#000" stroke-width="3"/>
<line x1="1319.5" y1="295.1" x2="1331.5" y2="295.1" stroke="#000" stroke-width="3"/>
<rect x="1314" y="260.8" width="23" height="24" fill="none" stroke="#000" stroke-width="3"/>
<line x1="1314" y1="272.3" x2="1337" y2="272.3" stroke="#000" stroke-width="3"/>
<line x1="1378.7" y1="246.5" x2="1378.7" y2="260.8" stroke="#000" stroke-width="3"/>
<line x1="1378.7" y1="291.5" x2="1378.7" y2="306.4" stroke="#000" stroke-width="3"/>
<line x1="1372.7" y1="246.5" x2="1384.7" y2="246.5" stroke="#000" stroke-width="3"/>
<line x1="1372.7" y1="306.4" x2="1384.7" y2="306.4" stroke="#000" stroke-width="3"/>
<rect x="1367.2" y="260.8" width="23" height="30.7" fill="none" stroke="#000" stroke-width="3"/>
<line x1="1367.2" y1="275.9" x2="1390.2" y2="275.9" stroke="#000" stroke-width="3"/>
<line x1="1431.3" y1="217.8" x2="1431.3" y2="237.6" stroke="#000" stroke-width="3"/>
<line x1="1431.3" y1="277.3" x2="1431.3" y2="297.5" stroke="#000" stroke-width="3"/>
<line x1="1425.3" y1="217.8" x2="1437.3" y2="217.8" stroke="#000" stroke-width="3"/>
<line x1="1425.3" y1="297.5" x2="1437.3" y2="297.5" stroke="#000" stroke-width="3"/>
<rect x="1419.8" y="237.6" width="23" height="39.7" fill="none" stroke="#000" stroke-width="3"/>
<line x1="1419.8" y1="257.4" x2="1442.8" y2="257.4" stroke="#000" stroke-width="3"/>
<line x1="1484" y1="243.5" x2="1484" y2="255.5" stroke="#000" stroke-width="3"/>
<line x1="1484" y1="281.2" x2="1484" y2="293.5" stroke="#000" stroke-width="3"/>
<line x1="1478" y1="243.5" x2="1490" y2="243.5" stroke="#000" stroke-width="3"/>
<line x1="1478" y1="293.5" x2="1490" y2="293.5" stroke="#000" stroke-width="3"/>
<rect x="1472.5" y="255.5" width="23" height="25.7" fill="none" stroke="#000" stroke-width="3"/>
<line x1="1472.5" y1="268.9" x2="1495.5" y2="268.9" stroke="#000" stroke-width="3"/>
<circle cx="1219.8" cy="168" r="3.9" fill="rgba(110,110,110,0.62)"/>
<circle cx="1219.8" cy="193.6" r="3.9" fill="rgba(110,110,110,0.62)"/>
<circle cx="1215.4" cy="226.7" r="3.9" fill="rgba(110,110,110,0.62)"/>
<circle cx="1223.8" cy="227.7" r="3.9" fill="rgba(110,110,110,0.62)"/>
<circle cx="1223.8" cy="238.6" r="3.9" fill="rgba(110,110,110,0.62)"/>
<circle cx="1210.5" cy="243.5" r="3.9" fill="rgba(110,110,110,0.62)"/>
<circle cx="1217.4" cy="245.9" r="3.9" fill="rgba(110,110,110,0.62)"/>
<circle cx="1228.9" cy="247.5" r="3.9" fill="rgba(110,110,110,0.62)"/>
<circle cx="1217.4" cy="255" r="3.9" fill="rgba(110,110,110,0.62)"/>
<circle cx="1219.8" cy="288.2" r="3.9" fill="rgba(110,110,110,0.62)"/>
<circle cx="1219.8" cy="293.1" r="3.9" fill="rgba(110,110,110,0.62)"/>
<circle cx="1273" cy="249.5" r="3.9" fill="rgba(255,0,0,0.42)"/>
<circle cx="1264" cy="281.2" r="3.9" fill="rgba(255,0,0,0.42)"/>
<circle cx="1273" cy="281.2" r="3.9" fill="rgba(255,0,0,0.42)"/>
<circle cx="1280.9" cy="280.8" r="3.9" fill="rgba(255,0,0,0.42)"/>
<circle cx="1264.6" cy="291.2" r="3.9" fill="rgba(255,0,0,0.42)"/>
<circle cx="1280.9" cy="293.1" r="3.9" fill="rgba(255,0,0,0.42)"/>
<circle cx="1268" cy="304" r="3.9" fill="rgba(255,0,0,0.42)"/>
<circle cx="1277" cy="304.6" r="3.9" fill="rgba(255,0,0,0.42)"/>
<circle cx="1273" cy="309" r="3.9" fill="rgba(255,0,0,0.42)"/>
<circle cx="1273" cy="324.9" r="3.9" fill="rgba(255,0,0,0.42)"/>
<circle cx="1273" cy="326.8" r="3.9" fill="rgba(255,0,0,0.42)"/>
<circle cx="1325.5" cy="242.6" r="3.9" fill="rgba(60,190,60,0.40)"/>
<circle cx="1325.5" cy="249.5" r="3.9" fill="rgba(60,190,60,0.40)"/>
<circle cx="1332.5" cy="266.4" r="3.9" fill="rgba(60,190,60,0.40)"/>
<circle cx="1327.5" cy="273.3" r="3.9" fill="rgba(60,190,60,0.40)"/>
<circle cx="1318.6" cy="277.3" r="3.9" fill="rgba(60,190,60,0.40)"/>
<circle cx="1324.5" cy="279.3" r="3.9" fill="rgba(60,190,60,0.40)"/>
<circle cx="1325.5" cy="292.1" r="3.9" fill="rgba(60,190,60,0.40)"/>
<circle cx="1325.5" cy="307" r="3.9" fill="rgba(60,190,60,0.40)"/>
<circle cx="1325.5" cy="311" r="3.9" fill="rgba(60,190,60,0.40)"/>
<circle cx="1378.2" cy="228.7" r="3.9" fill="rgba(40,120,200,0.45)"/>
<circle cx="1375.6" cy="255.8" r="3.9" fill="rgba(40,120,200,0.45)"/>
<circle cx="1381.6" cy="264.4" r="3.9" fill="rgba(40,120,200,0.45)"/>
<circle cx="1368.7" cy="270.3" r="3.9" fill="rgba(40,120,200,0.45)"/>
<circle cx="1382" cy="271.3" r="3.9" fill="rgba(40,120,200,0.45)"/>
<circle cx="1375.2" cy="277.3" r="3.9" fill="rgba(40,120,200,0.45)"/>
<circle cx="1387.5" cy="277.3" r="3.9" fill="rgba(40,120,200,0.45)"/>
<circle cx="1378.2" cy="293.1" r="3.9" fill="rgba(40,120,200,0.45)"/>
<circle cx="1378.2" cy="301.1" r="3.9" fill="rgba(40,120,200,0.45)"/>
<circle cx="1378.2" cy="318.5" r="3.9" fill="rgba(40,120,200,0.45)"/>
<circle cx="1378.2" cy="323.9" r="3.9" fill="rgba(40,120,200,0.45)"/>
<circle cx="1431.2" cy="196" r="3.9" fill="rgba(0,0,255,0.45)"/>
<circle cx="1431.2" cy="199.9" r="3.9" fill="rgba(0,0,255,0.45)"/>
<circle cx="1431.2" cy="248.5" r="3.9" fill="rgba(0,0,255,0.45)"/>
<circle cx="1427.2" cy="253.5" r="3.9" fill="rgba(0,0,255,0.45)"/>
<circle cx="1434.1" cy="261.8" r="3.9" fill="rgba(0,0,255,0.45)"/>
<circle cx="1431.2" cy="270.3" r="3.9" fill="rgba(0,0,255,0.45)"/>
<circle cx="1427.2" cy="284.8" r="3.9" fill="rgba(0,0,255,0.45)"/>
<circle cx="1440.7" cy="284.2" r="3.9" fill="rgba(0,0,255,0.45)"/>
<circle cx="1434.1" cy="291.2" r="3.9" fill="rgba(0,0,255,0.45)"/>
<circle cx="1431.2" cy="302.7" r="3.9" fill="rgba(0,0,255,0.45)"/>
<circle cx="1483.7" cy="224.1" r="3.9" fill="rgba(225,120,30,0.50)"/>
<circle cx="1483.7" cy="247.5" r="3.9" fill="rgba(225,120,30,0.50)"/>
<circle cx="1494.2" cy="251.5" r="3.9" fill="rgba(225,120,30,0.50)"/>
<circle cx="1475.8" cy="255.1" r="3.9" fill="rgba(225,120,30,0.50)"/>
<circle cx="1483.7" cy="261.8" r="3.9" fill="rgba(225,120,30,0.50)"/>
<circle cx="1488.7" cy="263" r="3.9" fill="rgba(225,120,30,0.50)"/>
<circle cx="1483.7" cy="275.3" r="3.9" fill="rgba(225,120,30,0.50)"/>
<circle cx="1486.7" cy="290.2" r="3.9" fill="rgba(225,120,30,0.50)"/>
<circle cx="1483.7" cy="300.1" r="3.9" fill="rgba(225,120,30,0.50)"/>
<circle cx="1483.7" cy="315.9" r="3.9" fill="rgba(225,120,30,0.50)"/>
<text x="1219.9" y="381" text-anchor="middle">G1</text>
<text x="1274" y="381" text-anchor="middle">G2</text>
<text x="1324.8" y="381" text-anchor="middle">G3</text>
<text x="1375.9" y="381" text-anchor="middle">G4</text>
<text x="1428.9" y="381" text-anchor="middle">G5</text>
<text x="1482.8" y="381" text-anchor="middle">G6</text>
<text x="26.5" y="435.7" font-size="42">d</text>
<rect x="87.9" y="437.9" width="3" height="256.7" fill="#000"/>
<line x1="84.4" y1="693.1" x2="89.4" y2="693.1" stroke="#000" stroke-width="2.2"/>
<line x1="84.4" y1="629.5" x2="89.4" y2="629.5" stroke="#000" stroke-width="2.2"/>
<line x1="84.4" y1="565.9" x2="89.4" y2="565.9" stroke="#000" stroke-width="2.2"/>
<line x1="84.4" y1="502.3" x2="89.4" y2="502.3" stroke="#000" stroke-width="2.2"/>
<line x1="84.4" y1="438.7" x2="89.4" y2="438.7" stroke="#000" stroke-width="2.2"/>
<line x1="85.9" y1="661.3" x2="89.4" y2="661.3" stroke="#000" stroke-width="2"/>
<line x1="85.9" y1="597.7" x2="89.4" y2="597.7" stroke="#000" stroke-width="2"/>
<line x1="85.9" y1="534.1" x2="89.4" y2="534.1" stroke="#000" stroke-width="2"/>
<line x1="85.9" y1="470.5" x2="89.4" y2="470.5" stroke="#000" stroke-width="2"/>
<text x="76" y="700.3" font-size="20" text-anchor="end">0</text>
<text x="76" y="636.7" font-size="20" text-anchor="end">1</text>
<text x="76" y="573.1" font-size="20" text-anchor="end">2</text>
<text x="76" y="509.5" font-size="20" text-anchor="end">3</text>
<text x="76" y="445.9" font-size="20" text-anchor="end">4</text>
<text transform="translate(48 565.2) rotate(-90)" text-anchor="middle">Rest time &#215;10<tspan font-size="13" dy="-8">3</tspan><tspan dy="8"> [s]</tspan></text>
<line x1="168" y1="442.5" x2="373" y2="442.5" stroke="#000" stroke-width="2"/>
<line x1="168" y1="474.5" x2="328" y2="474.5" stroke="#000" stroke-width="2"/>
<line x1="168" y1="507" x2="270.5" y2="507" stroke="#000" stroke-width="2"/>
<line x1="165.7" y1="539.7" x2="222" y2="539.7" stroke="#000" stroke-width="2"/>
<text x="209" y="431.7"><tspan font-style="italic">p</tspan> = 0.032</text>
<text x="218.8" y="467">0.022</text>
<text x="200.8" y="499.7">0.95</text>
<text x="169.7" y="534.1">0.055</text>
<path d="M116.4,530.8 116.5,533.4 116.7,536 116.8,538.6 117,541.2 117.2,543.8 117.5,546.3 117.8,548.9 118.1,551.5 118.4,554.1 118.8,556.7 119.3,559.3 119.8,561.9 120.3,564.5 120.9,567.1 121.6,569.7 122.3,572.3 123,574.9 123.8,577.4 124.6,580 125.5,582.6 126.5,585.2 127.4,587.8 128.4,590.4 129.4,593 130.5,595.6 131.5,598.2 132.5,600.8 133.6,603.4 134.6,606 135.5,608.5 136.4,611.1 137.3,613.7 138.1,616.3 138.8,618.9 139.4,621.5 140,624.1 140.4,626.7 140.8,629.3 141,631.9 141.1,634.5 141.1,637.1 140.9,639.6 140.5,642.2 139.9,644.8 139.1,647.4 138.2,650 137.2,652.6 136,655.2 134.8,657.8 133.5,660.4 132.2,663 130.8,665.6 129.5,668.2 128.2,670.8 126.9,673.3 125.7,675.9 124.5,678.5 123.4,681.1 122.4,683.7 121.5,686.3" fill="none" stroke="#7a7a7a" stroke-width="2.8" stroke-linecap="round" stroke-dasharray="0 4.7"/>
<path d="M168.9,506.3 169.1,509.3 169.3,512.3 169.6,515.3 169.9,518.3 170.3,521.3 170.8,524.3 171.3,527.3 172,530.3 172.7,533.3 173.6,536.3 174.5,539.3 175.6,542.3 176.7,545.3 178,548.3 179.3,551.3 180.7,554.3 182.1,557.3 183.6,560.3 185.1,563.3 186.5,566.3 187.9,569.3 189.2,572.3 190.3,575.3 191.4,578.3 192.2,581.3 192.9,584.3 193.3,587.3 193.5,590.3 193.5,593.3 193.3,596.3 192.9,599.3 192.3,602.3 191.6,605.3 190.7,608.3 189.7,611.3 188.6,614.3 187.4,617.3 186.1,620.3 184.8,623.3 183.5,626.3 182.2,629.3 180.9,632.3 179.6,635.3 178.4,638.3 177.3,641.3 176.2,644.3 175.2,647.3 174.3,650.3 173.4,653.3 172.7,656.3 172,659.3 171.4,662.3 170.9,665.3 170.5,668.3 170.1,671.3 169.8,674.3 169.5,677.3 169.2,680.3 169.1,683.3 168.9,686.3" fill="none" stroke="#7a7a7a" stroke-width="2.8" stroke-linecap="round" stroke-dasharray="0 4.7"/>
<path d="M222,540.7 222.2,543.2 222.4,545.7 222.6,548.2 222.9,550.7 223.2,553.2 223.6,555.8 224.1,558.3 224.7,560.8 225.3,563.3 226,565.8 226.8,568.3 227.7,570.8 228.7,573.3 229.7,575.8 230.9,578.3 232.1,580.8 233.4,583.3 234.7,585.9 236,588.4 237.4,590.9 238.7,593.4 240,595.9 241.3,598.4 242.4,600.9 243.5,603.4 244.4,605.9 245.2,608.4 245.8,610.9 246.2,613.4 246.5,616 246.5,618.5 246.3,621 245.9,623.5 245.3,626 244.5,628.5 243.6,631 242.5,633.5 241.3,636 240,638.5 238.6,641 237.2,643.5 235.8,646.1 234.4,648.6 233,651.1 231.7,653.6 230.4,656.1 229.3,658.6 228.2,661.1 227.2,663.6 226.4,666.1 225.6,668.6 224.9,671.1 224.3,673.6 223.8,676.2 223.3,678.7 222.9,681.2 222.6,683.7 222.4,686.2 222.2,688.7 222,691.2" fill="none" stroke="#7a7a7a" stroke-width="2.8" stroke-linecap="round" stroke-dasharray="0 4.7"/>
<path d="M279.6,506.3 280.2,509.4 280.9,512.5 281.7,515.5 282.5,518.6 283.3,521.7 284.1,524.8 285,527.9 286,531 286.9,534 287.9,537.1 288.9,540.2 289.9,543.3 290.9,546.4 291.8,549.4 292.8,552.5 293.8,555.6 294.7,558.7 295.5,561.8 296.3,564.9 297.1,567.9 297.7,571 298.3,574.1 298.8,577.2 299.2,580.3 299.5,583.3 299.8,586.4 299.9,589.5 299.9,592.6 299.8,595.7 299.6,598.8 299.3,601.8 298.9,604.9 298.4,608 297.8,611.1 297.2,614.2 296.4,617.2 295.6,620.3 294.8,623.4 293.8,626.5 292.9,629.6 291.9,632.6 290.9,635.7 289.9,638.8 288.9,641.9 287.9,645 286.9,648.1 286,651.1 285,654.2 284.1,657.3 283.2,660.4 282.4,663.5 281.6,666.5 280.9,669.6 280.2,672.7 279.5,675.8 278.9,678.9 278.4,682 277.9,685 277.4,688.1 277,691.2" fill="none" stroke="#7a7a7a" stroke-width="2.8" stroke-linecap="round" stroke-dasharray="0 4.7"/>
<path d="M327.2,555.4 327.4,557.7 327.6,559.9 327.9,562.2 328.2,564.5 328.6,566.7 329,569 329.6,571.2 330.2,573.5 330.9,575.8 331.7,578 332.7,580.3 333.7,582.6 334.8,584.8 336,587.1 337.3,589.4 338.7,591.6 340.1,593.9 341.6,596.1 343,598.4 344.5,600.7 345.9,602.9 347.2,605.2 348.5,607.5 349.5,609.7 350.5,612 351.2,614.2 351.8,616.5 352.1,618.8 352.2,621 352.1,623.3 351.8,625.6 351.3,627.8 350.6,630.1 349.8,632.4 348.8,634.6 347.7,636.9 346.5,639.1 345.2,641.4 343.9,643.7 342.5,645.9 341.1,648.2 339.8,650.5 338.5,652.7 337.2,655 336,657.2 334.9,659.5 333.8,661.8 332.8,664 331.9,666.3 331.2,668.6 330.5,670.8 329.8,673.1 329.3,675.4 328.8,677.6 328.4,679.9 328.1,682.1 327.8,684.4 327.6,686.7 327.4,688.9 327.2,691.2" fill="none" stroke="#7a7a7a" stroke-width="2.8" stroke-linecap="round" stroke-dasharray="0 4.7"/>
<path d="M380,506.3 380.1,509.4 380.3,512.5 380.5,515.5 380.7,518.6 381,521.7 381.3,524.8 381.6,527.9 382,531 382.4,534 382.9,537.1 383.4,540.2 384.1,543.3 384.7,546.4 385.4,549.4 386.2,552.5 387.1,555.6 388,558.7 388.9,561.8 389.9,564.9 391,567.9 392.1,571 393.2,574.1 394.3,577.2 395.4,580.3 396.4,583.3 397.5,586.4 398.5,589.5 399.5,592.6 400.4,595.7 401.2,598.8 401.9,601.8 402.5,604.9 402.9,608 403.3,611.1 403.5,614.2 403.6,617.2 403.6,620.3 403.4,623.4 403.2,626.5 403,629.6 402.6,632.6 402.2,635.7 401.6,638.8 401.1,641.9 400.4,645 399.8,648.1 399,651.1 398.2,654.2 397.4,657.3 396.6,660.4 395.7,663.5 394.9,666.5 394,669.6 393.1,672.7 392.3,675.8 391.4,678.9 390.6,682 389.8,685 389,688.1 388.2,691.2" fill="none" stroke="#7a7a7a" stroke-width="2.8" stroke-linecap="round" stroke-dasharray="0 4.7"/>
<line x1="115.8" y1="602" x2="115.8" y2="618" stroke="#000" stroke-width="3"/>
<line x1="115.8" y1="650.4" x2="115.8" y2="666.4" stroke="#000" stroke-width="3"/>
<line x1="109.8" y1="602" x2="121.8" y2="602" stroke="#000" stroke-width="3"/>
<line x1="109.8" y1="666.4" x2="121.8" y2="666.4" stroke="#000" stroke-width="3"/>
<rect x="104.3" y="618" width="23" height="32.4" fill="none" stroke="#000" stroke-width="3"/>
<line x1="104.3" y1="633.9" x2="127.3" y2="633.9" stroke="#000" stroke-width="3"/>
<line x1="168.3" y1="568.1" x2="168.3" y2="581.7" stroke="#000" stroke-width="3"/>
<line x1="168.3" y1="609.7" x2="168.3" y2="623.5" stroke="#000" stroke-width="3"/>
<line x1="162.3" y1="568.1" x2="174.3" y2="568.1" stroke="#000" stroke-width="3"/>
<line x1="162.3" y1="623.5" x2="174.3" y2="623.5" stroke="#000" stroke-width="3"/>
<rect x="156.8" y="581.7" width="23" height="28" fill="none" stroke="#000" stroke-width="3"/>
<line x1="156.8" y1="595.2" x2="179.8" y2="595.2" stroke="#000" stroke-width="3"/>
<line x1="221.4" y1="588" x2="221.4" y2="603" stroke="#000" stroke-width="3"/>
<line x1="221.4" y1="633.1" x2="221.4" y2="647" stroke="#000" stroke-width="3"/>
<line x1="215.4" y1="588" x2="227.4" y2="588" stroke="#000" stroke-width="3"/>
<line x1="215.4" y1="647" x2="227.4" y2="647" stroke="#000" stroke-width="3"/>
<rect x="209.9" y="603" width="23" height="30.1" fill="none" stroke="#000" stroke-width="3"/>
<line x1="209.9" y1="617.5" x2="232.9" y2="617.5" stroke="#000" stroke-width="3"/>
<line x1="274" y1="544.1" x2="274" y2="569.7" stroke="#000" stroke-width="3"/>
<line x1="274" y1="619.8" x2="274" y2="645.5" stroke="#000" stroke-width="3"/>
<line x1="268" y1="544.1" x2="280" y2="544.1" stroke="#000" stroke-width="3"/>
<line x1="268" y1="645.5" x2="280" y2="645.5" stroke="#000" stroke-width="3"/>
<rect x="262.5" y="569.7" width="23" height="50.1" fill="none" stroke="#000" stroke-width="3"/>
<line x1="262.5" y1="594.9" x2="285.5" y2="594.9" stroke="#000" stroke-width="3"/>
<line x1="326.6" y1="602.6" x2="326.6" y2="612.8" stroke="#000" stroke-width="3"/>
<line x1="326.6" y1="634.5" x2="326.6" y2="645" stroke="#000" stroke-width="3"/>
<line x1="320.6" y1="602.6" x2="332.6" y2="602.6" stroke="#000" stroke-width="3"/>
<line x1="320.6" y1="645" x2="332.6" y2="645" stroke="#000" stroke-width="3"/>
<rect x="315.1" y="612.8" width="23" height="21.7" fill="none" stroke="#000" stroke-width="3"/>
<line x1="315.1" y1="623.6" x2="338.1" y2="623.6" stroke="#000" stroke-width="3"/>
<line x1="379.4" y1="589.5" x2="379.4" y2="610.5" stroke="#000" stroke-width="3"/>
<line x1="379.4" y1="651.5" x2="379.4" y2="673" stroke="#000" stroke-width="3"/>
<line x1="373.4" y1="589.5" x2="385.4" y2="589.5" stroke="#000" stroke-width="3"/>
<line x1="373.4" y1="673" x2="385.4" y2="673" stroke="#000" stroke-width="3"/>
<rect x="367.9" y="610.5" width="23" height="41" fill="none" stroke="#000" stroke-width="3"/>
<line x1="367.9" y1="630.6" x2="390.9" y2="630.6" stroke="#000" stroke-width="3"/>
<circle cx="115.8" cy="585" r="3.9" fill="rgba(110,110,110,0.62)"/>
<circle cx="115.8" cy="594" r="3.9" fill="rgba(110,110,110,0.62)"/>
<circle cx="110" cy="606" r="3.9" fill="rgba(110,110,110,0.62)"/>
<circle cx="120.5" cy="614" r="3.9" fill="rgba(110,110,110,0.62)"/>
<circle cx="115.8" cy="624" r="3.9" fill="rgba(110,110,110,0.62)"/>
<circle cx="108" cy="636" r="3.9" fill="rgba(110,110,110,0.62)"/>
<circle cx="115.8" cy="637" r="3.9" fill="rgba(110,110,110,0.62)"/>
<circle cx="123.5" cy="642" r="3.9" fill="rgba(110,110,110,0.62)"/>
<circle cx="115.8" cy="663" r="3.9" fill="rgba(110,110,110,0.62)"/>
<circle cx="115.8" cy="670" r="3.9" fill="rgba(110,110,110,0.62)"/>
<circle cx="115.8" cy="681.5" r="3.9" fill="rgba(110,110,110,0.62)"/>
<circle cx="168.3" cy="555.5" r="3.9" fill="rgba(255,0,0,0.42)"/>
<circle cx="158" cy="582" r="3.9" fill="rgba(255,0,0,0.42)"/>
<circle cx="163" cy="584" r="3.9" fill="rgba(255,0,0,0.42)"/>
<circle cx="172" cy="584.5" r="3.9" fill="rgba(255,0,0,0.42)"/>
<circle cx="176.5" cy="582.5" r="3.9" fill="rgba(255,0,0,0.42)"/>
<circle cx="166" cy="589" r="3.9" fill="rgba(255,0,0,0.42)"/>
<circle cx="173" cy="590" r="3.9" fill="rgba(255,0,0,0.42)"/>
<circle cx="171.5" cy="603" r="3.9" fill="rgba(255,0,0,0.42)"/>
<circle cx="165" cy="611" r="3.9" fill="rgba(255,0,0,0.42)"/>
<circle cx="168.3" cy="635" r="3.9" fill="rgba(255,0,0,0.42)"/>
<circle cx="168.3" cy="644" r="3.9" fill="rgba(255,0,0,0.42)"/>
<circle cx="221.4" cy="560.5" r="3.9" fill="rgba(60,190,60,0.40)"/>
<circle cx="221.4" cy="571.5" r="3.9" fill="rgba(60,190,60,0.40)"/>
<circle cx="221.4" cy="585" r="3.9" fill="rgba(60,190,60,0.40)"/>
<circle cx="221.4" cy="607" r="3.9" fill="rgba(60,190,60,0.40)"/>
<circle cx="214" cy="622" r="3.9" fill="rgba(60,190,60,0.40)"/>
<circle cx="224" cy="624" r="3.9" fill="rgba(60,190,60,0.40)"/>
<circle cx="213" cy="631.5" r="3.9" fill="rgba(60,190,60,0.40)"/>
<circle cx="228" cy="630" r="3.9" fill="rgba(60,190,60,0.40)"/>
<circle cx="221.4" cy="637" r="3.9" fill="rgba(60,190,60,0.40)"/>
<circle cx="214" cy="645.5" r="3.9" fill="rgba(60,190,60,0.40)"/>
<circle cx="229" cy="642.5" r="3.9" fill="rgba(60,190,60,0.40)"/>
<circle cx="273.8" cy="516.8" r="3.9" fill="rgba(40,120,200,0.45)"/>
<circle cx="273.8" cy="541.7" r="3.9" fill="rgba(40,120,200,0.45)"/>
<circle cx="281.8" cy="549" r="3.9" fill="rgba(40,120,200,0.45)"/>
<circle cx="269.2" cy="582.1" r="3.9" fill="rgba(40,120,200,0.45)"/>
<circle cx="278.3" cy="578.6" r="3.9" fill="rgba(40,120,200,0.45)"/>
<circle cx="273.8" cy="590.7" r="3.9" fill="rgba(40,120,200,0.45)"/>
<circle cx="273.8" cy="625.2" r="3.9" fill="rgba(40,120,200,0.45)"/>
<circle cx="273.8" cy="645.7" r="3.9" fill="rgba(40,120,200,0.45)"/>
<circle cx="273.8" cy="653.9" r="3.9" fill="rgba(40,120,200,0.45)"/>
<circle cx="273.8" cy="660.9" r="3.9" fill="rgba(40,120,200,0.45)"/>
<circle cx="326.7" cy="582.1" r="3.9" fill="rgba(0,0,255,0.45)"/>
<circle cx="326.7" cy="602.4" r="3.9" fill="rgba(0,0,255,0.45)"/>
<circle cx="330.2" cy="605.9" r="3.9" fill="rgba(0,0,255,0.45)"/>
<circle cx="319.7" cy="618.2" r="3.9" fill="rgba(0,0,255,0.45)"/>
<circle cx="329.1" cy="618.9" r="3.9" fill="rgba(0,0,255,0.45)"/>
<circle cx="323.2" cy="624" r="3.9" fill="rgba(0,0,255,0.45)"/>
<circle cx="336.1" cy="629.2" r="3.9" fill="rgba(0,0,255,0.45)"/>
<circle cx="323.2" cy="633.8" r="3.9" fill="rgba(0,0,255,0.45)"/>
<circle cx="326.7" cy="640.4" r="3.9" fill="rgba(0,0,255,0.45)"/>
<circle cx="326.7" cy="646.7" r="3.9" fill="rgba(0,0,255,0.45)"/>
<circle cx="326.7" cy="662.5" r="3.9" fill="rgba(0,0,255,0.45)"/>
<circle cx="379.2" cy="554.1" r="3.9" fill="rgba(225,120,30,0.50)"/>
<circle cx="379.2" cy="577" r="3.9" fill="rgba(225,120,30,0.50)"/>
<circle cx="379.2" cy="582.8" r="3.9" fill="rgba(225,120,30,0.50)"/>
<circle cx="385.5" cy="617.7" r="3.9" fill="rgba(225,120,30,0.50)"/>
<circle cx="372.7" cy="624.7" r="3.9" fill="rgba(225,120,30,0.50)"/>
<circle cx="379.2" cy="627.5" r="3.9" fill="rgba(225,120,30,0.50)"/>
<circle cx="379.2" cy="640.8" r="3.9" fill="rgba(225,120,30,0.50)"/>
<circle cx="379.2" cy="653.9" r="3.9" fill="rgba(225,120,30,0.50)"/>
<circle cx="382.7" cy="670.2" r="3.9" fill="rgba(225,120,30,0.50)"/>
<circle cx="379.2" cy="674.2" r="3.9" fill="rgba(225,120,30,0.50)"/>
<text x="114.7" y="712.5" text-anchor="middle">G1</text>
<text x="170.1" y="712.5" text-anchor="middle">G2</text>
<text x="221.9" y="712.5" text-anchor="middle">G3</text>
<text x="274.3" y="712.5" text-anchor="middle">G4</text>
<text x="326.7" y="712.5" text-anchor="middle">G5</text>
<text x="379.2" y="712.5" text-anchor="middle">G6</text>
<text x="455.5" y="435.8" font-size="42">e</text>
<line x1="545.5" y1="574.6" x2="1028.6" y2="574.6" stroke="#000" stroke-width="2.2"/>
<line x1="545.5" y1="563" x2="545.5" y2="587.6" stroke="#000" stroke-width="2.2"/>
<line x1="712.6" y1="563" x2="712.6" y2="587.6" stroke="#000" stroke-width="2.2"/>
<line x1="878.6" y1="563" x2="878.6" y2="587.6" stroke="#000" stroke-width="2.2"/>
<line x1="1028.4" y1="563" x2="1028.4" y2="587.6" stroke="#000" stroke-width="2.2"/>
<text x="479.2" y="610">Day</text>
<text x="547" y="610" text-anchor="middle">0</text>
<text x="712" y="610" text-anchor="middle">1</text>
<text x="878.6" y="610" text-anchor="middle">2</text>
<text x="1028.6" y="610" text-anchor="middle">3</text>
<text x="475" y="643.9">NPs injection</text>
<text x="717.5" y="630.3" text-anchor="middle">Laser</text>
<text x="716.8" y="655.5" text-anchor="middle">irradiation</text>
<text x="878.3" y="630.3" text-anchor="middle">Laser</text>
<text x="877.5" y="655.5" text-anchor="middle">irradiation</text>
<text x="1024.7" y="630.3" text-anchor="middle">TH<tspan font-size="13" dy="-8">+</tspan><tspan dy="8">-neurons</tspan></text>
<text x="1024.2" y="655.5" text-anchor="middle">imaging</text>
<text x="446.8" y="682.6">6-OHDA</text>
<text x="446.8" y="709">G6: Madopar<tspan font-size="13" dy="-8">&#174;</tspan></text>
<rect x="712" y="672" width="316.4" height="11.2" fill="#a6a6a6"/>
<rect x="712" y="698" width="316.4" height="11.2" fill="#66c9fb"/>
<text x="518" y="549.6">1 cell</text>
<defs>
<radialGradient id="yolkG" cx="0.45" cy="0.4" r="0.6"><stop offset="0" stop-color="#d6ceb2"/><stop offset="0.75" stop-color="#d2c9aa"/><stop offset="1" stop-color="#c2b795"/></radialGradient>
<radialGradient id="laserDot"><stop offset="0" stop-color="#ff0010"/><stop offset="0.35" stop-color="#ff2030" stop-opacity="0.9"/><stop offset="1" stop-color="#ff4060" stop-opacity="0"/></radialGradient>
<linearGradient id="coneG1" x1="738" y1="420" x2="680" y2="480" gradientUnits="userSpaceOnUse"><stop offset="0" stop-color="#ff2030" stop-opacity="0.85"/><stop offset="1" stop-color="#ff3040" stop-opacity="0.15"/></linearGradient>
<linearGradient id="coneG2" x1="877" y1="423" x2="815" y2="480" gradientUnits="userSpaceOnUse"><stop offset="0" stop-color="#ff2030" stop-opacity="0.9"/><stop offset="1" stop-color="#ff3040" stop-opacity="0.2"/></linearGradient>
<filter id="bl2" x="-50%" y="-50%" width="200%" height="200%"><feGaussianBlur stdDeviation="2"/></filter>
<filter id="bl4" x="-50%" y="-50%" width="200%" height="200%"><feGaussianBlur stdDeviation="4"/></filter>
</defs>
<circle cx="547.7" cy="494.8" r="34" fill="url(#yolkG)" stroke="#a89c7c" stroke-width="0.8"/>
<path d="M521.8 476.5 A26.6 24.5 0 0 1 575 476.5 Z" fill="#e9e6e3" stroke="#a7a19b" stroke-width="0.8"/>
<ellipse cx="548.4" cy="477" rx="25.6" ry="6.2" fill="#cbc4b8" stroke="#a9a297" stroke-width="0.6"/>
<path d="M527 470 Q530 458 542 455" fill="none" stroke="#fff" stroke-width="1.2" opacity="0.8"/>
<path d="M521 488 Q519 500 520 505" fill="none" stroke="#f2eee2" stroke-width="1.6" opacity="0.9"/>
<polygon points="552.6,470.7 553.2,471.5 576.1,455.3 573.9,452.5" fill="#ee1010"/>
<polygon points="573.7,452.1 576.3,455.7 607.5,434.7 603.1,428.9" fill="#efe8d4" stroke="#b7ae9a" stroke-width="0.6"/>
<g filter="url(#bl4)"><polygon points="738.4,420.1 655,455 690,500" fill="url(#coneG1)" opacity="0.8"/></g>
<path d="M689 500 C 676 494, 676 470, 690 460 C 705 450, 725 458, 733 478 C 741 498, 738 515, 726 526 C 718 532, 710 528, 718 520 C 728 510, 727 492, 720 478" fill="none" stroke="#c9c4bf" stroke-width="13" stroke-linecap="round" stroke-linejoin="round" opacity="0.95"/>
<path d="M722 470 C 732 485, 736 500, 729 516" fill="none" stroke="#a8a39e" stroke-width="7" stroke-dasharray="1.2 2" opacity="0.7"/>
<path d="M712 478 C 720 488, 724 500, 722 512" fill="none" stroke="#e2dcb4" stroke-width="5" stroke-linecap="round"/>
<ellipse cx="701" cy="481" rx="17.5" ry="21" fill="#ecc6a6" stroke="#d7ae8a" stroke-width="0.8"/>
<circle cx="683.5" cy="495.5" r="5" fill="none" stroke="#aaa49e" stroke-width="1.5"/>
<g filter="url(#bl4)"><polygon points="738.4,420.1 668,460 700,505" fill="#ff2a3a" opacity="0.35"/></g>
<circle cx="711.7" cy="492.4" r="49.6" fill="none" stroke="#7a7a7a" stroke-width="3.5"/>
<circle cx="738.4" cy="420.1" r="7" fill="url(#laserDot)"/>
<g filter="url(#bl4)"><polygon points="877.7,423.1 790,478 868,480" fill="url(#coneG2)" opacity="0.75"/></g>
<path d="M812 479 C 830 474, 900 474, 946 474 C 960 474, 960 498, 946 498 C 920 499, 900 500, 880 497 L 820 497 Z" fill="#e6e3e0" stroke="#cdc8c3" stroke-width="0.8"/>
<path d="M812 482 C 830 477, 880 478, 944 485 C 900 492, 860 494, 818 494 Z" fill="#b5afaa" stroke="#9c958f" stroke-width="0.5"/>
<path d="M850 486 L 935 485" stroke="#9c958f" stroke-width="4" stroke-dasharray="1.2 2" opacity="0.6"/>
<ellipse cx="843.6" cy="495.5" rx="13.5" ry="8.6" fill="#f2dbd0" stroke="#d8bfb3" stroke-width="0.6"/>
<ellipse cx="817.5" cy="488" rx="8.5" ry="8" fill="#a99e98"/>
<circle cx="816.2" cy="488.6" r="4.3" fill="#3c2c2c"/>
<g filter="url(#bl4)"><polygon points="877.7,423.1 800,476 860,480" fill="#ff2a3a" opacity="0.3"/></g>
<circle cx="877.7" cy="423.1" r="7" fill="url(#laserDot)"/>
<clipPath id="headclip"><rect x="960" y="440" width="113" height="90"/></clipPath>
<g clip-path="url(#headclip)">
<path d="M1058 458 C 1080 456, 1095 470, 1095 488 C 1095 506, 1080 520, 1058 518 Z" fill="#e6e0d8" stroke="#b9b1a6" stroke-width="0.6"/>
<path d="M972 478 C 975 470, 985 458, 1000 452 C 1015 448, 1020 455, 1030 455 C 1050 452, 1060 460, 1063 470 C 1066 480, 1066 495, 1063 505 C 1060 515, 1050 522, 1030 520 C 1020 520, 1015 527, 1000 523 C 985 517, 975 505, 972 497 Z" fill="#ddd5cb" stroke="#a8a094" stroke-width="0.6"/>
<path d="M980 480 C 990 472, 1010 470, 1030 474 C 1045 477, 1060 478, 1073 480 L 1073 495 C 1060 497, 1045 498, 1030 501 C 1010 505, 990 503, 980 495 Z" fill="#c9bdaf"/>
<ellipse cx="1028" cy="487.5" rx="20" ry="9" fill="#d8cbbd"/>
<ellipse cx="1001" cy="465" rx="16" ry="10" transform="rotate(-28 1001 465)" fill="#5a5652"/>
<ellipse cx="1001" cy="510" rx="16" ry="10" transform="rotate(28 1001 510)" fill="#5a5652"/>
<ellipse cx="1000" cy="467" rx="9" ry="5" transform="rotate(-28 1000 467)" fill="#8f8a84"/>
<ellipse cx="1000" cy="508" rx="9" ry="5" transform="rotate(28 1000 508)" fill="#8f8a84"/>
<ellipse cx="1058" cy="477" rx="2" ry="4" fill="#6e6860"/>
<ellipse cx="1060" cy="497" rx="2" ry="4" fill="#6e6860"/>
<ellipse cx="1066" cy="477" rx="2" ry="3" fill="#6e6860"/>
<ellipse cx="1067" cy="498" rx="2" ry="3" fill="#6e6860"/>
<ellipse cx="1050" cy="478" rx="1.5" ry="2.5" fill="#6e6860"/>
<ellipse cx="1050" cy="496" rx="1.5" ry="2.5" fill="#6e6860"/>
<ellipse cx="1026" cy="477" rx="2" ry="1.2" fill="#6e6860"/>
<ellipse cx="1026" cy="497" rx="2" ry="1.2" fill="#6e6860"/>
<ellipse cx="975" cy="482" rx="0.8" ry="0.8" fill="#6e6860"/>
<ellipse cx="975" cy="487" rx="0.8" ry="0.8" fill="#6e6860"/>
<ellipse cx="975" cy="492" rx="0.8" ry="0.8" fill="#6e6860"/>
<g fill="#18d418">
<circle cx="1008" cy="482" r="2.5"/>
<circle cx="1009" cy="492" r="2.5"/>
<circle cx="1024" cy="479" r="2.5"/>
<circle cx="1030" cy="485" r="2.5"/>
<circle cx="1034" cy="483" r="3"/>
<circle cx="1036" cy="489" r="3.2"/>
<circle cx="1040" cy="484" r="3"/>
<circle cx="1043" cy="488" r="2.6"/>
<circle cx="1033" cy="494" r="2.6"/>
<circle cx="1038" cy="494" r="2.6"/>
<circle cx="1026" cy="497" r="2.2"/>
<circle cx="997" cy="487" r="1.2"/>
<circle cx="1002" cy="491" r="1.4"/>
</g>
<g fill="#0a8a0a" opacity="0.8">
<circle cx="1035" cy="487" r="1.6"/>
<circle cx="1041" cy="491" r="1.4"/>
<circle cx="1020" cy="481" r="1.3"/>
<circle cx="1031" cy="496" r="1.3"/>
</g>
</g>
<text x="1113.5" y="435.7" font-size="42">f</text>
<rect x="1191.1" y="430.2" width="3" height="256.3" fill="#000"/>
<line x1="1187.6" y1="685" x2="1192.6" y2="685" stroke="#000" stroke-width="2.2"/>
<line x1="1187.6" y1="642.6" x2="1192.6" y2="642.6" stroke="#000" stroke-width="2.2"/>
<line x1="1187.6" y1="600.2" x2="1192.6" y2="600.2" stroke="#000" stroke-width="2.2"/>
<line x1="1187.6" y1="557.8" x2="1192.6" y2="557.8" stroke="#000" stroke-width="2.2"/>
<line x1="1187.6" y1="515.4" x2="1192.6" y2="515.4" stroke="#000" stroke-width="2.2"/>
<line x1="1187.6" y1="473" x2="1192.6" y2="473" stroke="#000" stroke-width="2.2"/>
<line x1="1187.6" y1="430.6" x2="1192.6" y2="430.6" stroke="#000" stroke-width="2.2"/>
<line x1="1189.1" y1="663.8" x2="1192.6" y2="663.8" stroke="#000" stroke-width="2"/>
<line x1="1189.1" y1="621.4" x2="1192.6" y2="621.4" stroke="#000" stroke-width="2"/>
<line x1="1189.1" y1="579" x2="1192.6" y2="579" stroke="#000" stroke-width="2"/>
<line x1="1189.1" y1="536.6" x2="1192.6" y2="536.6" stroke="#000" stroke-width="2"/>
<line x1="1189.1" y1="494.2" x2="1192.6" y2="494.2" stroke="#000" stroke-width="2"/>
<line x1="1189.1" y1="451.8" x2="1192.6" y2="451.8" stroke="#000" stroke-width="2"/>
<text x="1182" y="692.2" font-size="20" text-anchor="end">1</text>
<text x="1182" y="607.4" font-size="20" text-anchor="end">3</text>
<text x="1182" y="522.6" font-size="20" text-anchor="end">5</text>
<text x="1182" y="437.8" font-size="20" text-anchor="end">7</text>
<text transform="translate(1128.5 558.6) rotate(-90)" text-anchor="middle">Area(TH<tspan font-size="13" dy="-8">+</tspan><tspan dy="8">-neuron)</tspan></text>
<text transform="translate(1155 556.3) rotate(-90)" text-anchor="middle">&#215;10<tspan font-size="13" dy="-8">4</tspan><tspan dy="8"> [&#956;m</tspan><tspan font-size="13" dy="-8">2</tspan><tspan dy="8">]</tspan></text>
<line x1="1263.7" y1="448.4" x2="1480" y2="448.4" stroke="#000" stroke-width="2"/>
<line x1="1263.7" y1="486.7" x2="1428.3" y2="486.7" stroke="#000" stroke-width="2"/>
<line x1="1263.7" y1="522.7" x2="1376" y2="522.7" stroke="#000" stroke-width="2"/>
<line x1="1267.6" y1="561.3" x2="1323.5" y2="561.3" stroke="#000" stroke-width="2"/>
<text x="1319" y="439.2"><tspan font-style="italic">p</tspan> = 1.7&#215;10<tspan font-size="13" dy="-9">-7</tspan></text>
<text x="1299.3" y="476.2">1.4&#215;10<tspan font-size="13" dy="-9">-7</tspan></text>
<text x="1285.7" y="512.8">0.52</text>
<text x="1259.4" y="548.8">1.7&#215;10<tspan font-size="13" dy="-9">-4</tspan></text>
<path d="M1221.4,520 1221.9,522.2 1222.5,524.4 1223.2,526.6 1224,528.9 1224.9,531.1 1225.9,533.3 1227,535.5 1228.2,537.7 1229.6,539.9 1230.9,542.1 1232.4,544.4 1233.9,546.6 1235.4,548.8 1236.9,551 1238.4,553.2 1239.8,555.4 1241.1,557.7 1242.2,559.9 1243.2,562.1 1244.1,564.3 1244.7,566.5 1245.1,568.7 1245.2,570.9 1245.1,573.2 1244.9,575.4 1244.6,577.6 1244.1,579.8 1243.5,582 1242.8,584.2 1242,586.5 1241.1,588.7 1240.1,590.9 1239,593.1 1237.9,595.3 1236.8,597.5 1235.6,599.7 1234.4,602 1233.3,604.2 1232.1,606.4 1231,608.6 1229.9,610.8 1228.9,613 1227.9,615.2 1227,617.5 1226.1,619.7 1225.3,621.9 1224.6,624.1 1223.9,626.3 1223.3,628.5 1222.7,630.8 1222.2,633 1221.8,635.2 1221.4,637.4 1221.1,639.6 1220.8,641.8 1220.5,644 1220.3,646.3 1220.1,648.5 1219.9,650.7 1219.8,652.9" fill="none" stroke="#7a7a7a" stroke-width="2.8" stroke-linecap="round" stroke-dasharray="0 4.7"/>
<path d="M1271.5,629 1271.7,629.6 1272,630.2 1272.3,630.8 1272.7,631.5 1273.2,632.1 1273.8,632.7 1274.5,633.3 1275.3,633.9 1276.3,634.5 1277.3,635.1 1278.6,635.7 1279.9,636.4 1281.4,637 1282.9,637.6 1284.6,638.2 1286.2,638.8 1287.9,639.4 1289.5,640 1291.1,640.7 1292.5,641.3 1293.8,641.9 1294.9,642.5 1295.7,643.1 1296.3,643.7 1296.6,644.3 1296.6,644.9 1296.4,645.6 1296.1,646.2 1295.6,646.8 1295,647.4 1294.2,648 1293.3,648.6 1292.4,649.2 1291.3,649.9 1290.2,650.5 1289,651.1 1287.8,651.7 1286.5,652.3 1285.3,652.9 1284.1,653.5 1282.9,654.1 1281.7,654.8 1280.6,655.4 1279.6,656 1278.6,656.6 1277.7,657.2 1276.9,657.8 1276.1,658.4 1275.4,659.1 1274.8,659.7 1274.2,660.3 1273.7,660.9 1273.3,661.5 1272.9,662.1 1272.5,662.7 1272.3,663.3 1272,664 1271.8,664.6 1271.6,665.2 1271.5,665.8" fill="none" stroke="#7a7a7a" stroke-width="2.8" stroke-linecap="round" stroke-dasharray="0 4.7"/>
<path d="M1323.5,584.1 1323.7,585.4 1323.9,586.7 1324.2,588 1324.5,589.2 1324.9,590.5 1325.4,591.8 1326,593.1 1326.7,594.4 1327.4,595.7 1328.3,597 1329.3,598.2 1330.4,599.5 1331.6,600.8 1332.9,602.1 1334.2,603.4 1335.7,604.7 1337.2,605.9 1338.7,607.2 1340.2,608.5 1341.6,609.8 1343.1,611.1 1344.4,612.4 1345.5,613.7 1346.5,614.9 1347.4,616.2 1348,617.5 1348.4,618.8 1348.5,620.1 1348.4,621.4 1348.2,622.7 1347.7,623.9 1347.1,625.2 1346.3,626.5 1345.4,627.8 1344.4,629.1 1343.2,630.4 1342,631.6 1340.7,632.9 1339.4,634.2 1338.1,635.5 1336.8,636.8 1335.4,638.1 1334.2,639.4 1333,640.6 1331.8,641.9 1330.7,643.2 1329.8,644.5 1328.8,645.8 1328,647.1 1327.3,648.4 1326.6,649.6 1326,650.9 1325.5,652.2 1325.1,653.5 1324.7,654.8 1324.3,656.1 1324.1,657.3 1323.8,658.6 1323.7,659.9 1323.5,661.2" fill="none" stroke="#7a7a7a" stroke-width="2.8" stroke-linecap="round" stroke-dasharray="0 4.7"/>
<path d="M1375.3,559 1375.4,561 1375.6,563.1 1375.7,565.1 1376,567.2 1376.2,569.2 1376.5,571.3 1376.8,573.3 1377.1,575.4 1377.5,577.4 1377.9,579.5 1378.4,581.5 1379,583.5 1379.6,585.6 1380.2,587.6 1381,589.7 1381.7,591.7 1382.5,593.8 1383.4,595.8 1384.4,597.9 1385.3,599.9 1386.3,601.9 1387.4,604 1388.4,606 1389.5,608.1 1390.6,610.1 1391.7,612.2 1392.8,614.2 1393.8,616.3 1394.8,618.3 1395.7,620.4 1396.6,622.4 1397.4,624.4 1398.1,626.5 1398.7,628.5 1399.2,630.6 1399.6,632.6 1399.8,634.7 1400,636.7 1400,638.8 1399.8,640.8 1399.5,642.8 1399,644.9 1398.3,646.9 1397.5,649 1396.6,651 1395.6,653.1 1394.5,655.1 1393.3,657.2 1392,659.2 1390.7,661.2 1389.5,663.3 1388.2,665.3 1386.9,667.4 1385.7,669.4 1384.6,671.5 1383.5,673.5 1382.4,675.6 1381.5,677.6 1380.6,679.7 1379.8,681.7" fill="none" stroke="#7a7a7a" stroke-width="2.8" stroke-linecap="round" stroke-dasharray="0 4.7"/>
<path d="M1427.2,516 1427.5,517.9 1427.8,519.8 1428.2,521.7 1428.7,523.6 1429.3,525.5 1429.9,527.3 1430.7,529.2 1431.6,531.1 1432.6,533 1433.8,534.9 1435,536.8 1436.3,538.7 1437.8,540.6 1439.3,542.5 1440.8,544.4 1442.4,546.2 1443.9,548.1 1445.4,550 1446.8,551.9 1448.1,553.8 1449.2,555.7 1450.1,557.6 1450.8,559.5 1451.3,561.4 1451.5,563.2 1451.5,565.1 1451.3,567 1450.9,568.9 1450.4,570.8 1449.8,572.7 1449.1,574.6 1448.2,576.5 1447.3,578.4 1446.2,580.3 1445.1,582.1 1444,584 1442.8,585.9 1441.6,587.8 1440.4,589.7 1439.2,591.6 1438,593.5 1436.9,595.4 1435.8,597.3 1434.8,599.2 1433.9,601 1433,602.9 1432.1,604.8 1431.4,606.7 1430.7,608.6 1430.1,610.5 1429.5,612.4 1429.1,614.3 1428.6,616.2 1428.3,618.1 1427.9,620 1427.7,621.8 1427.4,623.7 1427.2,625.6 1427,627.5 1426.9,629.4" fill="none" stroke="#7a7a7a" stroke-width="2.8" stroke-linecap="round" stroke-dasharray="0 4.7"/>
<path d="M1478.4,519.4 1478.6,521.3 1478.8,523.2 1479.1,525.1 1479.5,527.1 1480,529 1480.5,530.9 1481.2,532.8 1481.9,534.7 1482.8,536.6 1483.8,538.5 1484.9,540.5 1486.1,542.4 1487.4,544.3 1488.9,546.2 1490.4,548.1 1491.9,550 1493.5,552 1495.1,553.9 1496.6,555.8 1498.1,557.7 1499.4,559.6 1500.5,561.5 1501.5,563.4 1502.3,565.4 1502.7,567.3 1503,569.2 1503,571.1 1502.8,573 1502.4,574.9 1501.9,576.8 1501.3,578.8 1500.5,580.7 1499.6,582.6 1498.6,584.5 1497.5,586.4 1496.3,588.3 1495.1,590.3 1493.9,592.2 1492.7,594.1 1491.4,596 1490.2,597.9 1489,599.8 1487.9,601.7 1486.8,603.7 1485.8,605.6 1484.9,607.5 1484,609.4 1483.2,611.3 1482.4,613.2 1481.8,615.1 1481.2,617.1 1480.7,619 1480.2,620.9 1479.8,622.8 1479.5,624.7 1479.2,626.6 1478.9,628.6 1478.7,630.5 1478.5,632.4 1478.4,634.3" fill="none" stroke="#7a7a7a" stroke-width="2.8" stroke-linecap="round" stroke-dasharray="0 4.7"/>
<line x1="1219.2" y1="543.3" x2="1219.2" y2="553.2" stroke="#000" stroke-width="3"/>
<line x1="1219.2" y1="590.9" x2="1219.2" y2="608.8" stroke="#000" stroke-width="3"/>
<line x1="1213.2" y1="543.3" x2="1225.2" y2="543.3" stroke="#000" stroke-width="3"/>
<line x1="1213.2" y1="608.8" x2="1225.2" y2="608.8" stroke="#000" stroke-width="3"/>
<rect x="1206.5" y="553.2" width="25.5" height="37.7" fill="none" stroke="#000" stroke-width="3"/>
<line x1="1206.5" y1="573" x2="1232" y2="573" stroke="#000" stroke-width="3"/>
<line x1="1270.9" y1="635.5" x2="1270.9" y2="641" stroke="#000" stroke-width="3"/>
<line x1="1270.9" y1="650.5" x2="1270.9" y2="653.8" stroke="#000" stroke-width="3"/>
<line x1="1264.9" y1="635.5" x2="1276.9" y2="635.5" stroke="#000" stroke-width="3"/>
<line x1="1264.9" y1="653.8" x2="1276.9" y2="653.8" stroke="#000" stroke-width="3"/>
<rect x="1258.2" y="641" width="25.5" height="9.5" fill="none" stroke="#000" stroke-width="3"/>
<line x1="1258.2" y1="646" x2="1283.7" y2="646" stroke="#000" stroke-width="3"/>
<line x1="1322.9" y1="603.3" x2="1322.9" y2="609.8" stroke="#000" stroke-width="3"/>
<line x1="1322.9" y1="630" x2="1322.9" y2="635.8" stroke="#000" stroke-width="3"/>
<line x1="1316.9" y1="603.3" x2="1328.9" y2="603.3" stroke="#000" stroke-width="3"/>
<line x1="1316.9" y1="635.8" x2="1328.9" y2="635.8" stroke="#000" stroke-width="3"/>
<rect x="1310.2" y="609.8" width="25.5" height="20.2" fill="none" stroke="#000" stroke-width="3"/>
<line x1="1310.2" y1="620.2" x2="1335.7" y2="620.2" stroke="#000" stroke-width="3"/>
<line x1="1374.7" y1="599.8" x2="1374.7" y2="628.7" stroke="#000" stroke-width="3"/>
<line x1="1374.7" y1="652.5" x2="1374.7" y2="682.9" stroke="#000" stroke-width="3"/>
<line x1="1368.7" y1="599.8" x2="1380.7" y2="599.8" stroke="#000" stroke-width="3"/>
<line x1="1368.7" y1="682.9" x2="1380.7" y2="682.9" stroke="#000" stroke-width="3"/>
<rect x="1362" y="628.7" width="25.5" height="23.8" fill="none" stroke="#000" stroke-width="3"/>
<line x1="1362" y1="639.1" x2="1387.5" y2="639.1" stroke="#000" stroke-width="3"/>
<line x1="1426.3" y1="536.4" x2="1426.3" y2="545.6" stroke="#000" stroke-width="3"/>
<line x1="1426.3" y1="575.5" x2="1426.3" y2="596.1" stroke="#000" stroke-width="3"/>
<line x1="1420.3" y1="536.4" x2="1432.3" y2="536.4" stroke="#000" stroke-width="3"/>
<line x1="1420.3" y1="596.1" x2="1432.3" y2="596.1" stroke="#000" stroke-width="3"/>
<rect x="1413.5" y="545.6" width="25.5" height="29.9" fill="none" stroke="#000" stroke-width="3"/>
<line x1="1413.5" y1="563.3" x2="1439" y2="563.3" stroke="#000" stroke-width="3"/>
<line x1="1477.8" y1="550.5" x2="1477.8" y2="554.1" stroke="#000" stroke-width="3"/>
<line x1="1477.8" y1="586.2" x2="1477.8" y2="600.3" stroke="#000" stroke-width="3"/>
<line x1="1471.8" y1="550.5" x2="1483.8" y2="550.5" stroke="#000" stroke-width="3"/>
<line x1="1471.8" y1="600.3" x2="1483.8" y2="600.3" stroke="#000" stroke-width="3"/>
<rect x="1465" y="554.1" width="25.5" height="32.1" fill="none" stroke="#000" stroke-width="3"/>
<line x1="1465" y1="572.3" x2="1490.5" y2="572.3" stroke="#000" stroke-width="3"/>
<circle cx="1217" cy="542.3" r="3.9" fill="rgba(110,110,110,0.62)"/>
<circle cx="1219.5" cy="543" r="3.9" fill="rgba(110,110,110,0.62)"/>
<circle cx="1223.1" cy="563.5" r="3.9" fill="rgba(110,110,110,0.62)"/>
<circle cx="1218.6" cy="567.9" r="3.9" fill="rgba(110,110,110,0.62)"/>
<circle cx="1215.8" cy="574" r="3.9" fill="rgba(110,110,110,0.62)"/>
<circle cx="1218.6" cy="576.7" r="3.9" fill="rgba(110,110,110,0.62)"/>
<circle cx="1215.8" cy="604.3" r="3.9" fill="rgba(110,110,110,0.62)"/>
<circle cx="1216.7" cy="608.8" r="3.9" fill="rgba(110,110,110,0.62)"/>
<circle cx="1267.8" cy="635.1" r="3.9" fill="rgba(255,0,0,0.42)"/>
<circle cx="1270" cy="641" r="3.9" fill="rgba(255,0,0,0.42)"/>
<circle cx="1272.7" cy="646.5" r="3.9" fill="rgba(255,0,0,0.42)"/>
<circle cx="1271.8" cy="651" r="3.9" fill="rgba(255,0,0,0.42)"/>
<circle cx="1272.7" cy="654.7" r="3.9" fill="rgba(255,0,0,0.42)"/>
<circle cx="1322.3" cy="602.4" r="3.9" fill="rgba(60,190,60,0.40)"/>
<circle cx="1323.2" cy="615.6" r="3.9" fill="rgba(60,190,60,0.40)"/>
<circle cx="1323.2" cy="625.4" r="3.9" fill="rgba(60,190,60,0.40)"/>
<circle cx="1326" cy="630" r="3.9" fill="rgba(60,190,60,0.40)"/>
<circle cx="1321.4" cy="636.4" r="3.9" fill="rgba(60,190,60,0.40)"/>
<circle cx="1373.2" cy="599" r="3.9" fill="rgba(40,120,200,0.45)"/>
<circle cx="1371.3" cy="625.3" r="3.9" fill="rgba(40,120,200,0.45)"/>
<circle cx="1373.2" cy="633.1" r="3.9" fill="rgba(40,120,200,0.45)"/>
<circle cx="1377.4" cy="667.6" r="3.9" fill="rgba(40,120,200,0.45)"/>
<circle cx="1373.2" cy="681.7" r="3.9" fill="rgba(40,120,200,0.45)"/>
<circle cx="1424.3" cy="535.4" r="3.9" fill="rgba(0,0,255,0.45)"/>
<circle cx="1424.3" cy="542.7" r="3.9" fill="rgba(0,0,255,0.45)"/>
<circle cx="1423.5" cy="546.8" r="3.9" fill="rgba(0,0,255,0.45)"/>
<circle cx="1424.3" cy="559.7" r="3.9" fill="rgba(0,0,255,0.45)"/>
<circle cx="1427.2" cy="570.4" r="3.9" fill="rgba(0,0,255,0.45)"/>
<circle cx="1424.3" cy="571.1" r="3.9" fill="rgba(0,0,255,0.45)"/>
<circle cx="1424.8" cy="579.6" r="3.9" fill="rgba(0,0,255,0.45)"/>
<circle cx="1422.3" cy="596.1" r="3.9" fill="rgba(0,0,255,0.45)"/>
<circle cx="1475.8" cy="549.2" r="3.9" fill="rgba(225,120,30,0.50)"/>
<circle cx="1478.7" cy="555.8" r="3.9" fill="rgba(225,120,30,0.50)"/>
<circle cx="1475.8" cy="562.1" r="3.9" fill="rgba(225,120,30,0.50)"/>
<circle cx="1481.1" cy="584" r="3.9" fill="rgba(225,120,30,0.50)"/>
<circle cx="1477.7" cy="586.9" r="3.9" fill="rgba(225,120,30,0.50)"/>
<circle cx="1478.2" cy="600.3" r="3.9" fill="rgba(225,120,30,0.50)"/>
<text x="1219.5" y="711.5" text-anchor="middle">G1</text>
<text x="1272.3" y="711.5" text-anchor="middle">G2</text>
<text x="1326" y="711.5" text-anchor="middle">G3</text>
<text x="1375.7" y="711.5" text-anchor="middle">G4</text>
<text x="1428.4" y="711.5" text-anchor="middle">G5</text>
<text x="1481.4" y="711.5" text-anchor="middle">G6</text>
<text x="26.6" y="746.3" font-size="42">g</text>
<text x="74.6" y="746.8" fill="#ffc000">TH<tspan font-size="13" dy="-8">+</tspan><tspan dy="8"> neuron</tspan></text>
<text x="186.5" y="746.8">/</text>
<text x="192.5" y="746.8" fill="#00b050">background</text>
<defs>
<filter id="g1" x="-60%" y="-60%" width="220%" height="220%"><feGaussianBlur stdDeviation="1"/></filter>
<filter id="g1_5" x="-60%" y="-60%" width="220%" height="220%"><feGaussianBlur stdDeviation="1.5"/></filter>
<filter id="g2" x="-60%" y="-60%" width="220%" height="220%"><feGaussianBlur stdDeviation="2"/></filter>
<filter id="g2_5" x="-60%" y="-60%" width="220%" height="220%"><feGaussianBlur stdDeviation="2.5"/></filter>
<filter id="g3" x="-60%" y="-60%" width="220%" height="220%"><feGaussianBlur stdDeviation="3"/></filter>
<filter id="g5" x="-60%" y="-60%" width="220%" height="220%"><feGaussianBlur stdDeviation="5"/></filter>
<filter id="g6" x="-60%" y="-60%" width="220%" height="220%"><feGaussianBlur stdDeviation="6"/></filter>
<filter id="g7" x="-60%" y="-60%" width="220%" height="220%"><feGaussianBlur stdDeviation="7"/></filter>
<filter id="g8" x="-60%" y="-60%" width="220%" height="220%"><feGaussianBlur stdDeviation="8"/></filter>
<clipPath id="imgclip"><rect width="234" height="233"/></clipPath>
<filter id="mottle" x="0" y="0" width="100%" height="100%" filterUnits="userSpaceOnUse"><feTurbulence type="fractalNoise" baseFrequency="0.045" numOctaves="3" seed="4" result="n"/><feColorMatrix in="n" type="matrix" values="0 0 0 0 0  0 0 0 0 0  0 0 0 0 0  0 0 0 -2.2 1.25"/><feComposite in2="SourceGraphic" operator="in"/></filter>
<filter id="speck" x="0" y="0" width="100%" height="100%" filterUnits="userSpaceOnUse"><feTurbulence type="fractalNoise" baseFrequency="0.35" numOctaves="1" seed="9" result="n"/><feColorMatrix in="n" type="matrix" values="0 0 0 0 0.2  0 0 0 0 0.85  0 0 0 0 0.2  0 0 0 -9 4.3"/><feComposite in2="SourceGraphic" operator="in"/></filter>
</defs>
<g transform="translate(29 760)">
<rect width="234" height="233" fill="#000"/>
<g clip-path="url(#imgclip)">
<ellipse cx="55" cy="95" rx="31" ry="51" transform="rotate(6 55 95)" fill="rgb(0,62,0)" filter="url(#g5)"/>
<ellipse cx="178" cy="92" rx="30" ry="52" transform="rotate(-6 178 92)" fill="rgb(0,60,0)" filter="url(#g5)"/>
<ellipse cx="117" cy="88" rx="42" ry="60" fill="rgb(0,55,0)" filter="url(#g5)"/>
<ellipse cx="120" cy="185" rx="78" ry="62" fill="rgb(0,60,0)" filter="url(#g5)"/>
<ellipse cx="82" cy="112" rx="10" ry="42" transform="rotate(10 82 112)" fill="rgb(0,100,0)" filter="url(#g6)"/>
<ellipse cx="153" cy="108" rx="10" ry="42" transform="rotate(-10 153 108)" fill="rgb(0,95,0)" filter="url(#g6)"/>
<ellipse cx="50" cy="95" rx="15" ry="32" transform="rotate(6 50 95)" fill="rgb(0,0,0)" opacity="0.6" filter="url(#g6)"/>
<ellipse cx="182" cy="92" rx="15" ry="32" transform="rotate(-6 182 92)" fill="rgb(0,0,0)" opacity="0.5" filter="url(#g6)"/>
<ellipse cx="122" cy="248" rx="72" ry="50" fill="rgb(10,205,10)" filter="url(#g8)"/>
<ellipse cx="110" cy="232" rx="5" ry="9" fill="rgb(0,255,0)" filter="url(#g3)"/>
<ellipse cx="132" cy="232" rx="5" ry="9" fill="rgb(0,255,0)" filter="url(#g3)"/>
<path d="M34,66 27,95 31,120" fill="none" stroke="rgb(30,215,30)" stroke-width="4" stroke-linecap="round" stroke-linejoin="round" filter="url(#g2_5)"/>
<path d="M198,72 206,100 203,126" fill="none" stroke="rgb(0,160,0)" stroke-width="3" stroke-linecap="round" stroke-linejoin="round" filter="url(#g2_5)"/>
<path d="M100,38 120,30 145,38" fill="none" stroke="rgb(0,110,0)" stroke-width="4" stroke-linecap="round" stroke-linejoin="round" filter="url(#g3)"/>
<rect width="234" height="233" fill="#000" opacity="0.2" filter="url(#mottle)"/>
<circle cx="88.8" cy="157.5" r="3.6" fill="rgb(160,240,40)" filter="url(#g1_5)"/>
<circle cx="136.5" cy="154.6" r="4" fill="rgb(160,240,40)" filter="url(#g1_5)"/>
<g filter="url(#g3)" opacity="0.7">
<circle cx="104.7" cy="103.9" r="7.2" fill="rgb(150,230,10)"/>
<circle cx="103.2" cy="108.4" r="5.3" fill="rgb(150,230,10)"/>
<circle cx="121.6" cy="101" r="7.2" fill="rgb(150,230,10)"/>
<circle cx="122.1" cy="109.9" r="5.8" fill="rgb(150,230,10)"/>
<circle cx="101.7" cy="121.8" r="9.6" fill="rgb(150,230,10)"/>
<circle cx="105.7" cy="126.8" r="7.2" fill="rgb(150,230,10)"/>
<circle cx="121.6" cy="120.8" r="7.2" fill="rgb(150,230,10)"/>
<circle cx="122.6" cy="125.8" r="6.2" fill="rgb(150,230,10)"/>
<circle cx="119.6" cy="129.8" r="6" fill="rgb(150,230,10)"/>
<circle cx="107.7" cy="133.7" r="7.2" fill="rgb(150,230,10)"/>
<circle cx="114.6" cy="138.7" r="5.8" fill="rgb(150,230,10)"/>
<circle cx="108.7" cy="142.7" r="7.2" fill="rgb(150,230,10)"/>
<circle cx="121.6" cy="141.7" r="6.2" fill="rgb(150,230,10)"/>
<circle cx="110.7" cy="145.6" r="4.8" fill="rgb(150,230,10)"/>
<circle cx="123.6" cy="132.7" r="4.8" fill="rgb(150,230,10)"/>
<circle cx="106.7" cy="88.1" r="4.3" fill="rgb(150,230,10)"/>
<circle cx="115.6" cy="91" r="3.8" fill="rgb(150,230,10)"/>
</g>
<g filter="url(#g1)">
<circle cx="104.7" cy="103.9" r="3.6" fill="rgb(225,255,0)"/>
<circle cx="103.2" cy="108.4" r="2.6" fill="rgb(225,255,0)"/>
<circle cx="121.6" cy="101" r="3.6" fill="rgb(225,255,0)"/>
<circle cx="122.1" cy="109.9" r="2.9" fill="rgb(225,255,0)"/>
<circle cx="101.7" cy="121.8" r="4.8" fill="rgb(225,255,0)"/>
<circle cx="105.7" cy="126.8" r="3.6" fill="rgb(225,255,0)"/>
<circle cx="121.6" cy="120.8" r="3.6" fill="rgb(225,255,0)"/>
<circle cx="122.6" cy="125.8" r="3.1" fill="rgb(225,255,0)"/>
<circle cx="119.6" cy="129.8" r="3" fill="rgb(225,255,0)"/>
<circle cx="107.7" cy="133.7" r="3.6" fill="rgb(225,255,0)"/>
<circle cx="114.6" cy="138.7" r="2.9" fill="rgb(225,255,0)"/>
<circle cx="108.7" cy="142.7" r="3.6" fill="rgb(225,255,0)"/>
<circle cx="121.6" cy="141.7" r="3.1" fill="rgb(225,255,0)"/>
<circle cx="110.7" cy="145.6" r="2.4" fill="rgb(225,255,0)"/>
<circle cx="123.6" cy="132.7" r="2.4" fill="rgb(225,255,0)"/>
<circle cx="106.7" cy="88.1" r="2.2" fill="rgb(225,255,0)"/>
<circle cx="115.6" cy="91" r="1.9" fill="rgb(225,255,0)"/>
</g>
</g>
<rect width="50" height="36.5" fill="#6f6f6f"/>
<text x="11.5" y="25.5" fill="#fff">G1</text>
<rect x="185.2" y="209.5" width="35.7" height="3.7" fill="#fff"/>
<text x="154.2" y="199" fill="#fff">100 &#956;m</text>
</g>
<g transform="translate(276 759)">
<rect width="234" height="233" fill="#000"/>
<g clip-path="url(#imgclip)">
<ellipse cx="55" cy="100" rx="27" ry="50" transform="rotate(6 55 100)" fill="rgb(0,52,0)" filter="url(#g5)"/>
<ellipse cx="184" cy="100" rx="25" ry="50" transform="rotate(-6 184 100)" fill="rgb(0,52,0)" filter="url(#g5)"/>
<ellipse cx="120" cy="140" rx="70" ry="105" fill="rgb(0,100,0)" filter="url(#g5)"/>
<ellipse cx="122" cy="62" rx="38" ry="26" fill="rgb(0,108,0)" filter="url(#g5)"/>
<ellipse cx="58" cy="92" rx="13" ry="30" transform="rotate(6 58 92)" fill="rgb(0,0,0)" opacity="0.6" filter="url(#g6)"/>
<ellipse cx="182" cy="95" rx="12" ry="30" transform="rotate(-6 182 95)" fill="rgb(0,0,0)" opacity="0.6" filter="url(#g6)"/>
<ellipse cx="120" cy="122" rx="26" ry="36" fill="rgb(0,0,0)" opacity="0.2" filter="url(#g8)"/>
<path d="M44,70 37,95 40,114" fill="none" stroke="rgb(30,220,30)" stroke-width="4" stroke-linecap="round" stroke-linejoin="round" filter="url(#g2_5)"/>
<path d="M196,70 203,95 200,114" fill="none" stroke="rgb(30,210,30)" stroke-width="4" stroke-linecap="round" stroke-linejoin="round" filter="url(#g2_5)"/>
<path d="M56,115 52,170 60,225" fill="none" stroke="rgb(0,140,0)" stroke-width="3" stroke-linecap="round" stroke-linejoin="round" filter="url(#g3)"/>
<path d="M184,115 188,170 180,225" fill="none" stroke="rgb(0,140,0)" stroke-width="3" stroke-linecap="round" stroke-linejoin="round" filter="url(#g3)"/>
<path d="M88,55 100,42 122,38 145,42 157,55" fill="none" stroke="rgb(20,150,20)" stroke-width="3" stroke-linecap="round" stroke-linejoin="round" opacity="0.5" filter="url(#g2)"/>
<ellipse cx="120" cy="240" rx="55" ry="20" fill="rgb(10,205,10)" opacity="0.4" filter="url(#g8)"/>
<rect width="234" height="233" fill="#000" opacity="0.2" filter="url(#mottle)"/>
<circle cx="88" cy="195" r="4.8" fill="rgb(40,200,40)" filter="url(#g1_5)"/>
<circle cx="155" cy="195" r="5.2" fill="rgb(40,200,40)" filter="url(#g1_5)"/>
<g filter="url(#g3)" opacity="0.7">
<circle cx="112.1" cy="107.2" r="7.7" fill="rgb(150,230,10)"/>
<circle cx="129.9" cy="104.8" r="7.7" fill="rgb(150,230,10)"/>
<circle cx="133.1" cy="117.5" r="4.3" fill="rgb(150,230,10)"/>
<circle cx="108.9" cy="122.7" r="5.3" fill="rgb(150,230,10)"/>
<circle cx="109.7" cy="127.4" r="5.3" fill="rgb(150,230,10)"/>
<circle cx="103" cy="127.8" r="3.1" fill="rgb(150,230,10)"/>
<circle cx="129.9" cy="125.4" r="5.3" fill="rgb(150,230,10)"/>
<circle cx="133.1" cy="123.9" r="4.3" fill="rgb(150,230,10)"/>
<circle cx="126.8" cy="130.2" r="4.8" fill="rgb(150,230,10)"/>
<circle cx="115.6" cy="133.4" r="3.8" fill="rgb(150,230,10)"/>
<circle cx="114.1" cy="139.7" r="3.6" fill="rgb(150,230,10)"/>
<circle cx="114.9" cy="143.7" r="3.6" fill="rgb(150,230,10)"/>
<circle cx="126" cy="141.3" r="4.3" fill="rgb(150,230,10)"/>
<circle cx="126.8" cy="144.5" r="3.6" fill="rgb(150,230,10)"/>
<circle cx="123.6" cy="136.6" r="3.4" fill="rgb(150,230,10)"/>
</g>
<g filter="url(#g1)">
<circle cx="112.1" cy="107.2" r="3.8" fill="rgb(225,255,0)"/>
<circle cx="129.9" cy="104.8" r="3.8" fill="rgb(225,255,0)"/>
<circle cx="133.1" cy="117.5" r="2.2" fill="rgb(225,255,0)"/>
<circle cx="108.9" cy="122.7" r="2.6" fill="rgb(225,255,0)"/>
<circle cx="109.7" cy="127.4" r="2.6" fill="rgb(225,255,0)"/>
<circle cx="103" cy="127.8" r="1.6" fill="rgb(225,255,0)"/>
<circle cx="129.9" cy="125.4" r="2.6" fill="rgb(225,255,0)"/>
<circle cx="133.1" cy="123.9" r="2.2" fill="rgb(225,255,0)"/>
<circle cx="126.8" cy="130.2" r="2.4" fill="rgb(225,255,0)"/>
<circle cx="115.6" cy="133.4" r="1.9" fill="rgb(225,255,0)"/>
<circle cx="114.1" cy="139.7" r="1.8" fill="rgb(225,255,0)"/>
<circle cx="114.9" cy="143.7" r="1.8" fill="rgb(225,255,0)"/>
<circle cx="126" cy="141.3" r="2.2" fill="rgb(225,255,0)"/>
<circle cx="126.8" cy="144.5" r="1.8" fill="rgb(225,255,0)"/>
<circle cx="123.6" cy="136.6" r="1.7" fill="rgb(225,255,0)"/>
</g>
</g>
<rect width="50" height="36.5" fill="#6f6f6f"/>
<text x="11.5" y="25.5" fill="#fff">G2</text>
<rect x="185.2" y="209.5" width="35.7" height="3.7" fill="#fff"/>
</g>
<g transform="translate(523 759.5)">
<rect width="234" height="233" fill="#000"/>
<g clip-path="url(#imgclip)">
<ellipse cx="50" cy="100" rx="22" ry="48" transform="rotate(5 50 100)" fill="rgb(0,42,0)" filter="url(#g5)"/>
<ellipse cx="185" cy="95" rx="26" ry="46" transform="rotate(-5 185 95)" fill="rgb(0,42,0)" filter="url(#g5)"/>
<ellipse cx="115" cy="140" rx="68" ry="106" fill="rgb(0,95,0)" filter="url(#g5)"/>
<ellipse cx="52" cy="100" rx="10" ry="30" transform="rotate(5 52 100)" fill="rgb(0,0,0)" opacity="0.4" filter="url(#g6)"/>
<ellipse cx="185" cy="95" rx="12" ry="28" transform="rotate(-5 185 95)" fill="rgb(0,0,0)" opacity="0.4" filter="url(#g6)"/>
<path d="M80,62 100,40 122,34 145,40 165,62" fill="none" stroke="rgb(30,175,30)" stroke-width="2.5" stroke-linecap="round" stroke-linejoin="round" opacity="0.8" filter="url(#g1_5)"/>
<path d="M52,110 47,170 55,225" fill="none" stroke="rgb(0,130,0)" stroke-width="3" stroke-linecap="round" stroke-linejoin="round" filter="url(#g3)"/>
<path d="M178,110 182,170 175,225" fill="none" stroke="rgb(0,130,0)" stroke-width="3" stroke-linecap="round" stroke-linejoin="round" filter="url(#g3)"/>
<ellipse cx="125" cy="240" rx="45" ry="20" fill="rgb(10,205,10)" opacity="0.5" filter="url(#g8)"/>
<rect width="234" height="233" fill="#000" opacity="0.2" filter="url(#mottle)"/>
<circle cx="79" cy="190" r="5.5" fill="rgb(30,160,30)" filter="url(#g1_5)"/>
<circle cx="145" cy="192" r="5" fill="rgb(30,160,30)" filter="url(#g1_5)"/>
<g filter="url(#g3)" opacity="0.7">
<circle cx="106.3" cy="89.9" r="6.7" fill="rgb(150,230,10)"/>
<circle cx="108.3" cy="96.7" r="5.8" fill="rgb(150,230,10)"/>
<circle cx="127.3" cy="96.7" r="6.7" fill="rgb(150,230,10)"/>
<circle cx="125.5" cy="94" r="4.8" fill="rgb(150,230,10)"/>
<circle cx="103.9" cy="113.4" r="7.2" fill="rgb(150,230,10)"/>
<circle cx="105.9" cy="116.5" r="4.8" fill="rgb(150,230,10)"/>
<circle cx="109.1" cy="122.9" r="5.3" fill="rgb(150,230,10)"/>
<circle cx="107.5" cy="130.8" r="6.2" fill="rgb(150,230,10)"/>
<circle cx="128.9" cy="111" r="5.8" fill="rgb(150,230,10)"/>
<circle cx="125.8" cy="115.7" r="6.2" fill="rgb(150,230,10)"/>
<circle cx="123.4" cy="120.5" r="5.8" fill="rgb(150,230,10)"/>
<circle cx="120.2" cy="126" r="5.8" fill="rgb(150,230,10)"/>
<circle cx="125.4" cy="129.2" r="6" fill="rgb(150,230,10)"/>
<circle cx="136.1" cy="122.1" r="4.3" fill="rgb(150,230,10)"/>
<circle cx="128.1" cy="134.8" r="2.9" fill="rgb(150,230,10)"/>
</g>
<g filter="url(#g1)">
<circle cx="106.3" cy="89.9" r="3.4" fill="rgb(225,255,0)"/>
<circle cx="108.3" cy="96.7" r="2.9" fill="rgb(225,255,0)"/>
<circle cx="127.3" cy="96.7" r="3.4" fill="rgb(225,255,0)"/>
<circle cx="125.5" cy="94" r="2.4" fill="rgb(225,255,0)"/>
<circle cx="103.9" cy="113.4" r="3.6" fill="rgb(225,255,0)"/>
<circle cx="105.9" cy="116.5" r="2.4" fill="rgb(225,255,0)"/>
<circle cx="109.1" cy="122.9" r="2.6" fill="rgb(225,255,0)"/>
<circle cx="107.5" cy="130.8" r="3.1" fill="rgb(225,255,0)"/>
<circle cx="128.9" cy="111" r="2.9" fill="rgb(225,255,0)"/>
<circle cx="125.8" cy="115.7" r="3.1" fill="rgb(225,255,0)"/>
<circle cx="123.4" cy="120.5" r="2.9" fill="rgb(225,255,0)"/>
<circle cx="120.2" cy="126" r="2.9" fill="rgb(225,255,0)"/>
<circle cx="125.4" cy="129.2" r="3" fill="rgb(225,255,0)"/>
<circle cx="136.1" cy="122.1" r="2.2" fill="rgb(225,255,0)"/>
<circle cx="128.1" cy="134.8" r="1.4" fill="rgb(225,255,0)"/>
</g>
</g>
<rect width="50" height="36.5" fill="#6f6f6f"/>
<text x="11.5" y="25.5" fill="#fff">G3</text>
<rect x="185.2" y="209.5" width="35.7" height="3.7" fill="#fff"/>
</g>
<g transform="translate(769 759.5)">
<rect width="234" height="233" fill="#000"/>
<g clip-path="url(#imgclip)">
<ellipse cx="52" cy="100" rx="27" ry="52" transform="rotate(6 52 100)" fill="rgb(0,60,0)" filter="url(#g5)"/>
<ellipse cx="178" cy="98" rx="28" ry="52" transform="rotate(-6 178 98)" fill="rgb(0,62,0)" filter="url(#g5)"/>
<ellipse cx="115" cy="148" rx="65" ry="100" fill="rgb(0,88,0)" filter="url(#g5)"/>
<ellipse cx="111" cy="68" rx="36" ry="30" fill="rgb(0,90,0)" filter="url(#g5)"/>
<ellipse cx="50" cy="100" rx="12" ry="30" transform="rotate(6 50 100)" fill="rgb(0,0,0)" opacity="0.3" filter="url(#g6)"/>
<ellipse cx="180" cy="98" rx="13" ry="30" transform="rotate(-6 180 98)" fill="rgb(0,0,0)" opacity="0.3" filter="url(#g6)"/>
<path d="M78,64 95,44 111,39 128,44 145,64" fill="none" stroke="rgb(30,170,30)" stroke-width="2.5" stroke-linecap="round" stroke-linejoin="round" opacity="0.5" filter="url(#g2)"/>
<path d="M55,110 50,170 58,225" fill="none" stroke="rgb(0,130,0)" stroke-width="3" stroke-linecap="round" stroke-linejoin="round" filter="url(#g3)"/>
<path d="M175,110 178,170 172,225" fill="none" stroke="rgb(0,130,0)" stroke-width="3" stroke-linecap="round" stroke-linejoin="round" filter="url(#g3)"/>
<path d="M192,68 198,90 196,105" fill="none" stroke="rgb(30,200,30)" stroke-width="3.5" stroke-linecap="round" stroke-linejoin="round" filter="url(#g2_5)"/>
<path d="M36,85 33,100" fill="none" stroke="rgb(0,150,0)" stroke-width="3" stroke-linecap="round" stroke-linejoin="round" filter="url(#g2_5)"/>
<ellipse cx="136" cy="240" rx="46" ry="26" fill="rgb(10,205,10)" opacity="0.7" filter="url(#g8)"/>
<rect width="234" height="233" fill="#000" opacity="0.2" filter="url(#mottle)"/>
<circle cx="90" cy="200" r="4.5" fill="rgb(40,190,40)" filter="url(#g1_5)"/>
<circle cx="157" cy="193" r="4.5" fill="rgb(40,190,40)" filter="url(#g1_5)"/>
<circle cx="92" cy="156.7" r="2.5" fill="rgb(40,190,40)" filter="url(#g1_5)"/>
<circle cx="139.6" cy="155.1" r="2.5" fill="rgb(40,190,40)" filter="url(#g1_5)"/>
<g filter="url(#g3)" opacity="0.7">
<circle cx="103.9" cy="106.3" r="6.2" fill="rgb(150,230,10)"/>
<circle cx="105.5" cy="109.9" r="4.8" fill="rgb(150,230,10)"/>
<circle cx="121.4" cy="102.7" r="4.8" fill="rgb(150,230,10)"/>
<circle cx="122.2" cy="107.1" r="5.8" fill="rgb(150,230,10)"/>
<circle cx="105.5" cy="115" r="3.8" fill="rgb(150,230,10)"/>
<circle cx="105.5" cy="122.2" r="6.2" fill="rgb(150,230,10)"/>
<circle cx="106.3" cy="127.3" r="7.2" fill="rgb(150,230,10)"/>
<circle cx="125.3" cy="117.8" r="4.3" fill="rgb(150,230,10)"/>
<circle cx="123" cy="122.2" r="5.3" fill="rgb(150,230,10)"/>
<circle cx="125.7" cy="123.8" r="6.2" fill="rgb(150,230,10)"/>
<circle cx="123" cy="128.9" r="6.2" fill="rgb(150,230,10)"/>
<circle cx="133.7" cy="128.1" r="4.3" fill="rgb(150,230,10)"/>
<circle cx="110.3" cy="143.2" r="6.7" fill="rgb(150,230,10)"/>
<circle cx="116.6" cy="140" r="4.8" fill="rgb(150,230,10)"/>
<circle cx="122.2" cy="138.4" r="4.8" fill="rgb(150,230,10)"/>
<circle cx="127.7" cy="143.6" r="6.2" fill="rgb(150,230,10)"/>
</g>
<g filter="url(#g1)">
<circle cx="103.9" cy="106.3" r="3.1" fill="rgb(225,255,0)"/>
<circle cx="105.5" cy="109.9" r="2.4" fill="rgb(225,255,0)"/>
<circle cx="121.4" cy="102.7" r="2.4" fill="rgb(225,255,0)"/>
<circle cx="122.2" cy="107.1" r="2.9" fill="rgb(225,255,0)"/>
<circle cx="105.5" cy="115" r="1.9" fill="rgb(225,255,0)"/>
<circle cx="105.5" cy="122.2" r="3.1" fill="rgb(225,255,0)"/>
<circle cx="106.3" cy="127.3" r="3.6" fill="rgb(225,255,0)"/>
<circle cx="125.3" cy="117.8" r="2.2" fill="rgb(225,255,0)"/>
<circle cx="123" cy="122.2" r="2.6" fill="rgb(225,255,0)"/>
<circle cx="125.7" cy="123.8" r="3.1" fill="rgb(225,255,0)"/>
<circle cx="123" cy="128.9" r="3.1" fill="rgb(225,255,0)"/>
<circle cx="133.7" cy="128.1" r="2.2" fill="rgb(225,255,0)"/>
<circle cx="110.3" cy="143.2" r="3.4" fill="rgb(225,255,0)"/>
<circle cx="116.6" cy="140" r="2.4" fill="rgb(225,255,0)"/>
<circle cx="122.2" cy="138.4" r="2.4" fill="rgb(225,255,0)"/>
<circle cx="127.7" cy="143.6" r="3.1" fill="rgb(225,255,0)"/>
</g>
</g>
<rect width="50" height="36.5" fill="#6f6f6f"/>
<text x="11.5" y="25.5" fill="#fff">G4</text>
<rect x="185.2" y="209.5" width="35.7" height="3.7" fill="#fff"/>
</g>
<g transform="translate(1014 759.5)">
<rect width="234" height="233" fill="#000"/>
<g clip-path="url(#imgclip)">
<ellipse cx="55" cy="95" rx="32" ry="52" transform="rotate(8 55 95)" fill="rgb(0,60,0)" filter="url(#g5)"/>
<ellipse cx="180" cy="95" rx="28" ry="50" transform="rotate(-8 180 95)" fill="rgb(0,56,0)" filter="url(#g5)"/>
<ellipse cx="120" cy="105" rx="58" ry="75" fill="rgb(0,82,0)" filter="url(#g5)"/>
<ellipse cx="118" cy="185" rx="70" ry="62" fill="rgb(0,82,0)" filter="url(#g5)"/>
<ellipse cx="75" cy="140" rx="20" ry="25" fill="rgb(0,70,0)" filter="url(#g5)"/>
<ellipse cx="165" cy="140" rx="20" ry="25" fill="rgb(0,70,0)" filter="url(#g5)"/>
<ellipse cx="52" cy="95" rx="14" ry="30" transform="rotate(8 52 95)" fill="rgb(0,0,0)" opacity="0.3" filter="url(#g6)"/>
<ellipse cx="182" cy="95" rx="13" ry="30" transform="rotate(-8 182 95)" fill="rgb(0,0,0)" opacity="0.3" filter="url(#g6)"/>
<ellipse cx="115" cy="242" rx="42" ry="26" fill="rgb(10,205,10)" opacity="0.8" filter="url(#g7)"/>
<path d="M44,55 40,68 38,80" fill="none" stroke="rgb(30,200,30)" stroke-width="3" stroke-linecap="round" stroke-linejoin="round" filter="url(#g1_5)"/>
<path d="M197,80 203,100" fill="none" stroke="rgb(0,140,0)" stroke-width="3" stroke-linecap="round" stroke-linejoin="round" filter="url(#g2_5)"/>
<rect width="234" height="233" fill="#000" opacity="0.2" filter="url(#mottle)"/>
<circle cx="96.6" cy="149.3" r="6" fill="rgb(120,200,20)" opacity="0.55" filter="url(#g3)"/>
<circle cx="142.6" cy="148.5" r="6" fill="rgb(120,200,20)" opacity="0.55" filter="url(#g3)"/>
<circle cx="85.5" cy="192" r="5" fill="rgb(40,180,40)" filter="url(#g1_5)"/>
<circle cx="151.4" cy="191" r="5.5" fill="rgb(40,180,40)" filter="url(#g1_5)"/>
<g filter="url(#g3)" opacity="0.7">
<circle cx="108.9" cy="100.9" r="9.6" fill="rgb(150,230,10)"/>
<circle cx="127.9" cy="100.5" r="9.1" fill="rgb(150,230,10)"/>
<circle cx="107.3" cy="118.4" r="9.6" fill="rgb(150,230,10)"/>
<circle cx="131.9" cy="117.2" r="7.2" fill="rgb(150,230,10)"/>
<circle cx="125.1" cy="122.3" r="7.7" fill="rgb(150,230,10)"/>
<circle cx="112.4" cy="127.1" r="7.2" fill="rgb(150,230,10)"/>
<circle cx="114.8" cy="132.6" r="7.2" fill="rgb(150,230,10)"/>
<circle cx="112.4" cy="139" r="7.7" fill="rgb(150,230,10)"/>
<circle cx="107.7" cy="140.6" r="5.3" fill="rgb(150,230,10)"/>
<circle cx="124.4" cy="138.2" r="7.7" fill="rgb(150,230,10)"/>
<circle cx="125.1" cy="129.5" r="6.7" fill="rgb(150,230,10)"/>
<circle cx="112.4" cy="145.3" r="3.6" fill="rgb(150,230,10)"/>
<circle cx="101.7" cy="123.5" r="3.1" fill="rgb(150,230,10)"/>
<circle cx="98.6" cy="130.7" r="3.1" fill="rgb(150,230,10)"/>
</g>
<g filter="url(#g1)">
<circle cx="108.9" cy="100.9" r="4.8" fill="rgb(225,255,0)"/>
<circle cx="127.9" cy="100.5" r="4.6" fill="rgb(225,255,0)"/>
<circle cx="107.3" cy="118.4" r="4.8" fill="rgb(225,255,0)"/>
<circle cx="131.9" cy="117.2" r="3.6" fill="rgb(225,255,0)"/>
<circle cx="125.1" cy="122.3" r="3.8" fill="rgb(225,255,0)"/>
<circle cx="112.4" cy="127.1" r="3.6" fill="rgb(225,255,0)"/>
<circle cx="114.8" cy="132.6" r="3.6" fill="rgb(225,255,0)"/>
<circle cx="112.4" cy="139" r="3.8" fill="rgb(225,255,0)"/>
<circle cx="107.7" cy="140.6" r="2.6" fill="rgb(225,255,0)"/>
<circle cx="124.4" cy="138.2" r="3.8" fill="rgb(225,255,0)"/>
<circle cx="125.1" cy="129.5" r="3.4" fill="rgb(225,255,0)"/>
<circle cx="112.4" cy="145.3" r="1.8" fill="rgb(225,255,0)"/>
<circle cx="101.7" cy="123.5" r="1.6" fill="rgb(225,255,0)"/>
<circle cx="98.6" cy="130.7" r="1.6" fill="rgb(225,255,0)"/>
</g>
</g>
<rect width="50" height="36.5" fill="#6f6f6f"/>
<text x="11.5" y="25.5" fill="#fff">G5</text>
<rect x="185.2" y="209.5" width="35.7" height="3.7" fill="#fff"/>
</g>
<g transform="translate(1263 759)">
<rect width="234" height="233" fill="#000"/>
<g clip-path="url(#imgclip)">
<ellipse cx="52" cy="95" rx="28" ry="52" transform="rotate(8 52 95)" fill="rgb(0,56,0)" filter="url(#g5)"/>
<ellipse cx="172" cy="92" rx="27" ry="50" transform="rotate(-8 172 92)" fill="rgb(0,52,0)" filter="url(#g5)"/>
<ellipse cx="110" cy="105" rx="60" ry="75" fill="rgb(0,80,0)" filter="url(#g5)"/>
<ellipse cx="112" cy="185" rx="70" ry="62" fill="rgb(0,78,0)" filter="url(#g5)"/>
<ellipse cx="68" cy="140" rx="20" ry="25" fill="rgb(0,66,0)" filter="url(#g5)"/>
<ellipse cx="155" cy="138" rx="20" ry="25" fill="rgb(0,66,0)" filter="url(#g5)"/>
<ellipse cx="50" cy="95" rx="13" ry="30" transform="rotate(8 50 95)" fill="rgb(0,0,0)" opacity="0.3" filter="url(#g6)"/>
<ellipse cx="175" cy="92" rx="13" ry="30" transform="rotate(-8 175 92)" fill="rgb(0,0,0)" opacity="0.3" filter="url(#g6)"/>
<ellipse cx="112" cy="246" rx="88" ry="40" fill="rgb(10,205,10)" opacity="0.8" filter="url(#g8)"/>
<ellipse cx="112" cy="234" rx="26" ry="12" fill="rgb(20,240,20)" opacity="0.6" filter="url(#g5)"/>
<path d="M35,75 31,100" fill="none" stroke="rgb(20,180,20)" stroke-width="3" stroke-linecap="round" stroke-linejoin="round" filter="url(#g2_5)"/>
<path d="M186,78 192,100" fill="none" stroke="rgb(0,130,0)" stroke-width="3" stroke-linecap="round" stroke-linejoin="round" filter="url(#g2_5)"/>
<rect width="234" height="233" fill="#000" opacity="0.2" filter="url(#mottle)"/>
<circle cx="103.4" cy="149" r="8" fill="rgb(120,200,20)" opacity="0.55" filter="url(#g3)"/>
<circle cx="139.2" cy="145.8" r="6" fill="rgb(120,200,20)" opacity="0.55" filter="url(#g3)"/>
<circle cx="83" cy="183" r="4" fill="rgb(30,150,30)" filter="url(#g1_5)"/>
<circle cx="148" cy="184" r="4" fill="rgb(30,150,30)" filter="url(#g1_5)"/>
<g filter="url(#g3)" opacity="0.7">
<circle cx="104.2" cy="96.6" r="8.2" fill="rgb(150,230,10)"/>
<circle cx="103.8" cy="101.4" r="7.7" fill="rgb(150,230,10)"/>
<circle cx="103.4" cy="109.3" r="6.2" fill="rgb(150,230,10)"/>
<circle cx="101.5" cy="116.5" r="8.2" fill="rgb(150,230,10)"/>
<circle cx="104.2" cy="121.2" r="6.2" fill="rgb(150,230,10)"/>
<circle cx="108.2" cy="124.4" r="6.2" fill="rgb(150,230,10)"/>
<circle cx="109.8" cy="122" r="4.8" fill="rgb(150,230,10)"/>
<circle cx="114.6" cy="129.2" r="6.2" fill="rgb(150,230,10)"/>
<circle cx="118.5" cy="130" r="5.8" fill="rgb(150,230,10)"/>
<circle cx="120.9" cy="134.7" r="5.8" fill="rgb(150,230,10)"/>
<circle cx="106.6" cy="134.7" r="5.3" fill="rgb(150,230,10)"/>
<circle cx="124.5" cy="93.1" r="4.8" fill="rgb(150,230,10)"/>
<circle cx="123.3" cy="102.2" r="7.7" fill="rgb(150,230,10)"/>
<circle cx="122.9" cy="111.7" r="5.8" fill="rgb(150,230,10)"/>
<circle cx="126.5" cy="117.7" r="4.8" fill="rgb(150,230,10)"/>
<circle cx="126.1" cy="122" r="4.3" fill="rgb(150,230,10)"/>
</g>
<g filter="url(#g1)">
<circle cx="104.2" cy="96.6" r="4.1" fill="rgb(225,255,0)"/>
<circle cx="103.8" cy="101.4" r="3.8" fill="rgb(225,255,0)"/>
<circle cx="103.4" cy="109.3" r="3.1" fill="rgb(225,255,0)"/>
<circle cx="101.5" cy="116.5" r="4.1" fill="rgb(225,255,0)"/>
<circle cx="104.2" cy="121.2" r="3.1" fill="rgb(225,255,0)"/>
<circle cx="108.2" cy="124.4" r="3.1" fill="rgb(225,255,0)"/>
<circle cx="109.8" cy="122" r="2.4" fill="rgb(225,255,0)"/>
<circle cx="114.6" cy="129.2" r="3.1" fill="rgb(225,255,0)"/>
<circle cx="118.5" cy="130" r="2.9" fill="rgb(225,255,0)"/>
<circle cx="120.9" cy="134.7" r="2.9" fill="rgb(225,255,0)"/>
<circle cx="106.6" cy="134.7" r="2.6" fill="rgb(225,255,0)"/>
<circle cx="124.5" cy="93.1" r="2.4" fill="rgb(225,255,0)"/>
<circle cx="123.3" cy="102.2" r="3.8" fill="rgb(225,255,0)"/>
<circle cx="122.9" cy="111.7" r="2.9" fill="rgb(225,255,0)"/>
<circle cx="126.5" cy="117.7" r="2.4" fill="rgb(225,255,0)"/>
<circle cx="126.1" cy="122" r="2.2" fill="rgb(225,255,0)"/>
</g>
</g>
<rect width="50" height="36.5" fill="#6f6f6f"/>
<text x="11.5" y="25.5" fill="#fff">G6</text>
<rect x="185.2" y="209.5" width="35.7" height="3.7" fill="#fff"/>
</g>
</svg>
</body></html>
